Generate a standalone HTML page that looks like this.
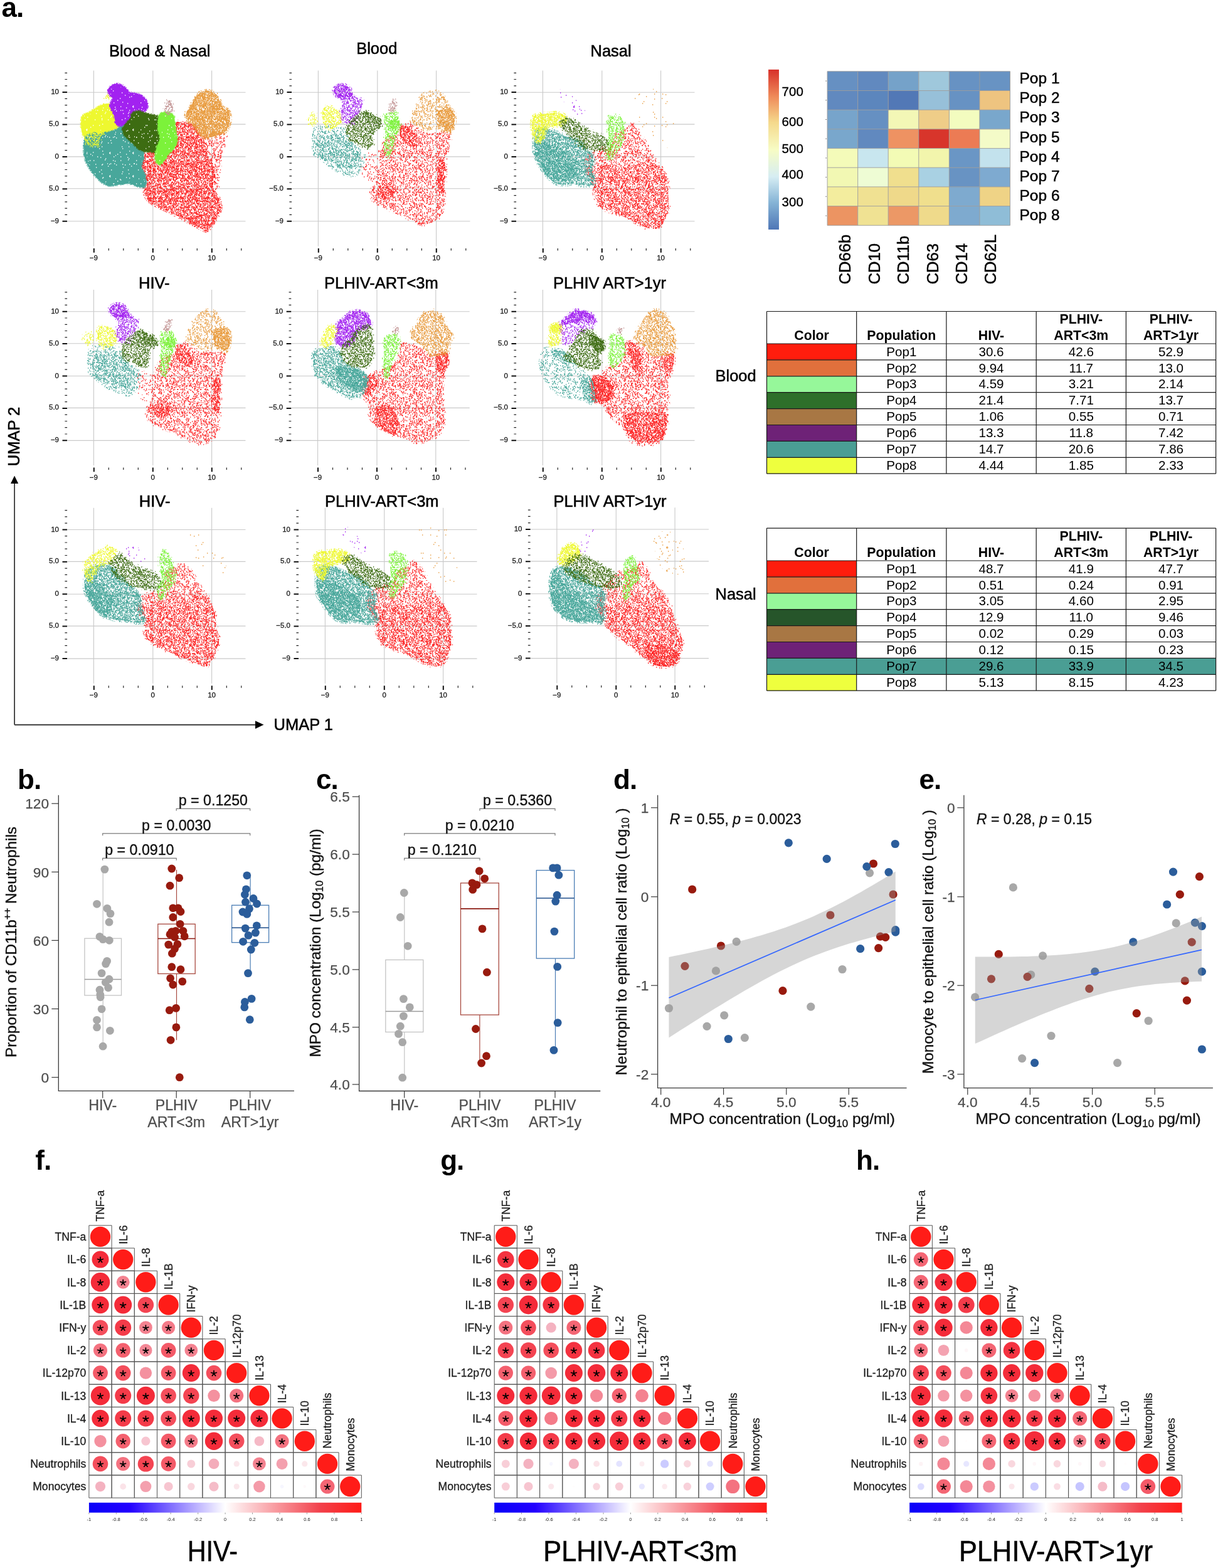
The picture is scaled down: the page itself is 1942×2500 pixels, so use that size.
<!DOCTYPE html><html><head><meta charset="utf-8"><title>Figure</title><style>html,body{margin:0;padding:0;background:#fff}svg{display:block;filter:blur(0.45px)}</style></head><body><svg width="1942" height="2500" viewBox="0 0 1942 2500" font-family='"Liberation Sans", Arial, Helvetica, sans-serif'><defs><pattern id="ptE37" width="37" height="37" patternUnits="userSpaceOnUse"><path d="M20 9h1.35M25 3h1.35M4 34h1.35M6 23h1.35M3 32h1.35M13 2h1.35M5 27h1.35M26 4h1.35M15 5h1.35M35 27h1.35M3 36h1.35M7 14h1.35M3 36h1.35M25 3h1.35M14 2h1.35M35 8h1.35M18 26h1.35M9 34h1.35M7 36h1.35M19 35h1.35M11 6h1.35M36 12h1.35M23 6h1.35M35 4h1.35M36 3h1.35M13 31h1.35M34 27h1.35M20 29h1.35M29 23h1.35M19 15h1.35M11 15h1.35M5 36h1.35M19 33h1.35M31 21h1.35M28 18h1.35M4 7h1.35M32 26h1.35M10 21h1.35M9 31h1.35M26 2h1.35M4 35h1.35M36 20h1.35M21 22h1.35M31 29h1.35M4 5h1.35M17 30h1.35M4 3h1.35M19 36h1.35M28 18h1.35M24 22h1.35M1 29h1.35M22 10h1.35M7 31h1.35M3 13h1.35M18 8h1.35M15 25h1.35M25 31h1.35M5 10h1.35M28 25h1.35M35 17h1.35M8 27h1.35M35 17h1.35M26 22h1.35M24 14h1.35M9 5h1.35M11 9h1.35M14 14h1.35M0 31h1.35M11 16h1.35M18 0h1.35M9 26h1.35M34 23h1.35M36 20h1.35M8 32h1.35M3 29h1.35M35 25h1.35M25 25h1.35M25 6h1.35M30 25h1.35M3 12h1.35M4 13h1.35M28 10h1.35M7 21h1.35M3 6h1.35M0 36h1.35M9 34h1.35M6 23h1.35M1 4h1.35M13 24h1.35M9 16h1.35M22 23h1.35M30 7h1.35M7 31h1.35M29 30h1.35M30 19h1.35M5 9h1.35M6 21h1.35M16 30h1.35M10 33h1.35M1 13h1.35M33 23h1.35M9 34h1.35M1 33h1.35M19 5h1.35M16 33h1.35M23 10h1.35M22 14h1.35M34 34h1.35M32 21h1.35M14 12h1.35M15 25h1.35M14 12h1.35M33 31h1.35M22 1h1.35M1 17h1.35M30 16h1.35M12 22h1.35M28 22h1.35M23 5h1.35M14 6h1.35M14 30h1.35M12 21h1.35M13 30h1.35M0 30h1.35M22 5h1.35M7 24h1.35M12 30h1.35M11 27h1.35M21 5h1.35M25 29h1.35M25 5h1.35M10 10h1.35M8 1h1.35M9 29h1.35M9 30h1.35M22 9h1.35M35 35h1.35M8 1h1.35M0 6h1.35M33 8h1.35M27 12h1.35M13 1h1.35M16 13h1.35M18 32h1.35M15 20h1.35M16 34h1.35M26 8h1.35M3 22h1.35M29 33h1.35M26 32h1.35M8 34h1.35M9 33h1.35M32 1h1.35M28 11h1.35M0 9h1.35M11 9h1.35M30 7h1.35M35 3h1.35M20 33h1.35M33 35h1.35M30 6h1.35M35 3h1.35M15 12h1.35M17 2h1.35M6 32h1.35M28 35h1.35M1 4h1.35M28 20h1.35M32 32h1.35M12 17h1.35M28 32h1.35M34 30h1.35M32 15h1.35M33 16h1.35M35 12h1.35M28 8h1.35M26 7h1.35M25 28h1.35M20 4h1.35M15 27h1.35M4 13h1.35M19 7h1.35M9 23h1.35M9 16h1.35M8 29h1.35M14 6h1.35M25 31h1.35M10 14h1.35M10 27h1.35M32 25h1.35M21 26h1.35M12 22h1.35M20 5h1.35M23 1h1.35M21 35h1.35M29 28h1.35M1 24h1.35M21 33h1.35M18 32h1.35M4 7h1.35M14 6h1.35M5 16h1.35M17 2h1.35M11 17h1.35M8 27h1.35M16 25h1.35M9 34h1.35M32 36h1.35M31 20h1.35M5 17h1.35M3 11h1.35M27 4h1.35M17 1h1.35M5 16h1.35M5 14h1.35M4 16h1.35M7 29h1.35M0 21h1.35M35 26h1.35M17 8h1.35M2 33h1.35M15 7h1.35M10 16h1.35M3 11h1.35M12 19h1.35M19 33h1.35M13 18h1.35M28 32h1.35M11 17h1.35M22 1h1.35M16 2h1.35M0 1h1.35M32 35h1.35M12 32h1.35M30 15h1.35M28 6h1.35M27 31h1.35M34 25h1.35M32 19h1.35M13 14h1.35M21 12h1.35M8 25h1.35M22 3h1.35M8 0h1.35M4 16h1.35M27 10h1.35M3 5h1.35M24 32h1.35M18 15h1.35M18 2h1.35M29 11h1.35M10 17h1.35M28 0h1.35M16 23h1.35M21 35h1.35M20 15h1.35M2 19h1.35M13 22h1.35M11 0h1.35M21 24h1.35M5 30h1.35M17 32h1.35M12 15h1.35M32 0h1.35M5 16h1.35M5 9h1.35M25 2h1.35M25 1h1.35M19 19h1.35M14 5h1.35M33 9h1.35M24 20h1.35M31 9h1.35M18 9h1.35M2 32h1.35M27 32h1.35M8 33h1.35M32 36h1.35M1 14h1.35M5 1h1.35M2 8h1.35M23 6h1.35M24 28h1.35M35 3h1.35M1 34h1.35M15 31h1.35M16 0h1.35M29 4h1.35M32 34h1.35M5 33h1.35M4 30h1.35M16 4h1.35M16 15h1.35M13 14h1.35M29 31h1.35M24 4h1.35M30 18h1.35M2 12h1.35M4 9h1.35M21 16h1.35M19 36h1.35M8 0h1.35M30 3h1.35M31 17h1.35M6 13h1.35M31 18h1.35M33 18h1.35M29 29h1.35M29 7h1.35M35 12h1.35M19 5h1.35M30 1h1.35M18 29h1.35M4 32h1.35M28 17h1.35M24 13h1.35M13 4h1.35M5 9h1.35M33 16h1.35M23 8h1.35M32 17h1.35M7 23h1.35M14 31h1.35M31 25h1.35M1 10h1.35M0 31h1.35M28 25h1.35M19 9h1.35M26 22h1.35M24 20h1.35M7 21h1.35M0 20h1.35M21 25h1.35M7 12h1.35M0 18h1.35M16 23h1.35M4 25h1.35M24 4h1.35M23 27h1.35M17 3h1.35M17 6h1.35M3 18h1.35M9 15h1.35M17 27h1.35M32 20h1.35M12 23h1.35M27 1h1.35M25 35h1.35M35 13h1.35M5 3h1.35M26 28h1.35M8 18h1.35M31 3h1.35M35 8h1.35M10 30h1.35M26 21h1.35M18 19h1.35M16 16h1.35M25 15h1.35M19 30h1.35M35 25h1.35M7 10h1.35M10 4h1.35M13 32h1.35M31 35h1.35M14 28h1.35M21 28h1.35M27 8h1.35M35 12h1.35M15 5h1.35M11 21h1.35M35 5h1.35M20 15h1.35M23 16h1.35M36 12h1.35M1 26h1.35M24 26h1.35M33 13h1.35M24 17h1.35M21 3h1.35M31 17h1.35M36 23h1.35M8 32h1.35M33 13h1.35M5 17h1.35M15 24h1.35M25 28h1.35M27 19h1.35M1 8h1.35M2 27h1.35M30 31h1.35M0 4h1.35M25 33h1.35M29 28h1.35M15 6h1.35M14 9h1.35M9 33h1.35M6 29h1.35M5 35h1.35M2 0h1.35M8 14h1.35M36 2h1.35M19 8h1.35M16 33h1.35M27 7h1.35M6 4h1.35M19 33h1.35M12 24h1.35M16 14h1.35M0 0h1.35M34 19h1.35M29 17h1.35M20 15h1.35M30 33h1.35M15 35h1.35M15 1h1.35M26 19h1.35M3 1h1.35M12 31h1.35M26 5h1.35M16 14h1.35M27 23h1.35M14 31h1.35M2 21h1.35M26 23h1.35M25 12h1.35M0 18h1.35M32 4h1.35M13 31h1.35M12 19h1.35M12 14h1.35M29 14h1.35M16 18h1.35M6 31h1.35M11 14h1.35M31 26h1.35M3 9h1.35M25 3h1.35M13 1h1.35M9 26h1.35M3 3h1.35M11 25h1.35M28 20h1.35M7 5h1.35M10 21h1.35M12 11h1.35M33 29h1.35M2 19h1.35M24 23h1.35M21 28h1.35M10 6h1.35M0 5h1.35M17 5h1.35M22 26h1.35M7 35h1.35M13 24h1.35M22 19h1.35M27 5h1.35M3 30h1.35M12 23h1.35M34 28h1.35M12 20h1.35M23 30h1.35M1 26h1.35M15 25h1.35M2 24h1.35M2 29h1.35M4 3h1.35M16 12h1.35M4 21h1.35M23 17h1.35M21 2h1.35M16 20h1.35M17 19h1.35M0 4h1.35M1 14h1.35M6 30h1.35M29 24h1.35M16 27h1.35M31 8h1.35M31 11h1.35M0 19h1.35M9 15h1.35M20 20h1.35M29 23h1.35M5 32h1.35M12 25h1.35M10 15h1.35M26 4h1.35M2 30h1.35M35 34h1.35M20 10h1.35M27 6h1.35M4 16h1.35M5 13h1.35M6 26h1.35M31 28h1.35M11 14h1.35M8 26h1.35M29 15h1.35M34 7h1.35M18 18h1.35M17 36h1.35M17 23h1.35M16 16h1.35M12 28h1.35M15 11h1.35M15 15h1.35M9 18h1.35M12 20h1.35M4 25h1.35M16 15h1.35M32 33h1.35M14 6h1.35M29 2h1.35M6 0h1.35M30 14h1.35M28 23h1.35M2 18h1.35M14 7h1.35M3 12h1.35M12 4h1.35M23 32h1.35M11 28h1.35M16 0h1.35M6 22h1.35M13 2h1.35M23 21h1.35M9 2h1.35M13 16h1.35M2 13h1.35M0 20h1.35M26 23h1.35M11 19h1.35M4 13h1.35M2 31h1.35M35 30h1.35M4 26h1.35M6 25h1.35M35 9h1.35M34 5h1.35M10 25h1.35M17 26h1.35M18 19h1.35M26 3h1.35M19 36h1.35M22 26h1.35M26 1h1.35M23 12h1.35M25 25h1.35M13 0h1.35M27 10h1.35M27 7h1.35M5 25h1.35M36 23h1.35M29 10h1.35M8 0h1.35M3 35h1.35M9 25h1.35M5 36h1.35M23 32h1.35M10 9h1.35M22 18h1.35M10 33h1.35M10 4h1.35M6 24h1.35M31 12h1.35M19 8h1.35" stroke="#fff" stroke-width="1.35"/></pattern><pattern id="ptE43" width="43" height="43" patternUnits="userSpaceOnUse"><path d="M2 30h1.35M20 3h1.35M38 40h1.35M24 5h1.35M39 10h1.35M40 14h1.35M39 25h1.35M39 12h1.35M30 11h1.35M36 13h1.35M2 25h1.35M33 10h1.35M24 22h1.35M7 9h1.35M15 12h1.35M2 35h1.35M2 42h1.35M20 7h1.35M24 38h1.35M29 35h1.35M40 19h1.35M41 26h1.35M19 37h1.35M15 27h1.35M24 42h1.35M23 28h1.35M32 28h1.35M11 1h1.35M0 39h1.35M31 29h1.35M15 28h1.35M39 29h1.35M11 30h1.35M25 6h1.35M4 8h1.35M22 27h1.35M23 5h1.35M28 32h1.35M32 42h1.35M2 2h1.35M40 8h1.35M5 20h1.35M32 5h1.35M3 32h1.35M24 41h1.35M8 1h1.35M4 39h1.35M7 12h1.35M8 31h1.35M18 10h1.35M14 4h1.35M22 39h1.35M16 10h1.35M20 39h1.35M17 29h1.35M9 16h1.35M32 30h1.35M13 37h1.35M16 39h1.35M32 15h1.35M20 23h1.35M2 12h1.35M11 25h1.35M10 40h1.35M17 20h1.35M24 10h1.35M16 7h1.35M33 3h1.35M40 23h1.35M28 35h1.35M33 37h1.35M6 16h1.35M34 40h1.35M25 23h1.35M16 24h1.35M23 36h1.35M9 23h1.35M21 5h1.35M28 14h1.35M11 39h1.35M3 18h1.35M33 16h1.35M19 40h1.35M37 42h1.35M20 0h1.35M2 14h1.35M9 18h1.35M39 40h1.35M27 26h1.35M32 23h1.35M3 8h1.35M31 14h1.35M39 41h1.35M2 1h1.35M3 0h1.35M36 22h1.35M19 6h1.35M33 22h1.35M34 14h1.35M26 37h1.35M19 37h1.35M8 13h1.35M23 39h1.35M30 10h1.35M8 0h1.35M15 9h1.35M28 6h1.35M4 40h1.35M9 42h1.35M17 25h1.35M16 0h1.35M3 41h1.35M35 22h1.35M38 41h1.35M37 28h1.35M38 33h1.35M31 15h1.35M10 0h1.35M2 3h1.35M34 1h1.35M25 11h1.35M15 10h1.35M3 6h1.35M0 39h1.35M35 42h1.35M12 9h1.35M26 12h1.35M33 38h1.35M41 32h1.35M41 41h1.35M26 39h1.35M11 32h1.35M19 4h1.35M19 40h1.35M3 30h1.35M34 0h1.35M24 27h1.35M29 5h1.35M41 28h1.35M11 14h1.35M6 16h1.35M14 41h1.35M2 7h1.35M21 16h1.35M3 17h1.35M40 35h1.35M27 33h1.35M16 18h1.35M41 13h1.35M5 32h1.35M0 10h1.35M16 15h1.35M12 10h1.35M20 12h1.35M24 21h1.35M38 15h1.35M24 40h1.35M42 34h1.35M30 30h1.35M33 0h1.35M1 27h1.35M14 36h1.35M19 13h1.35M25 39h1.35M37 4h1.35M36 10h1.35M9 2h1.35M1 7h1.35M6 39h1.35M10 22h1.35M9 1h1.35M1 2h1.35M8 41h1.35M40 2h1.35M4 2h1.35M4 37h1.35M23 12h1.35M34 42h1.35M4 24h1.35M6 15h1.35M13 13h1.35M7 2h1.35M2 40h1.35M5 40h1.35M40 18h1.35M30 6h1.35M8 6h1.35M41 13h1.35M18 20h1.35M21 27h1.35M16 1h1.35M22 16h1.35M18 3h1.35M23 20h1.35M38 32h1.35M30 18h1.35M39 1h1.35M26 1h1.35M27 33h1.35M6 22h1.35M30 3h1.35M34 36h1.35M13 5h1.35M36 18h1.35M10 27h1.35M0 33h1.35M12 18h1.35M3 0h1.35M22 31h1.35M6 31h1.35M11 31h1.35M37 22h1.35M32 16h1.35M36 10h1.35M18 13h1.35M14 31h1.35M10 7h1.35M40 5h1.35M31 35h1.35M6 40h1.35M20 22h1.35M6 25h1.35M25 5h1.35M27 41h1.35M1 23h1.35M13 19h1.35M16 27h1.35M34 32h1.35M10 24h1.35M40 14h1.35M29 8h1.35M34 38h1.35M38 41h1.35M2 22h1.35M37 20h1.35M33 9h1.35M28 42h1.35M35 20h1.35M10 29h1.35M28 16h1.35M37 14h1.35M8 21h1.35M29 41h1.35M15 32h1.35M12 17h1.35M19 39h1.35M9 9h1.35M15 20h1.35M38 33h1.35M22 10h1.35M15 20h1.35M12 16h1.35M6 10h1.35M42 6h1.35M12 24h1.35M9 9h1.35M19 19h1.35M27 17h1.35M12 6h1.35M40 6h1.35M17 13h1.35M24 29h1.35M2 0h1.35M25 27h1.35M14 32h1.35M40 18h1.35M29 1h1.35M9 16h1.35M38 25h1.35M0 15h1.35M27 36h1.35M37 41h1.35M26 14h1.35M42 41h1.35M41 37h1.35M14 11h1.35M41 7h1.35M29 27h1.35M20 16h1.35M40 6h1.35M26 15h1.35M25 40h1.35M10 16h1.35M27 30h1.35M29 1h1.35M39 26h1.35M33 42h1.35M11 41h1.35M20 0h1.35M24 31h1.35M6 2h1.35M16 34h1.35M13 10h1.35M12 33h1.35M22 6h1.35M36 29h1.35M34 13h1.35M30 32h1.35M1 40h1.35M23 33h1.35M21 26h1.35M29 13h1.35M11 25h1.35M32 7h1.35M39 22h1.35M40 3h1.35M16 17h1.35M24 25h1.35M3 0h1.35M4 26h1.35M26 40h1.35M22 37h1.35M16 6h1.35M14 19h1.35M25 33h1.35M14 25h1.35M29 13h1.35M10 8h1.35M4 40h1.35M12 30h1.35M41 35h1.35M14 9h1.35M22 42h1.35M40 26h1.35M29 18h1.35M35 41h1.35M8 30h1.35M22 14h1.35M17 24h1.35M16 27h1.35M11 30h1.35M0 17h1.35M22 15h1.35M41 19h1.35M20 30h1.35M31 27h1.35M39 40h1.35M5 42h1.35M23 9h1.35M19 24h1.35M3 5h1.35M36 20h1.35M8 33h1.35M22 40h1.35M37 0h1.35M42 0h1.35M13 4h1.35M41 18h1.35M16 38h1.35M6 37h1.35M9 14h1.35M11 28h1.35M22 9h1.35M13 25h1.35M34 10h1.35M39 38h1.35M5 42h1.35M35 40h1.35M19 12h1.35M31 13h1.35M33 5h1.35M28 42h1.35M7 35h1.35M7 16h1.35M26 14h1.35M8 30h1.35M31 35h1.35M3 30h1.35M29 9h1.35M31 15h1.35M31 10h1.35M34 38h1.35M0 10h1.35M20 29h1.35M36 31h1.35M42 18h1.35M29 23h1.35M27 26h1.35M4 11h1.35M40 23h1.35M40 41h1.35M1 1h1.35M39 2h1.35M21 6h1.35M32 30h1.35M31 9h1.35M2 13h1.35M26 40h1.35M8 21h1.35M6 42h1.35M23 21h1.35M30 33h1.35M35 13h1.35M18 27h1.35M21 27h1.35M16 35h1.35M3 18h1.35M18 22h1.35M31 25h1.35M21 32h1.35M17 32h1.35M22 13h1.35M41 31h1.35M7 21h1.35M12 20h1.35M19 8h1.35M37 40h1.35M5 2h1.35M25 35h1.35M25 34h1.35M36 3h1.35M25 19h1.35M6 0h1.35M2 12h1.35M30 38h1.35M42 3h1.35M32 34h1.35M39 24h1.35M39 9h1.35M40 38h1.35M5 13h1.35M2 42h1.35M40 29h1.35M40 11h1.35M6 42h1.35M11 2h1.35M26 6h1.35M41 0h1.35M23 8h1.35M19 35h1.35M16 19h1.35M11 26h1.35M2 20h1.35M1 27h1.35M36 41h1.35M37 3h1.35M31 36h1.35M33 2h1.35M7 26h1.35M36 25h1.35M28 4h1.35M0 24h1.35M38 37h1.35M42 9h1.35M30 26h1.35M35 6h1.35M5 41h1.35M30 13h1.35M9 40h1.35M0 27h1.35M0 0h1.35M42 7h1.35M5 13h1.35M7 8h1.35M30 1h1.35M17 36h1.35M15 28h1.35M11 3h1.35M23 9h1.35M5 18h1.35M40 35h1.35M31 29h1.35M42 16h1.35M3 2h1.35M0 3h1.35M0 41h1.35M39 5h1.35M24 19h1.35M19 38h1.35M10 31h1.35M38 3h1.35M20 23h1.35M36 28h1.35M30 10h1.35M9 7h1.35M23 41h1.35M10 40h1.35M26 30h1.35M24 28h1.35M17 36h1.35M21 18h1.35M17 3h1.35M39 41h1.35M38 21h1.35M38 0h1.35M9 38h1.35M19 37h1.35M27 15h1.35M24 24h1.35M24 38h1.35M14 28h1.35M18 0h1.35M20 16h1.35M17 27h1.35M10 37h1.35M2 18h1.35M9 36h1.35M9 17h1.35M35 31h1.35M22 34h1.35M5 34h1.35M35 31h1.35M24 12h1.35M14 19h1.35M38 3h1.35M25 29h1.35M13 16h1.35M37 0h1.35M24 29h1.35M34 5h1.35M34 22h1.35M4 14h1.35M25 37h1.35M33 16h1.35M33 20h1.35M30 32h1.35M37 12h1.35M12 13h1.35M12 5h1.35M11 18h1.35M23 36h1.35M36 22h1.35M25 33h1.35M9 15h1.35M2 31h1.35M23 6h1.35M23 40h1.35M29 5h1.35M9 20h1.35M38 1h1.35M22 17h1.35M33 38h1.35M1 6h1.35M2 13h1.35M36 31h1.35M37 36h1.35M13 16h1.35M17 27h1.35M6 28h1.35M37 38h1.35M8 16h1.35M2 21h1.35M12 11h1.35M24 5h1.35M1 3h1.35M2 35h1.35M23 29h1.35M31 4h1.35M38 40h1.35M25 7h1.35M5 16h1.35M20 36h1.35M14 41h1.35M5 42h1.35M32 25h1.35M11 28h1.35M10 23h1.35M15 14h1.35M11 2h1.35M16 22h1.35M3 35h1.35M1 3h1.35M16 32h1.35M41 30h1.35M3 6h1.35M9 20h1.35M0 12h1.35M19 37h1.35M37 28h1.35M41 6h1.35M30 20h1.35M23 16h1.35M24 7h1.35M23 30h1.35M24 10h1.35M28 15h1.35M9 0h1.35M29 12h1.35M2 10h1.35M14 4h1.35M39 23h1.35M8 28h1.35M6 24h1.35M1 40h1.35M4 28h1.35M21 20h1.35M14 30h1.35M7 40h1.35M23 9h1.35M21 14h1.35M3 11h1.35M28 35h1.35M9 28h1.35M9 17h1.35M26 26h1.35M15 9h1.35M1 17h1.35M36 18h1.35M21 10h1.35M16 31h1.35M6 20h1.35M29 30h1.35M7 9h1.35M32 3h1.35M40 42h1.35M13 35h1.35M30 18h1.35M7 16h1.35M12 23h1.35M27 16h1.35M15 15h1.35M6 24h1.35M18 26h1.35M10 3h1.35M18 9h1.35M40 1h1.35M28 32h1.35M21 32h1.35M8 28h1.35M0 33h1.35M18 11h1.35M23 27h1.35M2 26h1.35M13 17h1.35M36 11h1.35M8 11h1.35M33 14h1.35M11 12h1.35M38 5h1.35M5 38h1.35M31 17h1.35M11 13h1.35M8 39h1.35M42 40h1.35M12 37h1.35M19 12h1.35M0 4h1.35M33 26h1.35M3 33h1.35M22 21h1.35M18 40h1.35M31 5h1.35M0 26h1.35M30 8h1.35M42 17h1.35M15 11h1.35M36 23h1.35M2 10h1.35M23 36h1.35M38 0h1.35M22 33h1.35M28 33h1.35M4 7h1.35M22 15h1.35M20 24h1.35M36 3h1.35M18 6h1.35M31 28h1.35M32 1h1.35M33 34h1.35M8 1h1.35M15 5h1.35M14 39h1.35M11 10h1.35M6 19h1.35M16 35h1.35M1 1h1.35M6 12h1.35M16 1h1.35M38 40h1.35M36 29h1.35M33 15h1.35M28 6h1.35M22 6h1.35M11 2h1.35M17 7h1.35M29 31h1.35M37 32h1.35M17 7h1.35M7 7h1.35M25 8h1.35M34 37h1.35M14 14h1.35M9 42h1.35M36 29h1.35M25 10h1.35M1 40h1.35M24 26h1.35M38 38h1.35M33 2h1.35M25 3h1.35M23 21h1.35M25 15h1.35M21 27h1.35M36 20h1.35M25 35h1.35M3 20h1.35M33 9h1.35M22 15h1.35M27 42h1.35M40 0h1.35M23 6h1.35M33 11h1.35M4 20h1.35M27 12h1.35M32 42h1.35M1 14h1.35M8 26h1.35M25 29h1.35M40 2h1.35M2 2h1.35M41 39h1.35M17 39h1.35M17 40h1.35M34 2h1.35M39 6h1.35M16 7h1.35M33 0h1.35M27 15h1.35M2 18h1.35M7 19h1.35M22 41h1.35M10 7h1.35M3 38h1.35M32 17h1.35M5 29h1.35M37 34h1.35M9 28h1.35M7 32h1.35M8 18h1.35M26 36h1.35M18 17h1.35M15 5h1.35M34 18h1.35M29 39h1.35M36 14h1.35M41 24h1.35M12 35h1.35M23 29h1.35M35 19h1.35M39 30h1.35M30 19h1.35M1 15h1.35M21 14h1.35M12 32h1.35M34 24h1.35M37 25h1.35M0 22h1.35M10 15h1.35M20 35h1.35M20 31h1.35M17 18h1.35M13 18h1.35M3 1h1.35M10 35h1.35M4 38h1.35M22 28h1.35M42 3h1.35M33 24h1.35M28 22h1.35M6 33h1.35M14 9h1.35M26 21h1.35M42 22h1.35M8 12h1.35M39 39h1.35M17 33h1.35M6 30h1.35" stroke="#fff" stroke-width="1.35"/></pattern><mask id="mE" maskUnits="userSpaceOnUse" x="0" y="0" width="1100" height="1100"><rect width="1100" height="1100" fill="url(#ptE37)"/><rect width="1100" height="1100" fill="url(#ptE43)"/></mask><pattern id="ptD37" width="37" height="37" patternUnits="userSpaceOnUse"><path d="M17 8h1.35M26 6h1.35M0 26h1.35M35 7h1.35M31 25h1.35M36 9h1.35M26 17h1.35M7 24h1.35M28 29h1.35M18 22h1.35M18 22h1.35M25 33h1.35M35 24h1.35M20 0h1.35M31 24h1.35M28 19h1.35M11 34h1.35M19 9h1.35M27 36h1.35M24 14h1.35M5 21h1.35M20 15h1.35M20 13h1.35M27 0h1.35M1 3h1.35M16 36h1.35M31 19h1.35M34 19h1.35M34 27h1.35M33 33h1.35M27 24h1.35M29 22h1.35M2 22h1.35M28 0h1.35M4 33h1.35M14 6h1.35M26 23h1.35M32 25h1.35M35 36h1.35M9 12h1.35M26 31h1.35M25 28h1.35M21 33h1.35M5 10h1.35M23 20h1.35M23 4h1.35M19 32h1.35M11 7h1.35M18 21h1.35M32 26h1.35M10 33h1.35M18 32h1.35M13 32h1.35M12 26h1.35M11 3h1.35M36 6h1.35M22 36h1.35M2 26h1.35M0 0h1.35M19 35h1.35M0 19h1.35M25 6h1.35M0 1h1.35M12 11h1.35M31 35h1.35M36 17h1.35M34 32h1.35M9 36h1.35M12 26h1.35M7 9h1.35M10 33h1.35M32 6h1.35M1 6h1.35M4 10h1.35M33 31h1.35M29 27h1.35M3 0h1.35M20 9h1.35M15 22h1.35M17 10h1.35M2 17h1.35M6 4h1.35M22 12h1.35M28 24h1.35M1 3h1.35M14 25h1.35M2 28h1.35M3 15h1.35M15 14h1.35M2 10h1.35M11 20h1.35M0 29h1.35M19 26h1.35M16 31h1.35M4 15h1.35M24 14h1.35M26 19h1.35M25 31h1.35M1 15h1.35M5 11h1.35M10 22h1.35M24 11h1.35M0 18h1.35M25 35h1.35M23 7h1.35M21 34h1.35M24 21h1.35M25 4h1.35M7 27h1.35M22 35h1.35M15 24h1.35M12 29h1.35M18 22h1.35M15 27h1.35M2 17h1.35M1 21h1.35M9 15h1.35M8 5h1.35M12 17h1.35M34 8h1.35M35 28h1.35M29 15h1.35M10 23h1.35M22 13h1.35M25 24h1.35M13 19h1.35M30 32h1.35M13 14h1.35M28 8h1.35M16 28h1.35M23 34h1.35M15 25h1.35M32 13h1.35M8 7h1.35M32 5h1.35M34 17h1.35M24 1h1.35M36 9h1.35M19 0h1.35M24 5h1.35M11 14h1.35M20 12h1.35M6 4h1.35M35 23h1.35M32 19h1.35M12 4h1.35M19 5h1.35M14 18h1.35M8 25h1.35M18 22h1.35M25 29h1.35M8 17h1.35M11 1h1.35M23 22h1.35M26 1h1.35M29 15h1.35M25 22h1.35M6 11h1.35M18 7h1.35M17 14h1.35M2 25h1.35M2 10h1.35M27 12h1.35M19 9h1.35M24 2h1.35M35 19h1.35M11 36h1.35M14 36h1.35M31 33h1.35M16 27h1.35M36 22h1.35M0 7h1.35M18 2h1.35M3 15h1.35M7 2h1.35M20 13h1.35M22 5h1.35M26 25h1.35M14 17h1.35M33 5h1.35M22 27h1.35M28 21h1.35M32 28h1.35M32 3h1.35M13 27h1.35M32 8h1.35M31 12h1.35M2 35h1.35M16 11h1.35M34 10h1.35M15 34h1.35M16 15h1.35M3 10h1.35M22 22h1.35M26 5h1.35M12 19h1.35M8 8h1.35M31 30h1.35M15 15h1.35M0 32h1.35M28 8h1.35M22 19h1.35M8 9h1.35M36 15h1.35M21 7h1.35M35 27h1.35M10 9h1.35M29 25h1.35M13 7h1.35M18 0h1.35M23 31h1.35M13 2h1.35M3 17h1.35M19 12h1.35M7 19h1.35M28 7h1.35M10 20h1.35M28 29h1.35M36 23h1.35M18 10h1.35M35 4h1.35M2 0h1.35M29 31h1.35M5 21h1.35M36 16h1.35M6 31h1.35M27 31h1.35M12 34h1.35M20 0h1.35M22 5h1.35M18 16h1.35M15 5h1.35M8 1h1.35M1 25h1.35M9 18h1.35M23 11h1.35M33 10h1.35M6 19h1.35M20 24h1.35M11 22h1.35M20 14h1.35M23 8h1.35M35 23h1.35M16 15h1.35M3 2h1.35M6 36h1.35M25 3h1.35M13 31h1.35M27 31h1.35M10 19h1.35M5 9h1.35M14 10h1.35M8 28h1.35M25 5h1.35M2 28h1.35M30 12h1.35M13 23h1.35M0 2h1.35M32 27h1.35M9 18h1.35M4 3h1.35M32 26h1.35M21 4h1.35M28 0h1.35M11 10h1.35M24 18h1.35M0 28h1.35M36 22h1.35M36 12h1.35M30 5h1.35M34 20h1.35M33 29h1.35M27 34h1.35M9 25h1.35M5 3h1.35M21 19h1.35M36 36h1.35M26 23h1.35M30 8h1.35M19 21h1.35M33 1h1.35M12 14h1.35M28 5h1.35M9 23h1.35M35 26h1.35M23 33h1.35M15 36h1.35M28 25h1.35M16 7h1.35M14 11h1.35M12 35h1.35M7 14h1.35M16 6h1.35M12 33h1.35M16 31h1.35M14 35h1.35M29 14h1.35M34 36h1.35M7 32h1.35M36 5h1.35M26 4h1.35M28 8h1.35M32 35h1.35M32 7h1.35M32 6h1.35M29 25h1.35M34 10h1.35M12 36h1.35M30 5h1.35M8 23h1.35M3 25h1.35M15 3h1.35M23 2h1.35M0 13h1.35M29 19h1.35M7 8h1.35M27 5h1.35M12 36h1.35M7 22h1.35M10 23h1.35M21 0h1.35M16 7h1.35M15 23h1.35M32 33h1.35M22 31h1.35M2 22h1.35M6 22h1.35M35 20h1.35M7 2h1.35M15 16h1.35M22 12h1.35M28 1h1.35M28 7h1.35M1 31h1.35M7 4h1.35M16 11h1.35M9 35h1.35M18 24h1.35M9 16h1.35M34 17h1.35M28 0h1.35M1 21h1.35M9 31h1.35M32 30h1.35M2 2h1.35M4 11h1.35M25 30h1.35M10 28h1.35M25 14h1.35M33 4h1.35M23 21h1.35M33 13h1.35M19 8h1.35M2 13h1.35M10 23h1.35M29 21h1.35M36 29h1.35M24 22h1.35M20 0h1.35M21 30h1.35M21 14h1.35M1 15h1.35M29 2h1.35" stroke="#fff" stroke-width="1.35"/></pattern><pattern id="ptD43" width="43" height="43" patternUnits="userSpaceOnUse"><path d="M40 9h1.35M42 9h1.35M17 24h1.35M17 4h1.35M32 16h1.35M22 36h1.35M36 33h1.35M37 8h1.35M2 35h1.35M6 12h1.35M27 40h1.35M36 40h1.35M6 23h1.35M18 15h1.35M9 4h1.35M19 21h1.35M23 32h1.35M40 15h1.35M22 35h1.35M25 21h1.35M3 21h1.35M42 20h1.35M30 32h1.35M23 15h1.35M15 22h1.35M9 8h1.35M13 0h1.35M42 29h1.35M25 28h1.35M25 36h1.35M19 10h1.35M37 4h1.35M9 19h1.35M19 16h1.35M36 35h1.35M42 21h1.35M4 12h1.35M37 5h1.35M37 11h1.35M19 37h1.35M22 29h1.35M22 27h1.35M4 31h1.35M20 11h1.35M17 16h1.35M34 1h1.35M10 40h1.35M17 15h1.35M1 13h1.35M3 25h1.35M28 12h1.35M38 18h1.35M32 41h1.35M6 12h1.35M15 3h1.35M8 38h1.35M3 5h1.35M4 36h1.35M21 8h1.35M0 12h1.35M17 34h1.35M41 0h1.35M40 20h1.35M1 13h1.35M20 20h1.35M1 41h1.35M31 25h1.35M39 21h1.35M11 3h1.35M26 2h1.35M5 40h1.35M39 21h1.35M31 38h1.35M25 16h1.35M29 0h1.35M1 20h1.35M36 41h1.35M20 3h1.35M26 39h1.35M21 10h1.35M5 1h1.35M9 13h1.35M9 33h1.35M5 22h1.35M23 27h1.35M22 34h1.35M37 35h1.35M9 42h1.35M38 36h1.35M21 14h1.35M39 16h1.35M30 2h1.35M41 19h1.35M41 35h1.35M29 35h1.35M17 23h1.35M33 33h1.35M17 8h1.35M16 0h1.35M35 30h1.35M6 41h1.35M23 9h1.35M40 14h1.35M25 5h1.35M1 39h1.35M8 7h1.35M3 34h1.35M32 13h1.35M35 11h1.35M16 38h1.35M23 9h1.35M11 10h1.35M33 1h1.35M22 15h1.35M28 31h1.35M13 40h1.35M22 24h1.35M29 13h1.35M20 1h1.35M6 42h1.35M0 4h1.35M41 25h1.35M22 3h1.35M14 36h1.35M24 26h1.35M24 42h1.35M40 14h1.35M1 16h1.35M1 16h1.35M27 15h1.35M14 22h1.35M13 20h1.35M27 41h1.35M17 19h1.35M31 13h1.35M36 10h1.35M30 17h1.35M8 19h1.35M18 5h1.35M21 0h1.35M31 15h1.35M10 20h1.35M39 38h1.35M28 13h1.35M37 3h1.35M13 23h1.35M2 28h1.35M11 27h1.35M8 19h1.35M1 7h1.35M9 0h1.35M8 19h1.35M9 32h1.35M22 6h1.35M10 29h1.35M25 5h1.35M26 21h1.35M41 42h1.35M25 21h1.35M2 37h1.35M15 12h1.35M40 0h1.35M2 8h1.35M32 38h1.35M14 36h1.35M27 6h1.35M1 3h1.35M20 4h1.35M7 7h1.35M31 8h1.35M33 27h1.35M0 11h1.35M14 34h1.35M9 40h1.35M34 32h1.35M7 33h1.35M22 31h1.35M4 22h1.35M13 14h1.35M4 17h1.35M11 0h1.35M16 17h1.35M4 2h1.35M12 32h1.35M3 26h1.35M35 23h1.35M17 0h1.35M20 2h1.35M41 29h1.35M34 18h1.35M35 21h1.35M26 17h1.35M25 27h1.35M20 34h1.35M26 24h1.35M9 24h1.35M24 26h1.35M9 40h1.35M0 15h1.35M38 32h1.35M16 39h1.35M24 15h1.35M12 42h1.35M7 5h1.35M39 2h1.35M3 25h1.35M35 20h1.35M41 28h1.35M35 42h1.35M20 29h1.35M36 0h1.35M30 41h1.35M30 32h1.35M21 37h1.35M34 24h1.35M15 40h1.35M24 22h1.35M4 25h1.35M33 17h1.35M39 42h1.35M20 4h1.35M40 34h1.35M42 14h1.35M39 16h1.35M16 30h1.35M22 33h1.35M37 30h1.35M36 14h1.35M9 4h1.35M33 23h1.35M33 13h1.35M33 10h1.35M23 15h1.35M11 9h1.35M42 29h1.35M11 40h1.35M41 2h1.35M20 24h1.35M23 27h1.35M7 26h1.35M9 16h1.35M24 6h1.35M23 22h1.35M42 33h1.35M33 19h1.35M28 42h1.35M5 17h1.35M25 18h1.35M28 7h1.35M28 40h1.35M30 11h1.35M33 9h1.35M0 8h1.35M23 31h1.35M33 42h1.35M15 39h1.35M23 33h1.35M21 24h1.35M16 1h1.35M35 12h1.35M0 36h1.35M16 3h1.35M37 11h1.35M19 34h1.35M17 20h1.35M16 15h1.35M16 28h1.35M5 33h1.35M40 31h1.35M5 12h1.35M8 27h1.35M18 39h1.35M23 2h1.35M28 24h1.35M23 2h1.35M18 26h1.35M27 41h1.35M38 16h1.35M22 15h1.35M24 37h1.35M8 39h1.35M12 37h1.35M23 4h1.35M42 13h1.35M21 4h1.35M5 28h1.35M24 25h1.35M33 26h1.35M31 41h1.35M1 6h1.35M37 36h1.35M29 29h1.35M27 26h1.35M30 11h1.35M4 28h1.35M25 31h1.35M8 32h1.35M0 42h1.35M14 12h1.35M25 34h1.35M2 18h1.35M35 21h1.35M24 29h1.35M7 5h1.35M14 4h1.35M36 0h1.35M6 31h1.35M5 13h1.35M36 29h1.35M3 12h1.35M21 30h1.35M3 35h1.35M26 37h1.35M8 26h1.35M3 40h1.35M9 20h1.35M21 12h1.35M33 0h1.35M11 34h1.35M17 33h1.35M16 5h1.35M20 24h1.35M16 42h1.35M19 35h1.35M25 32h1.35M26 3h1.35M19 19h1.35M15 24h1.35M27 34h1.35M16 19h1.35M12 8h1.35M3 13h1.35M34 41h1.35M23 29h1.35M42 31h1.35M37 9h1.35M23 21h1.35M12 29h1.35M35 42h1.35M3 20h1.35M0 34h1.35M4 26h1.35M36 20h1.35M2 17h1.35M14 28h1.35M18 12h1.35M13 37h1.35M39 29h1.35M25 28h1.35M13 13h1.35M3 11h1.35M27 40h1.35M7 3h1.35M8 4h1.35M38 31h1.35M11 0h1.35M35 10h1.35M31 14h1.35M18 13h1.35M34 10h1.35M9 13h1.35M33 6h1.35M29 6h1.35M12 5h1.35M3 26h1.35M14 42h1.35M16 28h1.35M27 9h1.35M3 8h1.35M2 10h1.35M28 18h1.35M14 37h1.35M20 35h1.35M9 19h1.35M16 20h1.35M35 13h1.35M9 42h1.35M14 25h1.35M2 20h1.35M24 9h1.35M41 18h1.35M14 41h1.35M34 5h1.35M12 29h1.35M9 11h1.35M27 21h1.35M25 7h1.35M2 22h1.35M7 42h1.35M13 41h1.35M33 33h1.35M4 18h1.35M31 22h1.35M1 31h1.35M5 12h1.35M31 17h1.35M19 38h1.35M37 34h1.35M5 12h1.35M8 30h1.35M17 14h1.35M37 19h1.35M2 37h1.35M38 6h1.35M0 22h1.35M12 9h1.35M42 19h1.35M3 11h1.35M21 22h1.35M28 30h1.35M15 21h1.35M23 11h1.35M7 19h1.35M4 35h1.35M29 6h1.35M35 7h1.35M10 38h1.35M25 29h1.35M2 2h1.35M2 32h1.35M37 6h1.35M26 41h1.35M8 26h1.35M36 22h1.35M4 23h1.35M42 10h1.35M23 10h1.35M42 5h1.35M21 0h1.35M41 30h1.35M19 9h1.35M16 6h1.35M6 15h1.35M7 9h1.35M31 17h1.35M34 34h1.35M7 20h1.35M29 15h1.35M10 36h1.35M34 2h1.35M32 16h1.35M23 12h1.35M18 25h1.35M35 13h1.35M8 15h1.35M34 32h1.35M15 6h1.35M0 6h1.35M3 31h1.35M36 13h1.35M14 5h1.35M10 9h1.35M16 1h1.35M27 25h1.35M39 33h1.35M7 18h1.35M36 7h1.35M5 42h1.35M37 13h1.35M14 15h1.35M38 32h1.35M3 15h1.35M4 38h1.35M21 6h1.35M2 13h1.35M39 11h1.35M19 21h1.35M5 29h1.35M37 11h1.35M0 20h1.35M26 26h1.35M2 5h1.35M15 9h1.35M32 10h1.35M9 22h1.35M8 13h1.35M12 14h1.35M21 4h1.35M0 30h1.35M2 31h1.35M33 21h1.35M4 38h1.35M40 4h1.35M12 40h1.35M3 23h1.35M26 5h1.35M41 22h1.35M37 10h1.35M31 31h1.35M8 16h1.35" stroke="#fff" stroke-width="1.35"/></pattern><mask id="mD" maskUnits="userSpaceOnUse" x="0" y="0" width="1100" height="1100"><rect width="1100" height="1100" fill="url(#ptD37)"/><rect width="1100" height="1100" fill="url(#ptD43)"/></mask><pattern id="ptN37" width="37" height="37" patternUnits="userSpaceOnUse"><path d="M19 3h1.35M29 10h1.35M27 24h1.35M32 19h1.35M34 7h1.35M4 16h1.35M14 15h1.35M12 29h1.35M35 15h1.35M31 36h1.35M3 25h1.35M25 21h1.35M24 25h1.35M5 14h1.35M21 27h1.35M19 0h1.35M19 31h1.35M1 7h1.35M30 26h1.35M26 19h1.35M29 9h1.35M21 34h1.35M13 5h1.35M22 25h1.35M29 2h1.35M18 21h1.35M5 17h1.35M11 28h1.35M26 34h1.35M15 7h1.35M13 2h1.35M24 11h1.35M24 17h1.35M21 9h1.35M23 10h1.35M14 22h1.35M25 19h1.35M31 20h1.35M32 12h1.35M10 25h1.35M33 0h1.35M0 11h1.35M6 15h1.35M29 36h1.35M16 22h1.35M6 35h1.35M32 24h1.35M8 16h1.35M26 4h1.35M32 21h1.35M28 17h1.35M18 23h1.35M19 24h1.35M33 3h1.35M31 31h1.35M23 1h1.35M3 7h1.35M35 24h1.35M28 19h1.35M32 9h1.35M29 2h1.35M20 30h1.35M8 0h1.35M17 9h1.35M12 36h1.35M32 2h1.35M25 11h1.35M17 15h1.35M18 34h1.35M1 26h1.35M35 26h1.35M5 24h1.35M31 23h1.35M17 20h1.35M10 36h1.35M31 3h1.35M34 22h1.35M8 12h1.35M33 3h1.35M10 19h1.35M33 10h1.35M19 3h1.35M19 24h1.35M23 11h1.35M17 19h1.35M30 12h1.35M20 28h1.35M25 6h1.35M16 23h1.35M25 20h1.35M24 30h1.35M17 7h1.35M13 28h1.35M32 26h1.35M10 20h1.35M2 9h1.35M17 34h1.35M30 35h1.35M26 4h1.35M17 25h1.35M23 25h1.35M33 18h1.35M7 16h1.35M28 0h1.35M2 34h1.35M36 19h1.35M22 23h1.35M16 15h1.35M4 35h1.35M6 26h1.35M7 19h1.35M10 11h1.35M7 25h1.35M25 21h1.35M25 25h1.35M31 21h1.35M22 11h1.35M9 34h1.35M33 26h1.35M18 8h1.35M13 21h1.35M4 26h1.35M4 32h1.35M0 36h1.35M15 36h1.35M27 25h1.35M13 36h1.35M17 8h1.35M9 14h1.35M15 32h1.35M7 18h1.35M2 24h1.35M18 8h1.35M24 17h1.35M4 32h1.35M17 13h1.35M14 19h1.35M6 23h1.35M36 5h1.35M23 1h1.35M33 4h1.35M7 20h1.35M13 0h1.35M29 8h1.35M28 17h1.35M32 3h1.35M28 35h1.35M2 2h1.35M34 29h1.35M7 30h1.35M14 18h1.35M21 21h1.35M33 36h1.35M14 13h1.35M35 13h1.35M18 36h1.35M34 1h1.35M14 11h1.35M1 32h1.35M17 27h1.35M23 4h1.35M17 5h1.35M7 25h1.35M24 32h1.35M26 14h1.35M3 23h1.35M34 21h1.35M16 4h1.35M30 36h1.35M8 27h1.35M29 29h1.35M12 21h1.35M12 7h1.35M25 10h1.35M18 12h1.35M4 33h1.35M1 28h1.35M12 12h1.35M16 12h1.35M35 18h1.35M1 1h1.35M4 22h1.35M13 26h1.35M0 34h1.35M16 35h1.35M22 10h1.35M36 20h1.35M22 19h1.35M6 2h1.35M11 22h1.35M26 1h1.35M29 6h1.35M21 6h1.35M9 23h1.35M30 31h1.35M5 21h1.35M20 30h1.35M8 6h1.35M33 36h1.35M16 32h1.35M24 13h1.35M22 16h1.35M1 12h1.35M17 33h1.35M27 24h1.35M10 27h1.35M8 8h1.35M0 7h1.35M13 34h1.35M24 1h1.35M0 5h1.35M29 2h1.35M13 36h1.35M34 4h1.35M20 21h1.35M35 29h1.35M31 13h1.35M0 15h1.35M13 22h1.35M24 6h1.35M6 8h1.35M12 28h1.35M29 36h1.35M28 4h1.35M36 3h1.35M30 10h1.35M25 15h1.35M30 30h1.35M9 7h1.35M31 24h1.35M4 15h1.35M14 0h1.35M25 36h1.35M14 2h1.35M15 6h1.35M12 0h1.35M2 29h1.35M3 25h1.35M15 14h1.35M2 35h1.35M36 26h1.35M16 2h1.35M9 29h1.35M1 30h1.35M6 6h1.35M11 9h1.35M33 10h1.35M32 20h1.35M6 32h1.35M24 0h1.35M4 1h1.35M35 5h1.35M32 35h1.35M34 4h1.35M3 34h1.35M18 29h1.35M25 0h1.35M35 13h1.35M1 11h1.35M32 29h1.35M13 7h1.35M13 27h1.35M7 5h1.35M34 33h1.35M22 6h1.35M5 15h1.35M6 5h1.35M23 17h1.35M19 19h1.35M18 9h1.35M31 36h1.35M21 12h1.35M0 5h1.35M4 2h1.35M7 13h1.35M33 24h1.35M29 26h1.35M36 13h1.35M5 1h1.35M3 1h1.35M8 27h1.35M3 11h1.35M18 28h1.35M16 8h1.35M16 19h1.35M22 1h1.35M20 24h1.35M6 10h1.35M28 10h1.35M30 20h1.35M17 15h1.35M0 26h1.35M34 1h1.35M21 14h1.35M34 22h1.35M21 0h1.35M15 21h1.35M5 34h1.35M10 6h1.35" stroke="#fff" stroke-width="1.35"/></pattern><pattern id="ptN43" width="43" height="43" patternUnits="userSpaceOnUse"><path d="M2 20h1.35M27 40h1.35M21 23h1.35M4 34h1.35M7 29h1.35M10 13h1.35M33 3h1.35M41 42h1.35M34 15h1.35M26 33h1.35M40 5h1.35M41 13h1.35M13 18h1.35M0 16h1.35M27 7h1.35M11 39h1.35M28 39h1.35M10 18h1.35M25 15h1.35M21 16h1.35M1 5h1.35M13 41h1.35M16 39h1.35M41 41h1.35M37 9h1.35M41 4h1.35M38 4h1.35M25 19h1.35M4 4h1.35M4 34h1.35M0 4h1.35M23 4h1.35M9 35h1.35M7 31h1.35M41 32h1.35M17 28h1.35M11 6h1.35M16 19h1.35M25 26h1.35M11 28h1.35M6 29h1.35M21 20h1.35M13 1h1.35M24 14h1.35M6 13h1.35M22 42h1.35M21 17h1.35M39 0h1.35M12 4h1.35M5 10h1.35M42 42h1.35M37 19h1.35M42 16h1.35M11 2h1.35M9 30h1.35M6 3h1.35M24 16h1.35M41 5h1.35M36 37h1.35M14 3h1.35M4 18h1.35M0 17h1.35M8 22h1.35M23 34h1.35M11 8h1.35M23 16h1.35M23 23h1.35M10 33h1.35M42 7h1.35M15 10h1.35M18 24h1.35M1 14h1.35M41 12h1.35M14 24h1.35M23 15h1.35M41 30h1.35M16 0h1.35M3 6h1.35M42 24h1.35M23 15h1.35M18 1h1.35M30 28h1.35M31 7h1.35M7 29h1.35M35 31h1.35M5 25h1.35M7 31h1.35M30 11h1.35M14 27h1.35M28 3h1.35M7 12h1.35M4 17h1.35M23 28h1.35M30 15h1.35M21 35h1.35M3 4h1.35M32 14h1.35M30 13h1.35M36 39h1.35M24 7h1.35M3 27h1.35M33 3h1.35M15 33h1.35M10 32h1.35M20 13h1.35M6 5h1.35M30 16h1.35M29 29h1.35M8 4h1.35M28 40h1.35M20 6h1.35M13 17h1.35M42 23h1.35M4 7h1.35M30 30h1.35M16 11h1.35M32 0h1.35M40 41h1.35M32 1h1.35M41 30h1.35M2 34h1.35M41 14h1.35M31 42h1.35M38 8h1.35M41 23h1.35M9 24h1.35M20 2h1.35M23 42h1.35M41 11h1.35M14 1h1.35M38 29h1.35M5 28h1.35M13 2h1.35M18 28h1.35M8 12h1.35M19 20h1.35M37 12h1.35M4 25h1.35M1 10h1.35M0 23h1.35M30 14h1.35M4 30h1.35M23 32h1.35M31 13h1.35M39 13h1.35M12 30h1.35M12 19h1.35M29 17h1.35M14 20h1.35M2 26h1.35M11 21h1.35M26 42h1.35M1 36h1.35M23 10h1.35M15 0h1.35M9 38h1.35M16 38h1.35M29 30h1.35M35 35h1.35M24 8h1.35M16 15h1.35M35 7h1.35M17 26h1.35M9 8h1.35M33 8h1.35M37 20h1.35M3 10h1.35M14 27h1.35M10 5h1.35M37 28h1.35M26 16h1.35M36 42h1.35M14 9h1.35M17 26h1.35M6 3h1.35M27 6h1.35M1 18h1.35M4 18h1.35M11 8h1.35M26 4h1.35M33 24h1.35M19 42h1.35M41 32h1.35M37 7h1.35M28 15h1.35M31 42h1.35M33 37h1.35M23 33h1.35M35 12h1.35M27 4h1.35M37 16h1.35M36 24h1.35M11 16h1.35M41 15h1.35M26 23h1.35M33 16h1.35M4 3h1.35M39 30h1.35M13 20h1.35M0 28h1.35M30 21h1.35M41 11h1.35M29 20h1.35M14 27h1.35M5 13h1.35M34 26h1.35M25 8h1.35M14 23h1.35M23 24h1.35M42 31h1.35M23 8h1.35M14 40h1.35M13 17h1.35M7 2h1.35M32 8h1.35M25 39h1.35M26 41h1.35M4 30h1.35M37 29h1.35M21 36h1.35M34 22h1.35M22 27h1.35M20 11h1.35M30 1h1.35M10 25h1.35M23 7h1.35M40 18h1.35M35 41h1.35M13 40h1.35M15 37h1.35M12 23h1.35M19 41h1.35M16 10h1.35M4 38h1.35M29 42h1.35M37 2h1.35M12 0h1.35M38 34h1.35M26 35h1.35M17 1h1.35M4 0h1.35M11 5h1.35M15 0h1.35M11 14h1.35M11 16h1.35M15 1h1.35M1 7h1.35M5 5h1.35M12 9h1.35M30 21h1.35M4 33h1.35M22 20h1.35M18 26h1.35M30 16h1.35M21 3h1.35M5 16h1.35M10 16h1.35M5 4h1.35M39 3h1.35M16 8h1.35M21 21h1.35M32 31h1.35M9 12h1.35M38 35h1.35M3 9h1.35M27 24h1.35M18 1h1.35M14 19h1.35M4 30h1.35M6 4h1.35M37 9h1.35M12 28h1.35M29 14h1.35M39 5h1.35M42 30h1.35M36 27h1.35M8 0h1.35M12 37h1.35M13 6h1.35M40 29h1.35M15 16h1.35M32 27h1.35M33 34h1.35M21 3h1.35M1 14h1.35M1 14h1.35M32 18h1.35M13 40h1.35M29 39h1.35M12 11h1.35M13 19h1.35M42 16h1.35M8 10h1.35M3 14h1.35M29 21h1.35M19 25h1.35M20 33h1.35M19 3h1.35M38 20h1.35M5 18h1.35M3 20h1.35M32 15h1.35M9 11h1.35M40 15h1.35M29 1h1.35M12 20h1.35M7 32h1.35M33 23h1.35M30 33h1.35M19 4h1.35M6 42h1.35M4 39h1.35M24 27h1.35M30 4h1.35M16 42h1.35M32 14h1.35M28 20h1.35M30 26h1.35M23 34h1.35M28 20h1.35M39 3h1.35M6 29h1.35M5 40h1.35M17 8h1.35M2 35h1.35M8 4h1.35M29 39h1.35M2 19h1.35M42 4h1.35M42 21h1.35M27 33h1.35M5 9h1.35M25 6h1.35M3 2h1.35M18 42h1.35M8 33h1.35M6 4h1.35M20 10h1.35M34 38h1.35M26 10h1.35M15 11h1.35M24 27h1.35M21 23h1.35M7 15h1.35M29 35h1.35M7 5h1.35M16 24h1.35M30 14h1.35M11 38h1.35M18 29h1.35M25 12h1.35M8 12h1.35M31 6h1.35M32 21h1.35M15 1h1.35M16 32h1.35M30 9h1.35M39 20h1.35M20 11h1.35M21 12h1.35M42 26h1.35M3 0h1.35M14 36h1.35M22 0h1.35M16 38h1.35M2 2h1.35M20 14h1.35M20 17h1.35M23 19h1.35M23 39h1.35M22 25h1.35M24 18h1.35M7 14h1.35M0 26h1.35M40 36h1.35M15 41h1.35M3 10h1.35M9 19h1.35M16 32h1.35M41 20h1.35M24 27h1.35M19 8h1.35M15 34h1.35M21 42h1.35M3 22h1.35M11 20h1.35M8 34h1.35M41 3h1.35M35 29h1.35M21 30h1.35M29 13h1.35M21 23h1.35M15 4h1.35M6 7h1.35M20 1h1.35M1 14h1.35M23 4h1.35M39 4h1.35M31 3h1.35M12 29h1.35M40 25h1.35M19 30h1.35M24 19h1.35M40 40h1.35M36 30h1.35" stroke="#fff" stroke-width="1.35"/></pattern><mask id="mN" maskUnits="userSpaceOnUse" x="0" y="0" width="1100" height="1100"><rect width="1100" height="1100" fill="url(#ptN37)"/><rect width="1100" height="1100" fill="url(#ptN43)"/></mask><pattern id="ptM37" width="37" height="37" patternUnits="userSpaceOnUse"><path d="M20 22h1.35M19 22h1.35M36 6h1.35M33 4h1.35M30 28h1.35M26 0h1.35M14 13h1.35M13 23h1.35M34 23h1.35M7 36h1.35M2 29h1.35M36 27h1.35M1 8h1.35M27 5h1.35M11 33h1.35M18 32h1.35M22 6h1.35M14 3h1.35M14 23h1.35M27 10h1.35M24 4h1.35M26 12h1.35M20 19h1.35M21 32h1.35M11 31h1.35M34 32h1.35M0 9h1.35M24 35h1.35M10 11h1.35M1 35h1.35M7 36h1.35M23 3h1.35M3 13h1.35M32 1h1.35M32 13h1.35M32 29h1.35M9 35h1.35M13 9h1.35M9 28h1.35M1 27h1.35M8 16h1.35M17 14h1.35M26 13h1.35M32 29h1.35M3 5h1.35M0 21h1.35M10 15h1.35M34 16h1.35M14 33h1.35M11 14h1.35M11 12h1.35M7 29h1.35M13 17h1.35M27 32h1.35M3 31h1.35M0 28h1.35M5 4h1.35M35 26h1.35M9 20h1.35M29 10h1.35M13 34h1.35M21 26h1.35M15 12h1.35M14 10h1.35M26 22h1.35M27 19h1.35M19 10h1.35M13 28h1.35M5 9h1.35M12 20h1.35M7 32h1.35M18 11h1.35M26 30h1.35M28 31h1.35M30 17h1.35M30 33h1.35M12 30h1.35M32 9h1.35M32 10h1.35M14 4h1.35M22 24h1.35M4 25h1.35M6 22h1.35M27 21h1.35M22 25h1.35M9 29h1.35M36 35h1.35M0 2h1.35M30 22h1.35M32 25h1.35M27 19h1.35M10 35h1.35M0 9h1.35M23 25h1.35M20 36h1.35M14 21h1.35M10 35h1.35M35 25h1.35M11 18h1.35M7 8h1.35M1 20h1.35M30 28h1.35M31 17h1.35M23 33h1.35M1 22h1.35M35 34h1.35M20 30h1.35M7 21h1.35M16 24h1.35M36 16h1.35M1 23h1.35M24 4h1.35M23 34h1.35M0 17h1.35M21 18h1.35M31 10h1.35M24 1h1.35M4 12h1.35M13 3h1.35M8 9h1.35M19 14h1.35M14 3h1.35M27 16h1.35M7 6h1.35M9 35h1.35M35 5h1.35M9 27h1.35M12 2h1.35M31 24h1.35M27 5h1.35M11 8h1.35M19 2h1.35M5 3h1.35M10 7h1.35M2 1h1.35M20 10h1.35M7 29h1.35M10 6h1.35M11 12h1.35M22 12h1.35M23 7h1.35M27 20h1.35M25 26h1.35M16 28h1.35M14 30h1.35M1 11h1.35M10 11h1.35M9 22h1.35M3 28h1.35M33 2h1.35M28 35h1.35M36 0h1.35M28 28h1.35M1 21h1.35M25 32h1.35M9 3h1.35M35 33h1.35M9 31h1.35M11 24h1.35M10 0h1.35M32 32h1.35M0 23h1.35M26 12h1.35M36 24h1.35M26 21h1.35M30 10h1.35M20 24h1.35M12 17h1.35M13 0h1.35M20 20h1.35M35 16h1.35M21 10h1.35M36 34h1.35M31 17h1.35M5 31h1.35M2 9h1.35M27 5h1.35M36 26h1.35M18 32h1.35M27 0h1.35M5 8h1.35M6 24h1.35M17 7h1.35M27 28h1.35M16 5h1.35M28 23h1.35M6 2h1.35M31 19h1.35M13 4h1.35M16 17h1.35M23 13h1.35M32 32h1.35M33 27h1.35M36 17h1.35M29 20h1.35M25 30h1.35M7 2h1.35M9 18h1.35M3 34h1.35M8 22h1.35M24 15h1.35M16 32h1.35M2 28h1.35M30 1h1.35" stroke="#fff" stroke-width="1.35"/></pattern><pattern id="ptM43" width="43" height="43" patternUnits="userSpaceOnUse"><path d="M5 5h1.35M2 13h1.35M29 38h1.35M30 5h1.35M18 21h1.35M38 11h1.35M8 41h1.35M7 41h1.35M11 32h1.35M16 21h1.35M10 10h1.35M14 30h1.35M14 16h1.35M16 3h1.35M14 10h1.35M39 19h1.35M4 40h1.35M24 34h1.35M39 28h1.35M13 6h1.35M26 30h1.35M20 3h1.35M24 14h1.35M41 29h1.35M30 33h1.35M12 16h1.35M10 33h1.35M7 35h1.35M20 25h1.35M10 8h1.35M30 30h1.35M31 17h1.35M36 23h1.35M6 35h1.35M31 37h1.35M21 10h1.35M21 6h1.35M23 24h1.35M7 8h1.35M31 37h1.35M18 21h1.35M24 36h1.35M35 11h1.35M20 1h1.35M20 13h1.35M29 7h1.35M18 29h1.35M40 23h1.35M36 23h1.35M30 40h1.35M12 34h1.35M42 42h1.35M11 23h1.35M12 38h1.35M12 19h1.35M18 15h1.35M37 4h1.35M26 0h1.35M13 35h1.35M4 13h1.35M32 32h1.35M42 7h1.35M15 42h1.35M7 18h1.35M6 12h1.35M37 42h1.35M0 17h1.35M3 27h1.35M5 17h1.35M20 36h1.35M0 32h1.35M26 22h1.35M37 34h1.35M11 0h1.35M36 12h1.35M11 14h1.35M6 13h1.35M7 17h1.35M37 32h1.35M20 24h1.35M25 1h1.35M4 38h1.35M27 7h1.35M17 32h1.35M9 27h1.35M23 42h1.35M1 1h1.35M3 27h1.35M39 34h1.35M41 24h1.35M10 23h1.35M23 35h1.35M8 22h1.35M23 16h1.35M34 9h1.35M10 10h1.35M9 9h1.35M7 37h1.35M7 10h1.35M19 32h1.35M36 36h1.35M6 35h1.35M31 26h1.35M29 34h1.35M0 3h1.35M15 27h1.35M8 15h1.35M0 15h1.35M22 15h1.35M5 30h1.35M37 24h1.35M27 21h1.35M30 2h1.35M14 42h1.35M3 28h1.35M32 15h1.35M2 38h1.35M11 12h1.35M4 16h1.35M5 21h1.35M5 21h1.35M41 5h1.35M27 19h1.35M4 32h1.35M28 15h1.35M9 11h1.35M19 27h1.35M20 6h1.35M32 27h1.35M10 37h1.35M2 31h1.35M7 41h1.35M10 40h1.35M3 18h1.35M32 2h1.35M21 3h1.35M6 33h1.35M12 32h1.35M25 10h1.35M14 42h1.35M13 27h1.35M16 42h1.35M29 5h1.35M15 29h1.35M0 14h1.35M42 25h1.35M6 12h1.35M26 5h1.35M34 18h1.35M23 21h1.35M15 17h1.35M42 42h1.35M21 14h1.35M2 25h1.35M26 27h1.35M4 9h1.35M5 4h1.35M3 34h1.35M12 16h1.35M40 6h1.35M24 32h1.35M31 16h1.35M12 6h1.35M42 31h1.35M36 28h1.35M18 4h1.35M37 30h1.35M8 9h1.35M4 30h1.35M27 8h1.35M42 1h1.35M11 37h1.35M2 4h1.35M7 20h1.35M15 3h1.35M14 37h1.35M17 22h1.35M10 23h1.35M26 17h1.35M10 28h1.35M28 11h1.35M0 8h1.35M5 34h1.35M27 15h1.35M40 9h1.35M42 16h1.35M7 7h1.35M24 5h1.35M42 14h1.35M0 9h1.35M2 22h1.35M5 19h1.35M37 20h1.35M35 37h1.35M28 41h1.35M36 34h1.35M12 19h1.35M33 13h1.35M30 21h1.35M8 23h1.35M22 32h1.35M35 37h1.35M14 39h1.35M17 42h1.35M32 8h1.35M32 1h1.35M26 27h1.35M42 38h1.35M11 2h1.35M34 18h1.35M17 7h1.35M40 28h1.35M23 33h1.35M30 15h1.35M32 34h1.35M24 34h1.35M18 18h1.35M25 2h1.35M16 30h1.35M20 13h1.35M28 22h1.35M19 29h1.35M23 5h1.35M23 41h1.35M13 14h1.35M27 41h1.35M16 40h1.35M23 1h1.35M17 35h1.35M3 21h1.35M23 26h1.35M2 27h1.35M38 33h1.35M42 19h1.35M14 21h1.35M21 30h1.35M6 11h1.35M31 6h1.35M23 12h1.35M17 31h1.35M2 8h1.35M21 26h1.35M28 18h1.35M26 9h1.35M20 9h1.35M41 11h1.35M10 22h1.35M17 3h1.35M15 21h1.35M2 11h1.35M3 27h1.35M27 12h1.35M9 23h1.35M32 7h1.35M7 17h1.35M28 32h1.35M25 38h1.35M16 1h1.35M25 24h1.35M11 24h1.35M0 23h1.35M7 20h1.35M21 8h1.35M2 39h1.35M12 13h1.35M1 37h1.35M36 39h1.35M14 18h1.35M6 12h1.35M15 14h1.35M30 37h1.35M36 20h1.35M7 2h1.35M36 20h1.35M33 41h1.35M38 5h1.35" stroke="#fff" stroke-width="1.35"/></pattern><mask id="mM" maskUnits="userSpaceOnUse" x="0" y="0" width="1100" height="1100"><rect width="1100" height="1100" fill="url(#ptM37)"/><rect width="1100" height="1100" fill="url(#ptM43)"/></mask><pattern id="ptL37" width="37" height="37" patternUnits="userSpaceOnUse"><path d="M32 29h1.35M7 15h1.35M13 28h1.35M19 26h1.35M23 0h1.35M14 7h1.35M21 25h1.35M15 27h1.35M15 21h1.35M15 24h1.35M2 33h1.35M35 19h1.35M17 30h1.35M30 29h1.35M0 3h1.35M24 29h1.35M14 11h1.35M30 35h1.35M24 10h1.35M6 16h1.35M28 5h1.35M19 29h1.35M13 0h1.35M4 5h1.35M5 11h1.35M23 0h1.35M27 26h1.35M32 29h1.35M18 22h1.35M33 23h1.35M10 6h1.35M32 33h1.35M31 7h1.35M23 18h1.35M34 13h1.35M14 24h1.35M22 21h1.35M35 36h1.35M17 18h1.35M5 23h1.35M7 23h1.35M34 20h1.35M8 21h1.35M7 21h1.35M10 26h1.35M1 23h1.35M14 25h1.35M0 10h1.35M12 34h1.35M28 23h1.35M25 16h1.35M14 11h1.35M29 10h1.35M23 3h1.35M1 24h1.35M14 20h1.35M25 2h1.35M31 34h1.35M30 12h1.35M34 11h1.35M4 11h1.35M11 16h1.35M32 8h1.35M10 32h1.35M20 18h1.35M35 34h1.35M8 30h1.35M7 8h1.35M17 19h1.35M19 12h1.35M34 36h1.35M14 28h1.35M20 36h1.35M8 23h1.35M31 28h1.35M35 10h1.35M3 6h1.35M5 2h1.35M32 9h1.35M17 4h1.35M11 33h1.35M1 1h1.35M14 28h1.35M5 29h1.35M34 15h1.35M11 12h1.35M20 21h1.35M1 8h1.35M21 23h1.35M4 4h1.35M1 7h1.35M3 10h1.35M18 17h1.35M19 5h1.35M13 28h1.35M17 35h1.35M0 3h1.35M18 14h1.35M19 5h1.35M35 30h1.35M9 24h1.35M34 29h1.35M24 29h1.35M12 14h1.35M17 17h1.35M32 15h1.35M8 19h1.35M25 2h1.35M14 6h1.35M13 28h1.35M23 29h1.35M32 22h1.35M32 31h1.35" stroke="#fff" stroke-width="1.35"/></pattern><pattern id="ptL43" width="43" height="43" patternUnits="userSpaceOnUse"><path d="M1 39h1.35M22 25h1.35M13 10h1.35M22 31h1.35M42 25h1.35M10 33h1.35M9 27h1.35M11 30h1.35M32 13h1.35M12 41h1.35M15 22h1.35M36 6h1.35M16 17h1.35M22 40h1.35M7 30h1.35M18 24h1.35M37 37h1.35M13 20h1.35M27 0h1.35M19 16h1.35M8 35h1.35M35 38h1.35M36 40h1.35M8 10h1.35M18 6h1.35M27 29h1.35M27 27h1.35M12 6h1.35M9 26h1.35M11 32h1.35M9 20h1.35M14 41h1.35M27 24h1.35M17 9h1.35M6 11h1.35M36 12h1.35M10 30h1.35M37 34h1.35M12 28h1.35M41 32h1.35M31 6h1.35M1 12h1.35M28 2h1.35M41 36h1.35M6 34h1.35M27 13h1.35M19 40h1.35M38 14h1.35M36 11h1.35M41 22h1.35M23 6h1.35M30 4h1.35M41 10h1.35M19 9h1.35M16 35h1.35M6 3h1.35M36 3h1.35M12 15h1.35M13 5h1.35M16 16h1.35M5 16h1.35M31 11h1.35M16 0h1.35M19 29h1.35M14 23h1.35M15 26h1.35M7 14h1.35M0 7h1.35M21 6h1.35M28 31h1.35M1 14h1.35M13 22h1.35M2 20h1.35M24 26h1.35M41 34h1.35M25 14h1.35M19 26h1.35M4 39h1.35M32 28h1.35M27 37h1.35M33 30h1.35M17 11h1.35M26 26h1.35M13 42h1.35M3 35h1.35M13 29h1.35M36 15h1.35M35 32h1.35M7 5h1.35M23 27h1.35M0 0h1.35M16 40h1.35M31 40h1.35M10 12h1.35M30 8h1.35M19 27h1.35M40 13h1.35M9 41h1.35M25 42h1.35M0 42h1.35M18 1h1.35M24 28h1.35M20 33h1.35M38 14h1.35M21 4h1.35M8 3h1.35M42 5h1.35M18 2h1.35M18 19h1.35M34 10h1.35M7 5h1.35M41 4h1.35M19 1h1.35M23 11h1.35M39 25h1.35M40 32h1.35M26 7h1.35M7 33h1.35M29 19h1.35M31 28h1.35M24 6h1.35M27 14h1.35M24 12h1.35M20 30h1.35M41 24h1.35M25 33h1.35M35 17h1.35M7 37h1.35M2 41h1.35M28 16h1.35M12 9h1.35M28 24h1.35M39 17h1.35M23 9h1.35M38 33h1.35M10 27h1.35M9 17h1.35M15 7h1.35M35 1h1.35M26 5h1.35M2 39h1.35M28 42h1.35M19 37h1.35M28 4h1.35M6 6h1.35M25 19h1.35M32 1h1.35M24 23h1.35M8 30h1.35M5 1h1.35M1 9h1.35M32 14h1.35" stroke="#fff" stroke-width="1.35"/></pattern><mask id="mL" maskUnits="userSpaceOnUse" x="0" y="0" width="1100" height="1100"><rect width="1100" height="1100" fill="url(#ptL37)"/><rect width="1100" height="1100" fill="url(#ptL43)"/></mask><pattern id="ptK37" width="37" height="37" patternUnits="userSpaceOnUse"><path d="M5 5h1.35M35 12h1.35M33 4h1.35M8 18h1.35M26 28h1.35M16 15h1.35M20 3h1.35M36 6h1.35M34 26h1.35M19 3h1.35M7 6h1.35M27 4h1.35M36 13h1.35M17 31h1.35M18 11h1.35M36 27h1.35M1 18h1.35M29 20h1.35M19 35h1.35M17 32h1.35M5 6h1.35M33 31h1.35M21 14h1.35M23 7h1.35M20 32h1.35M32 18h1.35M19 23h1.35M15 26h1.35M32 17h1.35M15 27h1.35M29 16h1.35M13 8h1.35M35 8h1.35M35 0h1.35M5 16h1.35M11 23h1.35M16 12h1.35M25 29h1.35M11 6h1.35M19 6h1.35M11 30h1.35M33 26h1.35M2 12h1.35M25 25h1.35M27 12h1.35M23 35h1.35M18 25h1.35M36 25h1.35M32 25h1.35M12 24h1.35M9 32h1.35M21 35h1.35M29 2h1.35M5 15h1.35M4 35h1.35M11 23h1.35M17 29h1.35M30 21h1.35M19 23h1.35M11 34h1.35M11 10h1.35M5 9h1.35M36 33h1.35M13 30h1.35M21 6h1.35M33 9h1.35M9 35h1.35M14 21h1.35M18 19h1.35M5 17h1.35M13 25h1.35M0 27h1.35M14 24h1.35M29 0h1.35M28 24h1.35M0 6h1.35M14 25h1.35M16 15h1.35M1 6h1.35M29 26h1.35M32 5h1.35M15 28h1.35M18 13h1.35" stroke="#fff" stroke-width="1.35"/></pattern><pattern id="ptK43" width="43" height="43" patternUnits="userSpaceOnUse"><path d="M3 23h1.35M36 2h1.35M7 37h1.35M1 40h1.35M37 31h1.35M35 9h1.35M25 9h1.35M34 29h1.35M17 22h1.35M25 10h1.35M12 5h1.35M36 42h1.35M40 21h1.35M38 27h1.35M12 18h1.35M36 20h1.35M3 32h1.35M23 32h1.35M6 2h1.35M21 16h1.35M41 16h1.35M42 17h1.35M27 33h1.35M28 28h1.35M29 29h1.35M36 20h1.35M7 39h1.35M11 7h1.35M15 8h1.35M13 8h1.35M13 31h1.35M42 21h1.35M12 21h1.35M28 30h1.35M2 40h1.35M11 3h1.35M11 28h1.35M4 4h1.35M28 1h1.35M1 30h1.35M26 32h1.35M5 26h1.35M14 8h1.35M3 37h1.35M26 15h1.35M21 19h1.35M40 31h1.35M26 25h1.35M3 41h1.35M32 0h1.35M20 2h1.35M38 27h1.35M12 14h1.35M21 0h1.35M1 6h1.35M3 27h1.35M31 31h1.35M23 6h1.35M37 24h1.35M37 20h1.35M0 24h1.35M40 16h1.35M26 39h1.35M4 31h1.35M34 33h1.35M24 6h1.35M31 6h1.35M25 42h1.35M6 31h1.35M27 32h1.35M38 1h1.35M7 38h1.35M30 19h1.35M2 38h1.35M26 42h1.35M38 17h1.35M42 0h1.35M30 15h1.35M22 36h1.35M29 24h1.35M6 18h1.35M40 38h1.35M39 3h1.35M21 19h1.35M34 15h1.35M36 25h1.35M36 42h1.35M1 27h1.35M29 35h1.35M40 37h1.35M9 39h1.35M30 19h1.35M40 34h1.35M2 18h1.35M42 0h1.35M9 20h1.35M3 15h1.35M1 41h1.35M10 16h1.35M15 24h1.35M14 33h1.35M38 20h1.35M39 37h1.35M9 6h1.35M15 28h1.35M33 24h1.35M22 9h1.35M28 11h1.35M35 18h1.35M23 1h1.35M33 17h1.35M31 3h1.35M7 10h1.35" stroke="#fff" stroke-width="1.35"/></pattern><mask id="mK" maskUnits="userSpaceOnUse" x="0" y="0" width="1100" height="1100"><rect width="1100" height="1100" fill="url(#ptK37)"/><rect width="1100" height="1100" fill="url(#ptK43)"/></mask><pattern id="ptV37" width="37" height="37" patternUnits="userSpaceOnUse"><path d="M0 25h1.35M35 4h1.35M20 21h1.35M4 9h1.35M24 8h1.35M19 34h1.35M2 7h1.35M29 32h1.35M9 31h1.35M7 13h1.35M9 19h1.35M14 0h1.35M3 16h1.35M6 11h1.35M28 33h1.35M20 8h1.35M11 20h1.35M25 9h1.35M36 28h1.35M17 16h1.35M34 11h1.35M8 23h1.35M9 15h1.35M1 7h1.35M12 19h1.35M0 19h1.35M20 6h1.35M18 29h1.35M34 10h1.35M28 6h1.35M5 22h1.35M25 11h1.35M10 13h1.35M4 0h1.35M5 25h1.35M5 8h1.35M15 29h1.35M3 26h1.35M28 7h1.35" stroke="#fff" stroke-width="1.35"/></pattern><pattern id="ptV43" width="43" height="43" patternUnits="userSpaceOnUse"><path d="M1 25h1.35M21 12h1.35M15 37h1.35M27 22h1.35M29 34h1.35M23 8h1.35M24 4h1.35M18 26h1.35M18 18h1.35M7 13h1.35M27 20h1.35M28 18h1.35M12 40h1.35M30 19h1.35M24 39h1.35M5 7h1.35M28 4h1.35M36 28h1.35M27 16h1.35M31 16h1.35M25 6h1.35M14 32h1.35M41 10h1.35M32 27h1.35M12 0h1.35M30 24h1.35M21 24h1.35M41 7h1.35M35 40h1.35M5 25h1.35M42 9h1.35M19 26h1.35M32 8h1.35M18 20h1.35M28 29h1.35M18 37h1.35M30 39h1.35M39 8h1.35M11 16h1.35M40 32h1.35M1 26h1.35M1 17h1.35M34 31h1.35M23 13h1.35M27 1h1.35M29 26h1.35M12 5h1.35M5 40h1.35M14 19h1.35M24 12h1.35M26 23h1.35M36 42h1.35M29 40h1.35" stroke="#fff" stroke-width="1.35"/></pattern><mask id="mV" maskUnits="userSpaceOnUse" x="0" y="0" width="1100" height="1100"><rect width="1100" height="1100" fill="url(#ptV37)"/><rect width="1100" height="1100" fill="url(#ptV43)"/></mask><pattern id="ptW37" width="37" height="37" patternUnits="userSpaceOnUse"><path d="M27 23h1.35M24 6h1.35M14 4h1.35M19 33h1.35M7 28h1.35M26 22h1.35M36 26h1.35M10 15h1.35M32 34h1.35M27 21h1.35M16 24h1.35M20 31h1.35M28 2h1.35" stroke="#fff" stroke-width="1.35"/></pattern><pattern id="ptW43" width="43" height="43" patternUnits="userSpaceOnUse"><path d="M31 36h1.35M32 13h1.35M42 3h1.35M10 3h1.35M22 19h1.35M5 13h1.35M15 31h1.35M19 28h1.35M34 26h1.35M34 4h1.35M2 4h1.35M11 42h1.35M13 5h1.35M24 9h1.35M33 19h1.35M23 4h1.35M9 35h1.35M20 41h1.35" stroke="#fff" stroke-width="1.35"/></pattern><mask id="mW" maskUnits="userSpaceOnUse" x="0" y="0" width="1100" height="1100"><rect width="1100" height="1100" fill="url(#ptW37)"/><rect width="1100" height="1100" fill="url(#ptW43)"/></mask><pattern id="ptX37" width="37" height="37" patternUnits="userSpaceOnUse"><path d="M27 14h1.35M7 2h1.35M5 31h1.35M20 2h1.35M25 17h1.35" stroke="#fff" stroke-width="1.35"/></pattern><pattern id="ptX43" width="43" height="43" patternUnits="userSpaceOnUse"><path d="M23 28h1.35M14 17h1.35M11 29h1.35M11 10h1.35M29 22h1.35M8 38h1.35M41 25h1.35" stroke="#fff" stroke-width="1.35"/></pattern><mask id="mX" maskUnits="userSpaceOnUse" x="0" y="0" width="1100" height="1100"><rect width="1100" height="1100" fill="url(#ptX37)"/><rect width="1100" height="1100" fill="url(#ptX43)"/></mask><linearGradient id="hmcb" x1="0" y1="1" x2="0" y2="0"><stop offset="0" stop-color="#4e76b6"/><stop offset="0.17" stop-color="#86b4d6"/><stop offset="0.33" stop-color="#d6edf3"/><stop offset="0.5" stop-color="#f7fcc4"/><stop offset="0.67" stop-color="#f5d98c"/><stop offset="0.83" stop-color="#ef8b5a"/><stop offset="1" stop-color="#d7302a"/></linearGradient><linearGradient id="cbar" x1="0" y1="0" x2="1" y2="0"><stop offset="0" stop-color="#0a00f8"/><stop offset="0.15" stop-color="#2200ff"/><stop offset="0.5" stop-color="#ffffff"/><stop offset="0.85" stop-color="#f2404a"/><stop offset="1" stop-color="#ff1a16"/></linearGradient></defs><rect width="1942" height="2500" fill="#fff"/><text x="2.5" y="27" font-size="44" fill="#000" font-weight="bold" letter-spacing="-1">a.</text>
<path d="M149.4 112.4V392.4M243.8 112.4V392.4M337.6 112.4V392.4M107.7 147.2H391.5M107.7 198.1H391.5M107.7 249.9H391.5M107.7 300.8H391.5M107.7 352.8H391.5" stroke="#c9c9c9" stroke-width="1.1" fill="none"/>
<path d="M99.5 147.1H107.1M99.5 198.5H107.1M99.5 249.9H107.1M99.5 301.3H107.1M99.5 352.7H107.1M149.8 395.9V402.7M243.8 395.9V402.7M337.8 395.9V402.7" stroke="#111" stroke-width="2" fill="none"/>
<path d="M103.4 116.3H107.1M103.4 126.5H107.1M103.4 136.8H107.1M103.4 157.4H107.1M103.4 167.7H107.1M103.4 177.9H107.1M103.4 188.2H107.1M103.4 208.8H107.1M103.4 219.1H107.1M103.4 229.3H107.1M103.4 239.6H107.1M103.4 260.2H107.1M103.4 270.5H107.1M103.4 280.7H107.1M103.4 291H107.1M103.4 311.6H107.1M103.4 321.9H107.1M103.4 332.1H107.1M103.4 342.4H107.1M173.3 395.9V399.5M196.8 395.9V399.5M220.3 395.9V399.5M267.3 395.9V399.5M290.8 395.9V399.5M314.3 395.9V399.5M361.3 395.9V399.5M384.8 395.9V399.5" stroke="#222" stroke-width="1.2" fill="none"/>
<g font-size="11.5" fill="#1a1a1a" stroke="#1a1a1a" stroke-width="0.3" text-anchor="end">
<text x="94" y="150.2">10</text>
<text x="94" y="201.1">5.0</text>
<text x="94" y="252.9">0</text>
<text x="94" y="303.8">5.0</text>
<text x="94" y="355.8">−9</text>
</g><g font-size="11.5" fill="#1a1a1a" stroke="#1a1a1a" stroke-width="0.3" text-anchor="middle">
<text x="149.4" y="414.9">−9</text>
<text x="243.8" y="414.9">0</text>
<text x="337.6" y="414.9">10</text>
</g>
<path d="M280.9 195.1C282.9 192.5 288.8 196.1 293.1 196.6C297.5 197.1 302.8 195.6 306.9 198.1C311 200.7 314.8 207.1 317.6 211.9C320.5 216.8 322 221.6 323.8 227.2C325.6 232.9 326.1 240.5 328.4 245.6C330.7 250.7 335.5 253.3 337.6 257.9C339.6 262.5 340.1 266.1 340.6 273.2C341.1 280.4 339.1 293.1 340.6 300.8C342.2 308.5 348 313.6 349.8 319.2C351.6 324.8 352.4 329.4 351.3 334.5C350.3 339.6 346 345.7 343.7 349.8C341.4 353.9 339.9 355.9 337.6 359C335.3 362.1 333.5 367.7 329.9 368.2C326.3 368.7 322.2 365.1 316.1 362.1C310 359 300.8 353.9 293.1 349.8C285.5 345.7 277.3 341.1 270.1 337.6C263 334 255.8 331.4 250.2 328.4C244.6 325.3 239.8 323.3 236.4 319.2C233.1 315.1 230.8 309 230.3 303.9C229.8 298.7 233.9 293.6 233.4 288.5C232.9 283.4 228.5 278.3 227.2 273.2C226 268.1 225.2 262.2 225.7 257.9C226.2 253.5 227.5 249.7 230.3 247.2C233.1 244.6 238.5 243.8 242.6 242.6C246.7 241.3 250.7 240.5 254.8 239.5C258.9 238.5 263 238.5 267.1 236.4C271.2 234.4 277 231.3 279.3 227.2C281.6 223.2 280.6 217.3 280.9 211.9C281.1 206.6 278.8 197.6 280.9 195.1Z" fill="#fd2424" mask="url(#mN)"/>
<path d="M280.9 195.1C282.9 192.5 288.8 196.1 293.1 196.6C297.5 197.1 302.8 195.6 306.9 198.1C311 200.7 314.8 207.1 317.6 211.9C320.5 216.8 322 221.6 323.8 227.2C325.6 232.9 326.1 240.5 328.4 245.6C330.7 250.7 335.5 253.3 337.6 257.9C339.6 262.5 340.1 266.1 340.6 273.2C341.1 280.4 339.1 293.1 340.6 300.8C342.2 308.5 348 313.6 349.8 319.2C351.6 324.8 352.4 329.4 351.3 334.5C350.3 339.6 346 345.7 343.7 349.8C341.4 353.9 339.9 355.9 337.6 359C335.3 362.1 333.5 367.7 329.9 368.2C326.3 368.7 322.2 365.1 316.1 362.1C310 359 300.8 353.9 293.1 349.8C285.5 345.7 277.3 341.1 270.1 337.6C263 334 255.8 331.4 250.2 328.4C244.6 325.3 239.8 323.3 236.4 319.2C233.1 315.1 230.8 309 230.3 303.9C229.8 298.7 233.9 293.6 233.4 288.5C232.9 283.4 228.5 278.3 227.2 273.2C226 268.1 225.2 262.2 225.7 257.9C226.2 253.5 227.5 249.7 230.3 247.2C233.1 244.6 238.5 243.8 242.6 242.6C246.7 241.3 250.7 240.5 254.8 239.5C258.9 238.5 263 238.5 267.1 236.4C271.2 234.4 277 231.3 279.3 227.2C281.6 223.2 280.6 217.3 280.9 211.9C281.1 206.6 278.8 197.6 280.9 195.1Z" fill="none" stroke="#fd2424" stroke-width="6" mask="url(#mL)"/>
<path d="M323.8 218.1C325.6 213.2 333.2 217.3 339.1 216.5C345 215.8 356.2 210.4 359 213.5C361.8 216.5 357.2 227.5 355.9 234.9C354.7 242.3 352.6 250.2 351.3 257.9C350.1 265.6 349.1 273.7 348.3 280.9C347.5 288 348 297.5 346.8 300.8C345.5 304.1 341.6 305.4 340.6 300.8C339.6 296.2 341.1 280.4 340.6 273.2C340.1 266.1 339.6 262.5 337.6 257.9C335.5 253.3 330.7 252.3 328.4 245.6C326.1 239 322 222.9 323.8 218.1Z" fill="#fd2424" mask="url(#mL)"/>
<path d="M323.8 218.1C325.6 213.2 333.2 217.3 339.1 216.5C345 215.8 356.2 210.4 359 213.5C361.8 216.5 357.2 227.5 355.9 234.9C354.7 242.3 352.6 250.2 351.3 257.9C350.1 265.6 349.1 273.7 348.3 280.9C347.5 288 348 297.5 346.8 300.8C345.5 304.1 341.6 305.4 340.6 300.8C339.6 296.2 341.1 280.4 340.6 273.2C340.1 266.1 339.6 262.5 337.6 257.9C335.5 253.3 330.7 252.3 328.4 245.6C326.1 239 322 222.9 323.8 218.1Z" fill="none" stroke="#fd2424" stroke-width="6" mask="url(#mV)"/>
<path d="M138.4 205.8C140.9 201.7 146 202.7 150.6 202.7C155.2 202.7 160.9 205.8 166 205.8C171.1 205.8 176.9 203.8 181.3 202.7C185.6 201.7 188.4 199.7 192 199.7C195.6 199.7 199.4 200.2 202.7 202.7C206.1 205.3 208.4 210.4 211.9 215C215.5 219.6 221.6 225.7 224.2 230.3C226.7 234.9 226.7 238.5 227.2 242.6C227.8 246.7 227.8 250.7 227.2 254.8C226.7 258.9 223.7 262.7 224.2 267.1C224.7 271.4 229.3 276 230.3 280.9C231.3 285.7 231.8 293.6 230.3 296.2C228.8 298.7 225.2 297 221.1 296.2C217 295.4 210.9 292.1 205.8 291.6C200.7 291.1 196.1 292.6 190.5 293.1C184.9 293.6 177.5 295.9 172.1 294.7C166.7 293.4 162.4 289 158.3 285.5C154.2 281.9 150.9 277.8 147.6 273.2C144.3 268.6 140.4 263 138.4 257.9C136.3 252.8 135.8 247.7 135.3 242.6C134.8 237.5 134.8 233.4 135.3 227.2C135.8 221.1 135.8 209.9 138.4 205.8Z" fill="#48a79b" stroke="#48a79b" stroke-width="3" stroke-linejoin="round"/>
<path d="M138.4 205.8C140.9 201.7 146 202.7 150.6 202.7C155.2 202.7 160.9 205.8 166 205.8C171.1 205.8 176.9 203.8 181.3 202.7C185.6 201.7 188.4 199.7 192 199.7C195.6 199.7 199.4 200.2 202.7 202.7C206.1 205.3 208.4 210.4 211.9 215C215.5 219.6 221.6 225.7 224.2 230.3C226.7 234.9 226.7 238.5 227.2 242.6C227.8 246.7 227.8 250.7 227.2 254.8C226.7 258.9 223.7 262.7 224.2 267.1C224.7 271.4 229.3 276 230.3 280.9C231.3 285.7 231.8 293.6 230.3 296.2C228.8 298.7 225.2 297 221.1 296.2C217 295.4 210.9 292.1 205.8 291.6C200.7 291.1 196.1 292.6 190.5 293.1C184.9 293.6 177.5 295.9 172.1 294.7C166.7 293.4 162.4 289 158.3 285.5C154.2 281.9 150.9 277.8 147.6 273.2C144.3 268.6 140.4 263 138.4 257.9C136.3 252.8 135.8 247.7 135.3 242.6C134.8 237.5 134.8 233.4 135.3 227.2C135.8 221.1 135.8 209.9 138.4 205.8Z" fill="#fff" mask="url(#mW)"/>
<path d="M138.4 205.8C140.9 201.7 146 202.7 150.6 202.7C155.2 202.7 160.9 205.8 166 205.8C171.1 205.8 176.9 203.8 181.3 202.7C185.6 201.7 188.4 199.7 192 199.7C195.6 199.7 199.4 200.2 202.7 202.7C206.1 205.3 208.4 210.4 211.9 215C215.5 219.6 221.6 225.7 224.2 230.3C226.7 234.9 226.7 238.5 227.2 242.6C227.8 246.7 227.8 250.7 227.2 254.8C226.7 258.9 223.7 262.7 224.2 267.1C224.7 271.4 229.3 276 230.3 280.9C231.3 285.7 231.8 293.6 230.3 296.2C228.8 298.7 225.2 297 221.1 296.2C217 295.4 210.9 292.1 205.8 291.6C200.7 291.1 196.1 292.6 190.5 293.1C184.9 293.6 177.5 295.9 172.1 294.7C166.7 293.4 162.4 289 158.3 285.5C154.2 281.9 150.9 277.8 147.6 273.2C144.3 268.6 140.4 263 138.4 257.9C136.3 252.8 135.8 247.7 135.3 242.6C134.8 237.5 134.8 233.4 135.3 227.2C135.8 221.1 135.8 209.9 138.4 205.8Z" fill="none" stroke="#48a79b" stroke-width="6" mask="url(#mM)"/>
<path d="M132.3 185.9C134 182.3 137.9 183.3 141.4 181.3C145 179.2 149.6 175.9 153.7 173.6C157.8 171.3 162.1 168.5 166 167.5C169.8 166.5 173.9 166.2 176.7 167.5C179.5 168.8 181.3 172.3 182.8 175.2C184.3 178 184.6 181.5 185.9 184.3C187.2 187.2 190.2 189.2 190.5 192C190.7 194.8 189.5 198.9 187.4 201.2C185.4 203.5 181.8 204.5 178.2 205.8C174.6 207.1 169.3 207.8 166 208.9C162.6 209.9 160.9 211.9 158.3 211.9C155.7 211.9 153.7 208.9 150.6 208.9C147.6 208.9 142.7 210.9 139.9 211.9C137.1 212.9 135.3 216.5 133.8 215C132.3 213.5 131 207.6 130.7 202.7C130.5 197.9 130.5 189.5 132.3 185.9Z" fill="#eef830" stroke="#eef830" stroke-width="3" stroke-linejoin="round"/>
<path d="M132.3 185.9C134 182.3 137.9 183.3 141.4 181.3C145 179.2 149.6 175.9 153.7 173.6C157.8 171.3 162.1 168.5 166 167.5C169.8 166.5 173.9 166.2 176.7 167.5C179.5 168.8 181.3 172.3 182.8 175.2C184.3 178 184.6 181.5 185.9 184.3C187.2 187.2 190.2 189.2 190.5 192C190.7 194.8 189.5 198.9 187.4 201.2C185.4 203.5 181.8 204.5 178.2 205.8C174.6 207.1 169.3 207.8 166 208.9C162.6 209.9 160.9 211.9 158.3 211.9C155.7 211.9 153.7 208.9 150.6 208.9C147.6 208.9 142.7 210.9 139.9 211.9C137.1 212.9 135.3 216.5 133.8 215C132.3 213.5 131 207.6 130.7 202.7C130.5 197.9 130.5 189.5 132.3 185.9Z" fill="#fff" mask="url(#mW)"/>
<path d="M132.3 185.9C134 182.3 137.9 183.3 141.4 181.3C145 179.2 149.6 175.9 153.7 173.6C157.8 171.3 162.1 168.5 166 167.5C169.8 166.5 173.9 166.2 176.7 167.5C179.5 168.8 181.3 172.3 182.8 175.2C184.3 178 184.6 181.5 185.9 184.3C187.2 187.2 190.2 189.2 190.5 192C190.7 194.8 189.5 198.9 187.4 201.2C185.4 203.5 181.8 204.5 178.2 205.8C174.6 207.1 169.3 207.8 166 208.9C162.6 209.9 160.9 211.9 158.3 211.9C155.7 211.9 153.7 208.9 150.6 208.9C147.6 208.9 142.7 210.9 139.9 211.9C137.1 212.9 135.3 216.5 133.8 215C132.3 213.5 131 207.6 130.7 202.7C130.5 197.9 130.5 189.5 132.3 185.9Z" fill="none" stroke="#eef830" stroke-width="6" mask="url(#mM)"/>
<path d="M133.8 211.9C136.1 208.4 145.3 206.3 150.6 205.8C156 205.3 164.4 206.6 166 208.9C167.5 211.2 161.4 215.8 159.8 219.6C158.3 223.4 159.3 229.8 156.8 231.8C154.2 233.9 147.8 232.6 144.5 231.8C141.2 231.1 138.6 230.6 136.9 227.2C135.1 223.9 131.5 215.5 133.8 211.9Z" fill="#eef830" mask="url(#mM)"/>
<path d="M133.8 211.9C136.1 208.4 145.3 206.3 150.6 205.8C156 205.3 164.4 206.6 166 208.9C167.5 211.2 161.4 215.8 159.8 219.6C158.3 223.4 159.3 229.8 156.8 231.8C154.2 233.9 147.8 232.6 144.5 231.8C141.2 231.1 138.6 230.6 136.9 227.2C135.1 223.9 131.5 215.5 133.8 211.9Z" fill="none" stroke="#eef830" stroke-width="6" mask="url(#mV)"/>
<path d="M167.5 156.8C167.2 155.5 169.5 151.2 170.6 149.1C171.6 147.1 172.9 144.3 173.6 144.5C174.4 144.8 175.4 148.6 175.2 150.6C174.9 152.7 173.4 155.7 172.1 156.8C170.8 157.8 167.8 158 167.5 156.8Z" fill="#eef830" mask="url(#mM)"/>
<path d="M167.5 156.8C167.2 155.5 169.5 151.2 170.6 149.1C171.6 147.1 172.9 144.3 173.6 144.5C174.4 144.8 175.4 148.6 175.2 150.6C174.9 152.7 173.4 155.7 172.1 156.8C170.8 157.8 167.8 158 167.5 156.8Z" fill="none" stroke="#eef830" stroke-width="6" mask="url(#mV)"/>
<path d="M174.4 141.4C175.9 139.7 179.6 136.1 182.8 135.3C186 134.6 190.5 135.6 193.5 136.9C196.6 138.1 199.2 141.1 201.2 143C203.2 144.9 203 147.1 205.8 148.3C208.6 149.6 214.5 149.5 218.1 150.6C221.6 151.8 224.7 153.2 227.2 155.2C229.8 157.3 232.4 160.1 233.4 162.9C234.4 165.7 234.4 169.5 233.4 172.1C232.4 174.6 230.3 176.7 227.2 178.2C224.2 179.8 218.6 179.5 215 181.3C211.4 183.1 208.4 186.4 205.8 188.9C203.2 191.5 202 194.8 199.7 196.6C197.4 198.4 194.3 199.7 192 199.7C189.7 199.7 187.2 198.6 185.9 196.6C184.6 194.6 185.1 190.5 184.3 187.4C183.6 184.3 182.6 181 181.3 178.2C180 175.4 177.2 173.1 176.7 170.6C176.2 168 177.5 165.2 178.2 162.9C179 160.6 181.5 158.6 181.3 156.8C181 155 178 154 176.7 152.2C175.4 150.4 174 147.8 173.6 146C173.2 144.3 172.9 143.2 174.4 141.4Z" fill="#a222f0" stroke="#a222f0" stroke-width="3" stroke-linejoin="round"/>
<path d="M174.4 141.4C175.9 139.7 179.6 136.1 182.8 135.3C186 134.6 190.5 135.6 193.5 136.9C196.6 138.1 199.2 141.1 201.2 143C203.2 144.9 203 147.1 205.8 148.3C208.6 149.6 214.5 149.5 218.1 150.6C221.6 151.8 224.7 153.2 227.2 155.2C229.8 157.3 232.4 160.1 233.4 162.9C234.4 165.7 234.4 169.5 233.4 172.1C232.4 174.6 230.3 176.7 227.2 178.2C224.2 179.8 218.6 179.5 215 181.3C211.4 183.1 208.4 186.4 205.8 188.9C203.2 191.5 202 194.8 199.7 196.6C197.4 198.4 194.3 199.7 192 199.7C189.7 199.7 187.2 198.6 185.9 196.6C184.6 194.6 185.1 190.5 184.3 187.4C183.6 184.3 182.6 181 181.3 178.2C180 175.4 177.2 173.1 176.7 170.6C176.2 168 177.5 165.2 178.2 162.9C179 160.6 181.5 158.6 181.3 156.8C181 155 178 154 176.7 152.2C175.4 150.4 174 147.8 173.6 146C173.2 144.3 172.9 143.2 174.4 141.4Z" fill="#fff" mask="url(#mW)"/>
<path d="M174.4 141.4C175.9 139.7 179.6 136.1 182.8 135.3C186 134.6 190.5 135.6 193.5 136.9C196.6 138.1 199.2 141.1 201.2 143C203.2 144.9 203 147.1 205.8 148.3C208.6 149.6 214.5 149.5 218.1 150.6C221.6 151.8 224.7 153.2 227.2 155.2C229.8 157.3 232.4 160.1 233.4 162.9C234.4 165.7 234.4 169.5 233.4 172.1C232.4 174.6 230.3 176.7 227.2 178.2C224.2 179.8 218.6 179.5 215 181.3C211.4 183.1 208.4 186.4 205.8 188.9C203.2 191.5 202 194.8 199.7 196.6C197.4 198.4 194.3 199.7 192 199.7C189.7 199.7 187.2 198.6 185.9 196.6C184.6 194.6 185.1 190.5 184.3 187.4C183.6 184.3 182.6 181 181.3 178.2C180 175.4 177.2 173.1 176.7 170.6C176.2 168 177.5 165.2 178.2 162.9C179 160.6 181.5 158.6 181.3 156.8C181 155 178 154 176.7 152.2C175.4 150.4 174 147.8 173.6 146C173.2 144.3 172.9 143.2 174.4 141.4Z" fill="none" stroke="#a222f0" stroke-width="6" mask="url(#mM)"/>
<path d="M211.9 181.3C214 179.5 218.1 178.2 221.1 178.2C224.2 178.2 226.7 180.3 230.3 181.3C233.9 182.3 239.2 183.6 242.6 184.3C245.9 185.1 248.7 184.3 250.2 185.9C251.8 187.4 251.8 190.2 251.8 193.5C251.8 196.9 249.7 201.7 250.2 205.8C250.7 209.9 253.5 214.5 254.8 218.1C256.1 221.6 257.4 224.2 257.9 227.2C258.4 230.3 258.9 233.9 257.9 236.4C256.9 239 254.8 241.8 251.8 242.6C248.7 243.3 243.6 241.5 239.5 241C235.4 240.5 230.8 240.8 227.2 239.5C223.7 238.2 221.1 235.9 218.1 233.4C215 230.8 211.9 227.2 208.9 224.2C205.8 221.1 201.7 218.1 199.7 215C197.6 211.9 196.1 208.9 196.6 205.8C197.1 202.7 200.7 199.4 202.7 196.6C204.8 193.8 207.3 191.5 208.9 188.9C210.4 186.4 209.9 183.1 211.9 181.3Z" fill="#3d6c12" stroke="#3d6c12" stroke-width="3" stroke-linejoin="round"/>
<path d="M211.9 181.3C214 179.5 218.1 178.2 221.1 178.2C224.2 178.2 226.7 180.3 230.3 181.3C233.9 182.3 239.2 183.6 242.6 184.3C245.9 185.1 248.7 184.3 250.2 185.9C251.8 187.4 251.8 190.2 251.8 193.5C251.8 196.9 249.7 201.7 250.2 205.8C250.7 209.9 253.5 214.5 254.8 218.1C256.1 221.6 257.4 224.2 257.9 227.2C258.4 230.3 258.9 233.9 257.9 236.4C256.9 239 254.8 241.8 251.8 242.6C248.7 243.3 243.6 241.5 239.5 241C235.4 240.5 230.8 240.8 227.2 239.5C223.7 238.2 221.1 235.9 218.1 233.4C215 230.8 211.9 227.2 208.9 224.2C205.8 221.1 201.7 218.1 199.7 215C197.6 211.9 196.1 208.9 196.6 205.8C197.1 202.7 200.7 199.4 202.7 196.6C204.8 193.8 207.3 191.5 208.9 188.9C210.4 186.4 209.9 183.1 211.9 181.3Z" fill="#fff" mask="url(#mW)"/>
<path d="M211.9 181.3C214 179.5 218.1 178.2 221.1 178.2C224.2 178.2 226.7 180.3 230.3 181.3C233.9 182.3 239.2 183.6 242.6 184.3C245.9 185.1 248.7 184.3 250.2 185.9C251.8 187.4 251.8 190.2 251.8 193.5C251.8 196.9 249.7 201.7 250.2 205.8C250.7 209.9 253.5 214.5 254.8 218.1C256.1 221.6 257.4 224.2 257.9 227.2C258.4 230.3 258.9 233.9 257.9 236.4C256.9 239 254.8 241.8 251.8 242.6C248.7 243.3 243.6 241.5 239.5 241C235.4 240.5 230.8 240.8 227.2 239.5C223.7 238.2 221.1 235.9 218.1 233.4C215 230.8 211.9 227.2 208.9 224.2C205.8 221.1 201.7 218.1 199.7 215C197.6 211.9 196.1 208.9 196.6 205.8C197.1 202.7 200.7 199.4 202.7 196.6C204.8 193.8 207.3 191.5 208.9 188.9C210.4 186.4 209.9 183.1 211.9 181.3Z" fill="none" stroke="#3d6c12" stroke-width="6" mask="url(#mM)"/>
<path d="M254.8 184.3C256.4 182.1 259.7 180.3 262.5 179.8C265.3 179.2 269.4 180.3 271.7 181.3C274 182.3 275.3 182.8 276.3 185.9C277.3 188.9 277.3 195.3 277.8 199.7C278.3 204 278.8 207.8 279.3 211.9C279.9 216 281.4 220.1 280.9 224.2C280.4 228.3 278.6 232.9 276.3 236.4C274 240 269.6 242.6 267.1 245.6C264.5 248.7 263 252.3 261 254.8C258.9 257.4 256.6 260.4 254.8 261C253 261.5 251.3 260.4 250.2 257.9C249.2 255.3 248.4 249.7 248.7 245.6C249 241.5 250.5 237.5 251.8 233.4C253 229.3 256.1 225.7 256.4 221.1C256.6 216.5 253.8 210.4 253.3 205.8C252.8 201.2 253 197.1 253.3 193.5C253.5 190 253.3 186.6 254.8 184.3Z" fill="#7cf23a" stroke="#7cf23a" stroke-width="3" stroke-linejoin="round"/>
<path d="M254.8 184.3C256.4 182.1 259.7 180.3 262.5 179.8C265.3 179.2 269.4 180.3 271.7 181.3C274 182.3 275.3 182.8 276.3 185.9C277.3 188.9 277.3 195.3 277.8 199.7C278.3 204 278.8 207.8 279.3 211.9C279.9 216 281.4 220.1 280.9 224.2C280.4 228.3 278.6 232.9 276.3 236.4C274 240 269.6 242.6 267.1 245.6C264.5 248.7 263 252.3 261 254.8C258.9 257.4 256.6 260.4 254.8 261C253 261.5 251.3 260.4 250.2 257.9C249.2 255.3 248.4 249.7 248.7 245.6C249 241.5 250.5 237.5 251.8 233.4C253 229.3 256.1 225.7 256.4 221.1C256.6 216.5 253.8 210.4 253.3 205.8C252.8 201.2 253 197.1 253.3 193.5C253.5 190 253.3 186.6 254.8 184.3Z" fill="#fff" mask="url(#mW)"/>
<path d="M254.8 184.3C256.4 182.1 259.7 180.3 262.5 179.8C265.3 179.2 269.4 180.3 271.7 181.3C274 182.3 275.3 182.8 276.3 185.9C277.3 188.9 277.3 195.3 277.8 199.7C278.3 204 278.8 207.8 279.3 211.9C279.9 216 281.4 220.1 280.9 224.2C280.4 228.3 278.6 232.9 276.3 236.4C274 240 269.6 242.6 267.1 245.6C264.5 248.7 263 252.3 261 254.8C258.9 257.4 256.6 260.4 254.8 261C253 261.5 251.3 260.4 250.2 257.9C249.2 255.3 248.4 249.7 248.7 245.6C249 241.5 250.5 237.5 251.8 233.4C253 229.3 256.1 225.7 256.4 221.1C256.6 216.5 253.8 210.4 253.3 205.8C252.8 201.2 253 197.1 253.3 193.5C253.5 190 253.3 186.6 254.8 184.3Z" fill="none" stroke="#7cf23a" stroke-width="6" mask="url(#mM)"/>
<path d="M262.5 176.7C262.2 173.4 264.3 165.7 265.6 162.9C266.8 160.1 268.9 159.6 270.1 159.8C271.4 160.1 272.2 162.1 273.2 164.4C274.2 166.7 276.5 170.6 276.3 173.6C276 176.7 273.2 181.3 271.7 182.8C270.1 184.3 268.6 183.8 267.1 182.8C265.6 181.8 262.7 180 262.5 176.7Z" fill="#c39595" mask="url(#mM)"/>
<path d="M262.5 176.7C262.2 173.4 264.3 165.7 265.6 162.9C266.8 160.1 268.9 159.6 270.1 159.8C271.4 160.1 272.2 162.1 273.2 164.4C274.2 166.7 276.5 170.6 276.3 173.6C276 176.7 273.2 181.3 271.7 182.8C270.1 184.3 268.6 183.8 267.1 182.8C265.6 181.8 262.7 180 262.5 176.7Z" fill="none" stroke="#c39595" stroke-width="6" mask="url(#mV)"/>
<path d="M296.2 181.3C296.7 177.5 301.3 174.9 303.9 170.6C306.4 166.2 308.5 159.3 311.5 155.2C314.6 151.2 318.4 147.7 322.2 146C326.1 144.4 330.7 144.5 334.5 145.3C338.3 146 342.7 148.2 345.2 150.6C347.8 153.1 348 156.3 349.8 159.8C351.6 163.4 353.6 169.5 355.9 172.1C358.2 174.6 361.8 172.6 363.6 175.2C365.4 177.7 366.4 183.3 366.7 187.4C366.9 191.5 366.2 196.1 365.1 199.7C364.1 203.2 362.6 206.6 360.5 208.9C358.5 211.2 356.5 211.9 352.9 213.5C349.3 215 343.7 217 339.1 218.1C334.5 219.1 329.1 220.6 325.3 219.6C321.5 218.6 318.7 214.7 316.1 211.9C313.6 209.1 312.5 205.8 310 202.7C307.4 199.7 303.1 197.1 300.8 193.5C298.5 190 295.7 185.1 296.2 181.3Z" fill="#e89b3e" mask="url(#mE)"/>
<path d="M296.2 181.3C296.7 177.5 301.3 174.9 303.9 170.6C306.4 166.2 308.5 159.3 311.5 155.2C314.6 151.2 318.4 147.7 322.2 146C326.1 144.4 330.7 144.5 334.5 145.3C338.3 146 342.7 148.2 345.2 150.6C347.8 153.1 348 156.3 349.8 159.8C351.6 163.4 353.6 169.5 355.9 172.1C358.2 174.6 361.8 172.6 363.6 175.2C365.4 177.7 366.4 183.3 366.7 187.4C366.9 191.5 366.2 196.1 365.1 199.7C364.1 203.2 362.6 206.6 360.5 208.9C358.5 211.2 356.5 211.9 352.9 213.5C349.3 215 343.7 217 339.1 218.1C334.5 219.1 329.1 220.6 325.3 219.6C321.5 218.6 318.7 214.7 316.1 211.9C313.6 209.1 312.5 205.8 310 202.7C307.4 199.7 303.1 197.1 300.8 193.5C298.5 190 295.7 185.1 296.2 181.3Z" fill="none" stroke="#e89b3e" stroke-width="6" mask="url(#mL)"/>
<text x="254.7" y="90" font-size="25.5" fill="#000" text-anchor="middle" stroke="#000" stroke-width="0.55">Blood &amp; Nasal</text>
<path d="M507.4 112.4V392.4M601.8 112.4V392.4M695.6 112.4V392.4M465.7 147.2H749.5M465.7 198.1H749.5M465.7 249.9H749.5M465.7 300.8H749.5M465.7 352.8H749.5" stroke="#c9c9c9" stroke-width="1.1" fill="none"/>
<path d="M457.5 147.1H465.1M457.5 198.5H465.1M457.5 249.9H465.1M457.5 301.3H465.1M457.5 352.7H465.1M507.8 395.9V402.7M601.8 395.9V402.7M695.8 395.9V402.7" stroke="#111" stroke-width="2" fill="none"/>
<path d="M461.4 116.3H465.1M461.4 126.5H465.1M461.4 136.8H465.1M461.4 157.4H465.1M461.4 167.7H465.1M461.4 177.9H465.1M461.4 188.2H465.1M461.4 208.8H465.1M461.4 219.1H465.1M461.4 229.3H465.1M461.4 239.6H465.1M461.4 260.2H465.1M461.4 270.5H465.1M461.4 280.7H465.1M461.4 291H465.1M461.4 311.6H465.1M461.4 321.9H465.1M461.4 332.1H465.1M461.4 342.4H465.1M531.3 395.9V399.5M554.8 395.9V399.5M578.3 395.9V399.5M625.3 395.9V399.5M648.8 395.9V399.5M672.3 395.9V399.5M719.3 395.9V399.5M742.8 395.9V399.5" stroke="#222" stroke-width="1.2" fill="none"/>
<g font-size="11.5" fill="#1a1a1a" stroke="#1a1a1a" stroke-width="0.3" text-anchor="end">
<text x="452" y="150.2">10</text>
<text x="452" y="201.1">5.0</text>
<text x="452" y="252.9">0</text>
<text x="452" y="303.8">−5.0</text>
<text x="452" y="355.8">−9</text>
</g><g font-size="11.5" fill="#1a1a1a" stroke="#1a1a1a" stroke-width="0.3" text-anchor="middle">
<text x="507.4" y="414.9">−9</text>
<text x="601.8" y="414.9">0</text>
<text x="695.6" y="414.9">10</text>
</g>
<path d="M637.3 199.7C638.9 197.6 643 199.9 646.5 199.7C650.1 199.4 653.9 196.1 658.8 198.1C663.6 200.2 670 209.6 675.6 211.9C681.3 214.2 685.6 211.7 692.5 211.9C699.4 212.2 713.4 209.6 717 213.5C720.6 217.3 715.2 227.5 713.9 234.9C712.7 242.3 710.6 250 709.3 257.9C708.1 265.8 706.5 274.7 706.3 282.4C706 290.1 707.6 297 707.8 303.9C708.1 310.7 708.6 317.4 707.8 323.8C707.1 330.2 706.3 337 703.2 342.2C700.2 347.3 695 351.9 689.4 354.4C683.8 357 675.4 358.2 669.5 357.5C663.6 356.7 660.6 353.1 654.2 349.8C647.8 346.5 638.1 340.6 631.2 337.6C624.3 334.5 618.4 334 612.8 331.4C607.2 328.9 601.1 326.1 597.5 322.2C593.9 318.4 591.9 312.3 591.4 308.5C590.9 304.6 592.9 302.6 594.4 299.3C596 295.9 599 292.9 600.6 288.5C602.1 284.2 602.9 279.6 603.6 273.2C604.4 266.8 604.1 257.9 605.2 250.2C606.2 242.6 606.7 232.6 609.8 227.2C612.8 221.9 619 220.6 623.6 218.1C628.1 215.5 635 215 637.3 211.9C639.6 208.9 635.8 201.7 637.3 199.7Z" fill="#fd2424" mask="url(#mL)"/>
<path d="M637.3 199.7C638.9 197.6 643 199.9 646.5 199.7C650.1 199.4 653.9 196.1 658.8 198.1C663.6 200.2 670 209.6 675.6 211.9C681.3 214.2 685.6 211.7 692.5 211.9C699.4 212.2 713.4 209.6 717 213.5C720.6 217.3 715.2 227.5 713.9 234.9C712.7 242.3 710.6 250 709.3 257.9C708.1 265.8 706.5 274.7 706.3 282.4C706 290.1 707.6 297 707.8 303.9C708.1 310.7 708.6 317.4 707.8 323.8C707.1 330.2 706.3 337 703.2 342.2C700.2 347.3 695 351.9 689.4 354.4C683.8 357 675.4 358.2 669.5 357.5C663.6 356.7 660.6 353.1 654.2 349.8C647.8 346.5 638.1 340.6 631.2 337.6C624.3 334.5 618.4 334 612.8 331.4C607.2 328.9 601.1 326.1 597.5 322.2C593.9 318.4 591.9 312.3 591.4 308.5C590.9 304.6 592.9 302.6 594.4 299.3C596 295.9 599 292.9 600.6 288.5C602.1 284.2 602.9 279.6 603.6 273.2C604.4 266.8 604.1 257.9 605.2 250.2C606.2 242.6 606.7 232.6 609.8 227.2C612.8 221.9 619 220.6 623.6 218.1C628.1 215.5 635 215 637.3 211.9C639.6 208.9 635.8 201.7 637.3 199.7Z" fill="none" stroke="#fd2424" stroke-width="6" mask="url(#mV)"/>
<path d="M637.3 202.7C638.9 199.4 645.5 199.2 649.6 201.2C653.7 203.2 659.3 210.1 661.9 215C664.4 219.8 666.2 227.2 664.9 230.3C663.6 233.4 658.3 234.9 654.2 233.4C650.1 231.8 643.2 226.2 640.4 221.1C637.6 216 635.8 206.1 637.3 202.7Z" fill="#fd2424" mask="url(#mM)"/>
<path d="M637.3 202.7C638.9 199.4 645.5 199.2 649.6 201.2C653.7 203.2 659.3 210.1 661.9 215C664.4 219.8 666.2 227.2 664.9 230.3C663.6 233.4 658.3 234.9 654.2 233.4C650.1 231.8 643.2 226.2 640.4 221.1C637.6 216 635.8 206.1 637.3 202.7Z" fill="none" stroke="#fd2424" stroke-width="6" mask="url(#mV)"/>
<path d="M603.6 297.7C605.7 294.7 611.8 291.6 615.9 291.6C620 291.6 626.6 294.2 628.1 297.7C629.7 301.3 627.6 309.7 625.1 313C622.5 316.4 616.4 318.2 612.8 317.6C609.3 317.1 605.2 313.3 603.6 310C602.1 306.7 601.6 300.8 603.6 297.7Z" fill="#fd2424" mask="url(#mM)"/>
<path d="M603.6 297.7C605.7 294.7 611.8 291.6 615.9 291.6C620 291.6 626.6 294.2 628.1 297.7C629.7 301.3 627.6 309.7 625.1 313C622.5 316.4 616.4 318.2 612.8 317.6C609.3 317.1 605.2 313.3 603.6 310C602.1 306.7 601.6 300.8 603.6 297.7Z" fill="none" stroke="#fd2424" stroke-width="6" mask="url(#mV)"/>
<path d="M698.6 257.9C700.4 250.7 707.8 250.2 709.3 257.9C710.9 265.6 709.6 296.7 707.8 303.9C706 311 700.2 308.5 698.6 300.8C697.1 293.1 696.8 265 698.6 257.9Z" fill="#fd2424" mask="url(#mM)"/>
<path d="M698.6 257.9C700.4 250.7 707.8 250.2 709.3 257.9C710.9 265.6 709.6 296.7 707.8 303.9C706 311 700.2 308.5 698.6 300.8C697.1 293.1 696.8 265 698.6 257.9Z" fill="none" stroke="#fd2424" stroke-width="6" mask="url(#mV)"/>
<path d="M579.1 242.6C584 238.7 601.1 245.1 605.2 250.2C609.3 255.3 604.4 266.8 603.6 273.2C602.9 279.6 603.6 286 600.6 288.5C597.5 291.1 589.3 291.1 585.2 288.5C581.2 286 577.1 280.9 576.1 273.2C575 265.6 574.3 246.4 579.1 242.6Z" fill="#fd2424" mask="url(#mV)"/>
<path d="M499.4 205.8C502.5 198.6 509.7 200.4 516.3 199.7C522.9 198.9 533.4 200.2 539.3 201.2C545.2 202.2 548.5 202.5 551.5 205.8C554.6 209.1 554.6 216.5 557.7 221.1C560.7 225.7 565.8 229.8 569.9 233.4C574 237 580.1 238.5 582.2 242.6C584.2 246.7 583.2 252.8 582.2 257.9C581.2 263 579.1 269.1 576.1 273.2C573 277.3 569.4 281.6 563.8 282.4C558.2 283.2 549 280.4 542.3 277.8C535.7 275.3 529.6 270.9 524 267.1C518.3 263.3 513 258.9 508.6 254.8C504.3 250.7 499.4 250.7 497.9 242.6C496.4 234.4 496.4 212.9 499.4 205.8Z" fill="#48a79b" mask="url(#mK)"/>
<path d="M507.1 221.1C510.2 217.5 517.3 215.5 524 215C530.6 214.5 540.3 215.5 546.9 218.1C553.6 220.6 559.5 225.7 563.8 230.3C568.1 234.9 572 240 573 245.6C574 251.3 573.5 260.4 569.9 264C566.4 267.6 558.4 267.6 551.5 267.1C544.6 266.6 535.2 263.5 528.6 261C521.9 258.4 515.5 255.8 511.7 251.8C507.9 247.7 506.3 241.5 505.6 236.4C504.8 231.3 504 224.7 507.1 221.1Z" fill="#48a79b" mask="url(#mL)"/>
<path d="M507.1 221.1C510.2 217.5 517.3 215.5 524 215C530.6 214.5 540.3 215.5 546.9 218.1C553.6 220.6 559.5 225.7 563.8 230.3C568.1 234.9 572 240 573 245.6C574 251.3 573.5 260.4 569.9 264C566.4 267.6 558.4 267.6 551.5 267.1C544.6 266.6 535.2 263.5 528.6 261C521.9 258.4 515.5 255.8 511.7 251.8C507.9 247.7 506.3 241.5 505.6 236.4C504.8 231.3 504 224.7 507.1 221.1Z" fill="none" stroke="#48a79b" stroke-width="6" mask="url(#mV)"/>
<path d="M516.3 172.1C518.9 169 524.7 169.8 528.6 170.6C532.4 171.3 536.7 174.1 539.3 176.7C541.8 179.2 543.4 182.6 543.9 185.9C544.4 189.2 543.6 193.8 542.3 196.6C541.1 199.4 539.3 201.2 536.2 202.7C533.2 204.3 527 206.3 524 205.8C520.9 205.3 519.6 202.5 517.8 199.7C516 196.9 513.5 193.5 513.2 188.9C513 184.3 513.7 175.2 516.3 172.1Z" fill="#eef830" mask="url(#mM)"/>
<path d="M516.3 172.1C518.9 169 524.7 169.8 528.6 170.6C532.4 171.3 536.7 174.1 539.3 176.7C541.8 179.2 543.4 182.6 543.9 185.9C544.4 189.2 543.6 193.8 542.3 196.6C541.1 199.4 539.3 201.2 536.2 202.7C533.2 204.3 527 206.3 524 205.8C520.9 205.3 519.6 202.5 517.8 199.7C516 196.9 513.5 193.5 513.2 188.9C513 184.3 513.7 175.2 516.3 172.1Z" fill="none" stroke="#eef830" stroke-width="6" mask="url(#mV)"/>
<path d="M491.8 184.3C493.6 182.3 500.5 179.8 502.5 181.3C504.6 182.8 505.1 190.5 504 193.5C503 196.6 498.4 199.7 496.4 199.7C494.3 199.7 492.6 196.1 491.8 193.5C491 191 490 186.4 491.8 184.3Z" fill="#eef830" mask="url(#mL)"/>
<path d="M491.8 184.3C493.6 182.3 500.5 179.8 502.5 181.3C504.6 182.8 505.1 190.5 504 193.5C503 196.6 498.4 199.7 496.4 199.7C494.3 199.7 492.6 196.1 491.8 193.5C491 191 490 186.4 491.8 184.3Z" fill="none" stroke="#eef830" stroke-width="6" mask="url(#mV)"/>
<path d="M534.7 150.6C535.2 149.6 542.3 152.2 546.9 152.2C551.5 152.2 557.9 149.9 562.3 150.6C566.6 151.4 570.2 154.7 573 156.8C575.8 158.8 578.6 160.3 579.1 162.9C579.6 165.5 577.1 169 576.1 172.1C575 175.2 574 178 573 181.3C572 184.6 571.7 189.5 569.9 192C568.1 194.6 565.3 195.8 562.3 196.6C559.2 197.4 554.4 197.9 551.5 196.6C548.7 195.3 546.7 192 545.4 188.9C544.1 185.9 543.6 182.1 543.9 178.2C544.1 174.4 546.9 169.3 546.9 166C546.9 162.6 545.9 160.9 543.9 158.3C541.8 155.7 534.2 151.7 534.7 150.6Z" fill="#a222f0" mask="url(#mM)"/>
<path d="M534.7 150.6C535.2 149.6 542.3 152.2 546.9 152.2C551.5 152.2 557.9 149.9 562.3 150.6C566.6 151.4 570.2 154.7 573 156.8C575.8 158.8 578.6 160.3 579.1 162.9C579.6 165.5 577.1 169 576.1 172.1C575 175.2 574 178 573 181.3C572 184.6 571.7 189.5 569.9 192C568.1 194.6 565.3 195.8 562.3 196.6C559.2 197.4 554.4 197.9 551.5 196.6C548.7 195.3 546.7 192 545.4 188.9C544.1 185.9 543.6 182.1 543.9 178.2C544.1 174.4 546.9 169.3 546.9 166C546.9 162.6 545.9 160.9 543.9 158.3C541.8 155.7 534.2 151.7 534.7 150.6Z" fill="none" stroke="#a222f0" stroke-width="6" mask="url(#mV)"/>
<path d="M532.4 143C532.6 140.9 534.6 139.7 536.2 138.4C537.9 137.1 539.5 135.6 542.3 135.3C545.2 135.1 550.3 135.6 553.1 136.9C555.9 138.1 557.7 140.7 559.2 143C560.7 145.3 563 148.6 562.3 150.6C561.5 152.7 557.9 154.7 554.6 155.2C551.3 155.7 545.7 154.5 542.3 153.7C539 152.9 536.3 152.4 534.7 150.6C533 148.9 532.1 145 532.4 143Z" fill="#a222f0" mask="url(#mD)"/>
<path d="M532.4 143C532.6 140.9 534.6 139.7 536.2 138.4C537.9 137.1 539.5 135.6 542.3 135.3C545.2 135.1 550.3 135.6 553.1 136.9C555.9 138.1 557.7 140.7 559.2 143C560.7 145.3 563 148.6 562.3 150.6C561.5 152.7 557.9 154.7 554.6 155.2C551.3 155.7 545.7 154.5 542.3 153.7C539 152.9 536.3 152.4 534.7 150.6C533 148.9 532.1 145 532.4 143Z" fill="none" stroke="#a222f0" stroke-width="6" mask="url(#mL)"/>
<path d="M563.8 187.4C567.4 183.8 572.5 179.8 576.1 178.2C579.6 176.7 581.7 177.2 585.2 178.2C588.8 179.2 593.7 182.3 597.5 184.3C601.3 186.4 606.4 187.7 608.2 190.5C610 193.3 609.8 198.6 608.2 201.2C606.7 203.8 601.3 203 599 205.8C596.7 208.6 595.2 214 594.4 218.1C593.7 222.1 596 227.2 594.4 230.3C592.9 233.4 588.8 236.4 585.2 236.4C581.7 236.4 577.3 232.4 573 230.3C568.7 228.3 562.8 227.2 559.2 224.2C555.6 221.1 552.3 216 551.5 211.9C550.8 207.8 552.6 203.8 554.6 199.7C556.6 195.6 560.2 191 563.8 187.4Z" fill="#3d6c12" mask="url(#mM)"/>
<path d="M563.8 187.4C567.4 183.8 572.5 179.8 576.1 178.2C579.6 176.7 581.7 177.2 585.2 178.2C588.8 179.2 593.7 182.3 597.5 184.3C601.3 186.4 606.4 187.7 608.2 190.5C610 193.3 609.8 198.6 608.2 201.2C606.7 203.8 601.3 203 599 205.8C596.7 208.6 595.2 214 594.4 218.1C593.7 222.1 596 227.2 594.4 230.3C592.9 233.4 588.8 236.4 585.2 236.4C581.7 236.4 577.3 232.4 573 230.3C568.7 228.3 562.8 227.2 559.2 224.2C555.6 221.1 552.3 216 551.5 211.9C550.8 207.8 552.6 203.8 554.6 199.7C556.6 195.6 560.2 191 563.8 187.4Z" fill="none" stroke="#3d6c12" stroke-width="6" mask="url(#mV)"/>
<path d="M576.1 181.3C576.6 179 584.2 179 588.3 179.8C592.4 180.5 597.2 183.8 600.6 185.9C603.9 187.9 607.2 189.5 608.2 192C609.3 194.6 608.5 199.4 606.7 201.2C604.9 203 601.1 204 597.5 202.7C593.9 201.5 588.8 197.1 585.2 193.5C581.7 190 575.5 183.6 576.1 181.3Z" fill="#3d6c12" mask="url(#mL)"/>
<path d="M576.1 181.3C576.6 179 584.2 179 588.3 179.8C592.4 180.5 597.2 183.8 600.6 185.9C603.9 187.9 607.2 189.5 608.2 192C609.3 194.6 608.5 199.4 606.7 201.2C604.9 203 601.1 204 597.5 202.7C593.9 201.5 588.8 197.1 585.2 193.5C581.7 190 575.5 183.6 576.1 181.3Z" fill="none" stroke="#3d6c12" stroke-width="6" mask="url(#mV)"/>
<path d="M612.8 184.3C613.8 181.5 615.6 180.8 619 179.8C622.3 178.7 629.9 176.7 632.7 178.2C635.6 179.8 635 185.4 635.8 188.9C636.6 192.5 637.6 195.8 637.3 199.7C637.1 203.5 635.8 207.3 634.3 211.9C632.7 216.5 629.7 222.1 628.1 227.2C626.6 232.4 626.6 238.7 625.1 242.6C623.6 246.4 621 250.2 619 250.2C616.9 250.2 613.8 246.4 612.8 242.6C611.8 238.7 612.6 232.4 612.8 227.2C613.1 222.1 614.4 217 614.4 211.9C614.4 206.8 613.1 201.2 612.8 196.6C612.6 192 611.8 187.2 612.8 184.3Z" fill="#7cf23a" mask="url(#mM)"/>
<path d="M612.8 184.3C613.8 181.5 615.6 180.8 619 179.8C622.3 178.7 629.9 176.7 632.7 178.2C635.6 179.8 635 185.4 635.8 188.9C636.6 192.5 637.6 195.8 637.3 199.7C637.1 203.5 635.8 207.3 634.3 211.9C632.7 216.5 629.7 222.1 628.1 227.2C626.6 232.4 626.6 238.7 625.1 242.6C623.6 246.4 621 250.2 619 250.2C616.9 250.2 613.8 246.4 612.8 242.6C611.8 238.7 612.6 232.4 612.8 227.2C613.1 222.1 614.4 217 614.4 211.9C614.4 206.8 613.1 201.2 612.8 196.6C612.6 192 611.8 187.2 612.8 184.3Z" fill="none" stroke="#7cf23a" stroke-width="6" mask="url(#mV)"/>
<path d="M622 192C624.1 190 633.5 190.2 635.8 192C638.1 193.8 637.9 200.7 635.8 202.7C633.8 204.8 625.8 206.1 623.6 204.3C621.3 202.5 620 194.1 622 192Z" fill="#7cf23a" mask="url(#mD)"/>
<path d="M622 192C624.1 190 633.5 190.2 635.8 192C638.1 193.8 637.9 200.7 635.8 202.7C633.8 204.8 625.8 206.1 623.6 204.3C621.3 202.5 620 194.1 622 192Z" fill="none" stroke="#7cf23a" stroke-width="6" mask="url(#mL)"/>
<path d="M619 175.2C618.7 172.6 621.9 165.6 623.6 162.9C625.2 160.2 627.6 158.8 628.9 159.1C630.2 159.3 631.1 162.3 631.2 164.4C631.3 166.6 630.7 169.8 629.7 172.1C628.7 174.4 626.9 177.7 625.1 178.2C623.3 178.7 619.2 177.7 619 175.2Z" fill="#c39595" mask="url(#mM)"/>
<path d="M619 175.2C618.7 172.6 621.9 165.6 623.6 162.9C625.2 160.2 627.6 158.8 628.9 159.1C630.2 159.3 631.1 162.3 631.2 164.4C631.3 166.6 630.7 169.8 629.7 172.1C628.7 174.4 626.9 177.7 625.1 178.2C623.3 178.7 619.2 177.7 619 175.2Z" fill="none" stroke="#c39595" stroke-width="6" mask="url(#mV)"/>
<path d="M655.7 190.5C655.7 186.1 659.3 179.5 661.9 173.6C664.4 167.8 667.5 159.8 671 155.2C674.6 150.6 678.5 147.3 683.3 146C688.2 144.8 695.6 145.3 700.2 147.6C704.8 149.9 708.1 155.5 710.9 159.8C713.7 164.2 714.7 170 717 173.6C719.3 177.2 723.4 178 724.7 181.3C725.9 184.6 725.2 189.5 724.7 193.5C724.2 197.6 722.9 202.7 721.6 205.8C720.3 208.9 719.3 211.4 717 211.9C714.7 212.4 711.9 209.9 707.8 208.9C703.7 207.8 697.1 205.8 692.5 205.8C687.9 205.8 683.8 209.4 680.2 208.9C676.7 208.4 674.1 204.3 671 202.7C668 201.2 664.4 201.7 661.9 199.7C659.3 197.6 655.7 194.8 655.7 190.5Z" fill="#e89b3e" mask="url(#mL)"/>
<path d="M655.7 190.5C655.7 186.1 659.3 179.5 661.9 173.6C664.4 167.8 667.5 159.8 671 155.2C674.6 150.6 678.5 147.3 683.3 146C688.2 144.8 695.6 145.3 700.2 147.6C704.8 149.9 708.1 155.5 710.9 159.8C713.7 164.2 714.7 170 717 173.6C719.3 177.2 723.4 178 724.7 181.3C725.9 184.6 725.2 189.5 724.7 193.5C724.2 197.6 722.9 202.7 721.6 205.8C720.3 208.9 719.3 211.4 717 211.9C714.7 212.4 711.9 209.9 707.8 208.9C703.7 207.8 697.1 205.8 692.5 205.8C687.9 205.8 683.8 209.4 680.2 208.9C676.7 208.4 674.1 204.3 671 202.7C668 201.2 664.4 201.7 661.9 199.7C659.3 197.6 655.7 194.8 655.7 190.5Z" fill="none" stroke="#e89b3e" stroke-width="6" mask="url(#mV)"/>
<path d="M698.6 178.2C701.2 173.9 712.7 172.6 717 173.6C721.4 174.6 723.6 179.5 724.7 184.3C725.7 189.2 724.4 198.6 723.1 202.7C721.9 206.8 720.6 209.4 717 208.9C713.4 208.4 704.8 204.8 701.7 199.7C698.6 194.6 696.1 182.6 698.6 178.2Z" fill="#e89b3e" mask="url(#mD)"/>
<path d="M698.6 178.2C701.2 173.9 712.7 172.6 717 173.6C721.4 174.6 723.6 179.5 724.7 184.3C725.7 189.2 724.4 198.6 723.1 202.7C721.9 206.8 720.6 209.4 717 208.9C713.4 208.4 704.8 204.8 701.7 199.7C698.6 194.6 696.1 182.6 698.6 178.2Z" fill="none" stroke="#e89b3e" stroke-width="6" mask="url(#mL)"/>
<text x="600.8" y="85.8" font-size="25.5" fill="#000" text-anchor="middle" stroke="#000" stroke-width="0.55">Blood</text>
<path d="M865.4 112.4V392.4M959.8 112.4V392.4M1053.6 112.4V392.4M823.7 147.2H1107.5M823.7 198.1H1107.5M823.7 249.9H1107.5M823.7 300.8H1107.5M823.7 352.8H1107.5" stroke="#c9c9c9" stroke-width="1.1" fill="none"/>
<path d="M815.5 147.1H823.1M815.5 198.5H823.1M815.5 249.9H823.1M815.5 301.3H823.1M815.5 352.7H823.1M865.8 395.9V402.7M959.8 395.9V402.7M1053.8 395.9V402.7" stroke="#111" stroke-width="2" fill="none"/>
<path d="M819.4 116.3H823.1M819.4 126.5H823.1M819.4 136.8H823.1M819.4 157.4H823.1M819.4 167.7H823.1M819.4 177.9H823.1M819.4 188.2H823.1M819.4 208.8H823.1M819.4 219.1H823.1M819.4 229.3H823.1M819.4 239.6H823.1M819.4 260.2H823.1M819.4 270.5H823.1M819.4 280.7H823.1M819.4 291H823.1M819.4 311.6H823.1M819.4 321.9H823.1M819.4 332.1H823.1M819.4 342.4H823.1M889.3 395.9V399.5M912.8 395.9V399.5M936.3 395.9V399.5M983.3 395.9V399.5M1006.8 395.9V399.5M1030.3 395.9V399.5M1077.3 395.9V399.5M1100.8 395.9V399.5" stroke="#222" stroke-width="1.2" fill="none"/>
<g font-size="11.5" fill="#1a1a1a" stroke="#1a1a1a" stroke-width="0.3" text-anchor="end">
<text x="810" y="150.2">10</text>
<text x="810" y="201.1">5.0</text>
<text x="810" y="252.9">0</text>
<text x="810" y="303.8">−5.0</text>
<text x="810" y="355.8">−9</text>
</g><g font-size="11.5" fill="#1a1a1a" stroke="#1a1a1a" stroke-width="0.3" text-anchor="middle">
<text x="865.4" y="414.9">−9</text>
<text x="959.8" y="414.9">0</text>
<text x="1053.6" y="414.9">10</text>
</g>
<path d="M983.1 211.9C987.4 206.8 992.8 208.1 996.9 205.8C1001 203.5 1004.5 198.1 1007.6 198.1C1010.7 198.1 1011.7 200.9 1015.3 205.8C1018.8 210.7 1025.2 220.6 1029 227.2C1032.9 233.9 1035.2 240.5 1038.2 245.6C1041.3 250.7 1044.1 253.3 1047.4 257.9C1050.8 262.5 1055.3 268.1 1058.2 273.2C1061 278.3 1063 282.1 1064.3 288.5C1065.6 294.9 1065.6 303.9 1065.8 311.5C1066.1 319.2 1066.8 328.1 1065.8 334.5C1064.8 340.9 1061.7 345.5 1059.7 349.8C1057.6 354.2 1056.4 358 1053.6 360.5C1050.8 363.1 1047.2 364.9 1042.8 365.1C1038.5 365.4 1033.9 364.6 1027.5 362.1C1021.1 359.5 1012.2 353.4 1004.5 349.8C996.9 346.2 989.2 343.7 981.6 340.6C973.9 337.6 963.9 335.5 958.6 331.4C953.2 327.3 951.4 321.2 949.4 316.1C947.3 311 947.3 305.9 946.3 300.8C945.3 295.7 945 290.1 943.2 285.5C941.5 280.9 937.1 277.8 935.6 273.2C934.1 268.6 932.8 263 934.1 257.9C935.3 252.8 939.2 246.1 943.2 242.6C947.3 239 954 237.5 958.6 236.4C963.2 235.4 966.7 240.5 970.8 236.4C974.9 232.4 978.7 217 983.1 211.9Z" fill="#fd2424" mask="url(#mL)"/>
<path d="M983.1 211.9C987.4 206.8 992.8 208.1 996.9 205.8C1001 203.5 1004.5 198.1 1007.6 198.1C1010.7 198.1 1011.7 200.9 1015.3 205.8C1018.8 210.7 1025.2 220.6 1029 227.2C1032.9 233.9 1035.2 240.5 1038.2 245.6C1041.3 250.7 1044.1 253.3 1047.4 257.9C1050.8 262.5 1055.3 268.1 1058.2 273.2C1061 278.3 1063 282.1 1064.3 288.5C1065.6 294.9 1065.6 303.9 1065.8 311.5C1066.1 319.2 1066.8 328.1 1065.8 334.5C1064.8 340.9 1061.7 345.5 1059.7 349.8C1057.6 354.2 1056.4 358 1053.6 360.5C1050.8 363.1 1047.2 364.9 1042.8 365.1C1038.5 365.4 1033.9 364.6 1027.5 362.1C1021.1 359.5 1012.2 353.4 1004.5 349.8C996.9 346.2 989.2 343.7 981.6 340.6C973.9 337.6 963.9 335.5 958.6 331.4C953.2 327.3 951.4 321.2 949.4 316.1C947.3 311 947.3 305.9 946.3 300.8C945.3 295.7 945 290.1 943.2 285.5C941.5 280.9 937.1 277.8 935.6 273.2C934.1 268.6 932.8 263 934.1 257.9C935.3 252.8 939.2 246.1 943.2 242.6C947.3 239 954 237.5 958.6 236.4C963.2 235.4 966.7 240.5 970.8 236.4C974.9 232.4 978.7 217 983.1 211.9Z" fill="none" stroke="#fd2424" stroke-width="6" mask="url(#mV)"/>
<path d="M937.1 267.1C942.5 263.5 962.7 264 973.9 264C985.1 264 994.3 268.6 1004.5 267.1C1014.7 265.6 1027 254.8 1035.2 254.8C1043.3 254.8 1048.7 261.5 1053.6 267.1C1058.4 272.7 1062.2 281.1 1064.3 288.5C1066.3 295.9 1065.6 303.9 1065.8 311.5C1066.1 319.2 1066.8 328.1 1065.8 334.5C1064.8 340.9 1061.7 345.5 1059.7 349.8C1057.6 354.2 1056.4 358 1053.6 360.5C1050.8 363.1 1047.2 364.9 1042.8 365.1C1038.5 365.4 1033.9 364.6 1027.5 362.1C1021.1 359.5 1012.2 353.4 1004.5 349.8C996.9 346.2 989.2 343.7 981.6 340.6C973.9 337.6 963.9 335.5 958.6 331.4C953.2 327.3 951.4 321.2 949.4 316.1C947.3 311 947.6 305.9 946.3 300.8C945 295.7 943.2 291.1 941.7 285.5C940.2 279.9 931.8 270.7 937.1 267.1Z" fill="#fd2424" mask="url(#mK)"/>
<path d="M852.9 211.9C854.4 207.8 856.9 206.8 860.5 205.8C864.1 204.8 869.5 204.8 874.3 205.8C879.2 206.8 884.5 209.9 889.6 211.9C894.7 214 899.6 216 904.9 218.1C910.3 220.1 916.9 221.1 921.8 224.2C926.7 227.2 930.5 232.9 934.1 236.4C937.6 240 941.2 242.1 943.2 245.6C945.3 249.2 946.3 253.3 946.3 257.9C946.3 262.5 942.7 268.6 943.2 273.2C943.8 277.8 948.9 281.9 949.4 285.5C949.9 289 949.4 292.9 946.3 294.7C943.2 296.4 936.6 296.4 931 296.2C925.4 295.9 918.2 293.4 912.6 293.1C907 292.9 901.9 294.9 897.3 294.7C892.7 294.4 889.4 294.2 885 291.6C880.7 289 875.3 283.9 871.2 279.3C867.2 274.7 863.6 268.9 860.5 264C857.4 259.2 854.4 255.8 852.9 250.2C851.3 244.6 851.3 236.7 851.3 230.3C851.3 223.9 851.3 216 852.9 211.9Z" fill="#48a79b" mask="url(#mN)"/>
<path d="M852.9 211.9C854.4 207.8 856.9 206.8 860.5 205.8C864.1 204.8 869.5 204.8 874.3 205.8C879.2 206.8 884.5 209.9 889.6 211.9C894.7 214 899.6 216 904.9 218.1C910.3 220.1 916.9 221.1 921.8 224.2C926.7 227.2 930.5 232.9 934.1 236.4C937.6 240 941.2 242.1 943.2 245.6C945.3 249.2 946.3 253.3 946.3 257.9C946.3 262.5 942.7 268.6 943.2 273.2C943.8 277.8 948.9 281.9 949.4 285.5C949.9 289 949.4 292.9 946.3 294.7C943.2 296.4 936.6 296.4 931 296.2C925.4 295.9 918.2 293.4 912.6 293.1C907 292.9 901.9 294.9 897.3 294.7C892.7 294.4 889.4 294.2 885 291.6C880.7 289 875.3 283.9 871.2 279.3C867.2 274.7 863.6 268.9 860.5 264C857.4 259.2 854.4 255.8 852.9 250.2C851.3 244.6 851.3 236.7 851.3 230.3C851.3 223.9 851.3 216 852.9 211.9Z" fill="none" stroke="#48a79b" stroke-width="6" mask="url(#mL)"/>
<path d="M852.9 230.3C854.6 226.2 860.5 226.2 866.6 227.2C872.8 228.3 882.5 232.9 889.6 236.4C896.8 240 904.2 243.6 909.5 248.7C914.9 253.8 920.8 261.5 921.8 267.1C922.8 272.7 919.8 278.8 915.7 282.4C911.6 286 902.9 288.5 897.3 288.5C891.7 288.5 887.1 286 882 282.4C876.9 278.8 871 272.2 866.6 267.1C862.3 262 858.2 257.9 855.9 251.8C853.6 245.6 851.1 234.4 852.9 230.3Z" fill="#48a79b" mask="url(#mM)"/>
<path d="M852.9 230.3C854.6 226.2 860.5 226.2 866.6 227.2C872.8 228.3 882.5 232.9 889.6 236.4C896.8 240 904.2 243.6 909.5 248.7C914.9 253.8 920.8 261.5 921.8 267.1C922.8 272.7 919.8 278.8 915.7 282.4C911.6 286 902.9 288.5 897.3 288.5C891.7 288.5 887.1 286 882 282.4C876.9 278.8 871 272.2 866.6 267.1C862.3 262 858.2 257.9 855.9 251.8C853.6 245.6 851.1 234.4 852.9 230.3Z" fill="none" stroke="#48a79b" stroke-width="6" mask="url(#mV)"/>
<path d="M849.8 187.4C851.6 183.5 855.2 183.1 859 182.1C862.8 181 868.2 181.7 872.8 181.3C877.4 180.9 882 179.2 886.6 179.8C891.2 180.3 897.5 182.1 900.3 184.3C903.2 186.6 904.4 191 903.4 193.5C902.4 196.1 897.8 198.4 894.2 199.7C890.6 200.9 885.8 200.2 882 201.2C878.1 202.2 873.8 202.7 871.2 205.8C868.7 208.9 868.4 216 866.6 219.6C864.9 223.2 862.8 227 860.5 227.2C858.2 227.5 854.9 224.7 852.9 221.1C850.8 217.5 848.8 211.4 848.3 205.8C847.7 200.2 848 191.4 849.8 187.4Z" fill="#eef830" mask="url(#mD)"/>
<path d="M849.8 187.4C851.6 183.5 855.2 183.1 859 182.1C862.8 181 868.2 181.7 872.8 181.3C877.4 180.9 882 179.2 886.6 179.8C891.2 180.3 897.5 182.1 900.3 184.3C903.2 186.6 904.4 191 903.4 193.5C902.4 196.1 897.8 198.4 894.2 199.7C890.6 200.9 885.8 200.2 882 201.2C878.1 202.2 873.8 202.7 871.2 205.8C868.7 208.9 868.4 216 866.6 219.6C864.9 223.2 862.8 227 860.5 227.2C858.2 227.5 854.9 224.7 852.9 221.1C850.8 217.5 848.8 211.4 848.3 205.8C847.7 200.2 848 191.4 849.8 187.4Z" fill="none" stroke="#eef830" stroke-width="6" mask="url(#mL)"/>
<path d="M882 156.8C882.5 155.5 886.3 152.7 888.1 150.6C889.9 148.6 892.2 144 892.7 144.5C893.2 145 892.4 151.4 891.2 153.7C889.9 156 886.6 157.8 885 158.3C883.5 158.8 881.5 158 882 156.8Z" fill="#eef830" mask="url(#mW)"/>
<path d="M895.8 190.5C897.8 188.9 902.1 186.4 906.5 187.4C910.8 188.4 916.9 193.5 921.8 196.6C926.7 199.7 930.7 203.2 935.6 205.8C940.4 208.4 946.3 209.9 950.9 211.9C955.5 214 959.8 215.5 963.2 218.1C966.5 220.6 969.5 223.9 970.8 227.2C972.1 230.6 972.4 235.7 970.8 238C969.3 240.3 965.7 240.8 961.6 241C957.5 241.3 951.2 240.3 946.3 239.5C941.5 238.7 936.6 238 932.5 236.4C928.4 234.9 925.9 233.4 921.8 230.3C917.7 227.2 912.1 222.1 908 218.1C903.9 214 899.6 209.4 897.3 205.8C895 202.2 894.5 199.2 894.2 196.6C894 194.1 893.7 192 895.8 190.5Z" fill="#3d6c12" mask="url(#mM)"/>
<path d="M895.8 190.5C897.8 188.9 902.1 186.4 906.5 187.4C910.8 188.4 916.9 193.5 921.8 196.6C926.7 199.7 930.7 203.2 935.6 205.8C940.4 208.4 946.3 209.9 950.9 211.9C955.5 214 959.8 215.5 963.2 218.1C966.5 220.6 969.5 223.9 970.8 227.2C972.1 230.6 972.4 235.7 970.8 238C969.3 240.3 965.7 240.8 961.6 241C957.5 241.3 951.2 240.3 946.3 239.5C941.5 238.7 936.6 238 932.5 236.4C928.4 234.9 925.9 233.4 921.8 230.3C917.7 227.2 912.1 222.1 908 218.1C903.9 214 899.6 209.4 897.3 205.8C895 202.2 894.5 199.2 894.2 196.6C894 194.1 893.7 192 895.8 190.5Z" fill="none" stroke="#3d6c12" stroke-width="6" mask="url(#mV)"/>
<path d="M970.8 185.9C973.1 182.3 979.8 184.1 983.1 184.3C986.4 184.6 988.7 184.9 990.7 187.4C992.8 190 994.6 194.6 995.3 199.7C996.1 204.8 996.1 212.4 995.3 218.1C994.6 223.7 992.8 229.3 990.7 233.4C988.7 237.5 985.9 239.2 983.1 242.6C980.3 245.9 976.4 251.3 973.9 253.3C971.3 255.3 968.8 256.6 967.8 254.8C966.7 253 967.3 247.2 967.8 242.6C968.3 238 970.6 233.4 970.8 227.2C971.1 221.1 969.3 212.7 969.3 205.8C969.3 198.9 968.5 189.5 970.8 185.9Z" fill="#7cf23a" mask="url(#mM)"/>
<path d="M970.8 185.9C973.1 182.3 979.8 184.1 983.1 184.3C986.4 184.6 988.7 184.9 990.7 187.4C992.8 190 994.6 194.6 995.3 199.7C996.1 204.8 996.1 212.4 995.3 218.1C994.6 223.7 992.8 229.3 990.7 233.4C988.7 237.5 985.9 239.2 983.1 242.6C980.3 245.9 976.4 251.3 973.9 253.3C971.3 255.3 968.8 256.6 967.8 254.8C966.7 253 967.3 247.2 967.8 242.6C968.3 238 970.6 233.4 970.8 227.2C971.1 221.1 969.3 212.7 969.3 205.8C969.3 198.9 968.5 189.5 970.8 185.9Z" fill="none" stroke="#7cf23a" stroke-width="6" mask="url(#mV)"/>
<path d="M1012.2 147.6C1019.3 139.4 1052.3 139.4 1062.8 147.6C1073.2 155.7 1073.2 182.1 1075 196.6C1076.8 211.2 1077.6 229.8 1073.5 234.9C1069.4 240 1059.4 233.6 1050.5 227.2C1041.6 220.9 1026.2 209.9 1019.9 196.6C1013.5 183.3 1005 155.7 1012.2 147.6Z" fill="#e89b3e" mask="url(#mX)"/>
<path d="M891.2 144.5C892.7 142.5 896.3 138.9 903.4 144.5C910.6 150.1 931 171.6 934.1 178.2C937.1 184.9 928.4 187.9 921.8 184.3C915.2 180.8 899.3 163.4 894.2 156.8C889.1 150.1 889.6 146.6 891.2 144.5Z" fill="#a222f0" mask="url(#mW)"/>
<text x="974.1" y="90" font-size="25.5" fill="#000" text-anchor="middle" stroke="#000" stroke-width="0.55">Nasal</text>
<path d="M149.4 462V742M243.8 462V742M337.6 462V742M107.7 496.8H391.5M107.7 547.7H391.5M107.7 599.5H391.5M107.7 650.4H391.5M107.7 702.4H391.5" stroke="#c9c9c9" stroke-width="1.1" fill="none"/>
<path d="M99.5 496.7H107.1M99.5 548.1H107.1M99.5 599.5H107.1M99.5 650.9H107.1M99.5 702.3H107.1M149.8 745.5V752.3M243.8 745.5V752.3M337.8 745.5V752.3" stroke="#111" stroke-width="2" fill="none"/>
<path d="M103.4 465.9H107.1M103.4 476.1H107.1M103.4 486.4H107.1M103.4 507H107.1M103.4 517.3H107.1M103.4 527.5H107.1M103.4 537.8H107.1M103.4 558.4H107.1M103.4 568.7H107.1M103.4 578.9H107.1M103.4 589.2H107.1M103.4 609.8H107.1M103.4 620.1H107.1M103.4 630.3H107.1M103.4 640.6H107.1M103.4 661.2H107.1M103.4 671.5H107.1M103.4 681.7H107.1M103.4 692H107.1M173.3 745.5V749.1M196.8 745.5V749.1M220.3 745.5V749.1M267.3 745.5V749.1M290.8 745.5V749.1M314.3 745.5V749.1M361.3 745.5V749.1M384.8 745.5V749.1" stroke="#222" stroke-width="1.2" fill="none"/>
<g font-size="11.5" fill="#1a1a1a" stroke="#1a1a1a" stroke-width="0.3" text-anchor="end">
<text x="94" y="499.8">10</text>
<text x="94" y="550.7">5.0</text>
<text x="94" y="602.5">0</text>
<text x="94" y="653.4">5.0</text>
<text x="94" y="705.4">−9</text>
</g><g font-size="11.5" fill="#1a1a1a" stroke="#1a1a1a" stroke-width="0.3" text-anchor="middle">
<text x="149.4" y="764.5">−9</text>
<text x="243.8" y="764.5">0</text>
<text x="337.6" y="764.5">10</text>
</g>
<path d="M279.3 549.3C280.9 547.2 285 549.5 288.5 549.3C292.1 549 295.9 545.7 300.8 547.8C305.6 549.8 312 559.2 317.6 561.5C323.3 563.8 327.6 561.3 334.5 561.5C341.4 561.8 355.4 559.2 359 563.1C362.6 566.9 357.2 577.1 355.9 584.5C354.7 591.9 352.6 599.6 351.3 607.5C350.1 615.4 348.5 624.4 348.3 632C348 639.7 349.6 646.6 349.8 653.5C350.1 660.4 350.6 667 349.8 673.4C349.1 679.8 348.3 686.7 345.2 691.8C342.2 696.9 337 701.5 331.4 704C325.8 706.6 317.4 707.9 311.5 707.1C305.6 706.3 302.6 702.7 296.2 699.4C289.8 696.1 280.1 690.2 273.2 687.2C266.3 684.1 260.4 683.6 254.8 681C249.2 678.5 243.1 675.7 239.5 671.9C235.9 668 233.9 661.9 233.4 658.1C232.9 654.2 234.9 652.2 236.4 648.9C238 645.6 241 642.5 242.6 638.1C244.1 633.8 244.9 629.2 245.6 622.8C246.4 616.4 246.1 607.5 247.2 599.8C248.2 592.2 248.7 582.2 251.8 576.9C254.8 571.5 261 570.2 265.6 567.7C270.1 565.1 277 564.6 279.3 561.5C281.6 558.5 277.8 551.3 279.3 549.3Z" fill="#fd2424" mask="url(#mL)"/>
<path d="M279.3 549.3C280.9 547.2 285 549.5 288.5 549.3C292.1 549 295.9 545.7 300.8 547.8C305.6 549.8 312 559.2 317.6 561.5C323.3 563.8 327.6 561.3 334.5 561.5C341.4 561.8 355.4 559.2 359 563.1C362.6 566.9 357.2 577.1 355.9 584.5C354.7 591.9 352.6 599.6 351.3 607.5C350.1 615.4 348.5 624.4 348.3 632C348 639.7 349.6 646.6 349.8 653.5C350.1 660.4 350.6 667 349.8 673.4C349.1 679.8 348.3 686.7 345.2 691.8C342.2 696.9 337 701.5 331.4 704C325.8 706.6 317.4 707.9 311.5 707.1C305.6 706.3 302.6 702.7 296.2 699.4C289.8 696.1 280.1 690.2 273.2 687.2C266.3 684.1 260.4 683.6 254.8 681C249.2 678.5 243.1 675.7 239.5 671.9C235.9 668 233.9 661.9 233.4 658.1C232.9 654.2 234.9 652.2 236.4 648.9C238 645.6 241 642.5 242.6 638.1C244.1 633.8 244.9 629.2 245.6 622.8C246.4 616.4 246.1 607.5 247.2 599.8C248.2 592.2 248.7 582.2 251.8 576.9C254.8 571.5 261 570.2 265.6 567.7C270.1 565.1 277 564.6 279.3 561.5C281.6 558.5 277.8 551.3 279.3 549.3Z" fill="none" stroke="#fd2424" stroke-width="6" mask="url(#mV)"/>
<path d="M279.3 552.3C280.9 549 287.5 548.8 291.6 550.8C295.7 552.9 301.3 559.8 303.9 564.6C306.4 569.5 308.2 576.9 306.9 579.9C305.6 583 300.3 584.5 296.2 583C292.1 581.5 285.2 575.8 282.4 570.7C279.6 565.6 277.8 555.7 279.3 552.3Z" fill="#fd2424" mask="url(#mM)"/>
<path d="M279.3 552.3C280.9 549 287.5 548.8 291.6 550.8C295.7 552.9 301.3 559.8 303.9 564.6C306.4 569.5 308.2 576.9 306.9 579.9C305.6 583 300.3 584.5 296.2 583C292.1 581.5 285.2 575.8 282.4 570.7C279.6 565.6 277.8 555.7 279.3 552.3Z" fill="none" stroke="#fd2424" stroke-width="6" mask="url(#mV)"/>
<path d="M245.6 647.3C247.7 644.3 253.8 641.2 257.9 641.2C262 641.2 268.6 643.8 270.1 647.3C271.7 650.9 269.6 659.3 267.1 662.7C264.5 666 258.4 667.8 254.8 667.3C251.3 666.7 247.2 662.9 245.6 659.6C244.1 656.3 243.6 650.4 245.6 647.3Z" fill="#fd2424" mask="url(#mM)"/>
<path d="M245.6 647.3C247.7 644.3 253.8 641.2 257.9 641.2C262 641.2 268.6 643.8 270.1 647.3C271.7 650.9 269.6 659.3 267.1 662.7C264.5 666 258.4 667.8 254.8 667.3C251.3 666.7 247.2 662.9 245.6 659.6C244.1 656.3 243.6 650.4 245.6 647.3Z" fill="none" stroke="#fd2424" stroke-width="6" mask="url(#mV)"/>
<path d="M340.6 607.5C342.4 600.4 349.8 599.8 351.3 607.5C352.9 615.2 351.6 646.3 349.8 653.5C348 660.6 342.2 658.1 340.6 650.4C339.1 642.7 338.8 614.7 340.6 607.5Z" fill="#fd2424" mask="url(#mM)"/>
<path d="M340.6 607.5C342.4 600.4 349.8 599.8 351.3 607.5C352.9 615.2 351.6 646.3 349.8 653.5C348 660.6 342.2 658.1 340.6 650.4C339.1 642.7 338.8 614.7 340.6 607.5Z" fill="none" stroke="#fd2424" stroke-width="6" mask="url(#mV)"/>
<path d="M221.1 592.2C226 588.4 243.1 594.7 247.2 599.8C251.3 604.9 246.4 616.4 245.6 622.8C244.9 629.2 245.6 635.6 242.6 638.1C239.5 640.7 231.3 640.7 227.2 638.1C223.2 635.6 219.1 630.5 218.1 622.8C217 615.2 216.3 596 221.1 592.2Z" fill="#fd2424" mask="url(#mV)"/>
<path d="M141.4 555.4C144.5 548.3 151.7 550 158.3 549.3C164.9 548.5 175.4 549.8 181.3 550.8C187.2 551.8 190.5 552.1 193.5 555.4C196.6 558.7 196.6 566.1 199.7 570.7C202.7 575.3 207.8 579.4 211.9 583C216 586.6 222.1 588.1 224.2 592.2C226.2 596.3 225.2 602.4 224.2 607.5C223.2 612.6 221.1 618.7 218.1 622.8C215 626.9 211.4 631.3 205.8 632C200.2 632.8 191 630 184.3 627.4C177.7 624.9 171.6 620.5 166 616.7C160.3 612.9 155 608.5 150.6 604.4C146.3 600.4 141.4 600.4 139.9 592.2C138.4 584 138.4 562.6 141.4 555.4Z" fill="#48a79b" mask="url(#mK)"/>
<path d="M149.1 570.7C152.2 567.2 159.3 565.1 166 564.6C172.6 564.1 182.3 565.1 188.9 567.7C195.6 570.2 201.5 575.3 205.8 579.9C210.1 584.5 214 589.6 215 595.2C216 600.9 215.5 610.1 211.9 613.6C208.4 617.2 200.4 617.2 193.5 616.7C186.6 616.2 177.2 613.1 170.6 610.6C163.9 608 157.5 605.5 153.7 601.4C149.9 597.3 148.3 591.2 147.6 586.1C146.8 580.9 146 574.3 149.1 570.7Z" fill="#48a79b" mask="url(#mL)"/>
<path d="M149.1 570.7C152.2 567.2 159.3 565.1 166 564.6C172.6 564.1 182.3 565.1 188.9 567.7C195.6 570.2 201.5 575.3 205.8 579.9C210.1 584.5 214 589.6 215 595.2C216 600.9 215.5 610.1 211.9 613.6C208.4 617.2 200.4 617.2 193.5 616.7C186.6 616.2 177.2 613.1 170.6 610.6C163.9 608 157.5 605.5 153.7 601.4C149.9 597.3 148.3 591.2 147.6 586.1C146.8 580.9 146 574.3 149.1 570.7Z" fill="none" stroke="#48a79b" stroke-width="6" mask="url(#mV)"/>
<path d="M158.3 521.7C160.9 518.6 166.7 519.4 170.6 520.2C174.4 520.9 178.7 523.7 181.3 526.3C183.8 528.9 185.4 532.2 185.9 535.5C186.4 538.8 185.6 543.4 184.3 546.2C183.1 549 181.3 550.8 178.2 552.3C175.2 553.9 169 555.9 166 555.4C162.9 554.9 161.6 552.1 159.8 549.3C158 546.5 155.5 543.2 155.2 538.6C155 534 155.7 524.8 158.3 521.7Z" fill="#eef830" mask="url(#mM)"/>
<path d="M158.3 521.7C160.9 518.6 166.7 519.4 170.6 520.2C174.4 520.9 178.7 523.7 181.3 526.3C183.8 528.9 185.4 532.2 185.9 535.5C186.4 538.8 185.6 543.4 184.3 546.2C183.1 549 181.3 550.8 178.2 552.3C175.2 553.9 169 555.9 166 555.4C162.9 554.9 161.6 552.1 159.8 549.3C158 546.5 155.5 543.2 155.2 538.6C155 534 155.7 524.8 158.3 521.7Z" fill="none" stroke="#eef830" stroke-width="6" mask="url(#mV)"/>
<path d="M133.8 534C135.6 531.9 142.5 529.4 144.5 530.9C146.6 532.4 147.1 540.1 146 543.2C145 546.2 140.4 549.3 138.4 549.3C136.3 549.3 134.6 545.7 133.8 543.2C133 540.6 132 536 133.8 534Z" fill="#eef830" mask="url(#mL)"/>
<path d="M133.8 534C135.6 531.9 142.5 529.4 144.5 530.9C146.6 532.4 147.1 540.1 146 543.2C145 546.2 140.4 549.3 138.4 549.3C136.3 549.3 134.6 545.7 133.8 543.2C133 540.6 132 536 133.8 534Z" fill="none" stroke="#eef830" stroke-width="6" mask="url(#mV)"/>
<path d="M176.7 500.3C177.2 499.2 184.3 501.8 188.9 501.8C193.5 501.8 199.9 499.5 204.3 500.3C208.6 501 212.2 504.3 215 506.4C217.8 508.4 220.6 510 221.1 512.5C221.6 515.1 219.1 518.6 218.1 521.7C217 524.8 216 527.6 215 530.9C214 534.2 213.7 539.1 211.9 541.6C210.1 544.2 207.3 545.5 204.3 546.2C201.2 547 196.4 547.5 193.5 546.2C190.7 544.9 188.7 541.6 187.4 538.6C186.1 535.5 185.6 531.7 185.9 527.8C186.1 524 188.9 518.9 188.9 515.6C188.9 512.3 187.9 510.5 185.9 507.9C183.8 505.4 176.2 501.3 176.7 500.3Z" fill="#a222f0" mask="url(#mM)"/>
<path d="M176.7 500.3C177.2 499.2 184.3 501.8 188.9 501.8C193.5 501.8 199.9 499.5 204.3 500.3C208.6 501 212.2 504.3 215 506.4C217.8 508.4 220.6 510 221.1 512.5C221.6 515.1 219.1 518.6 218.1 521.7C217 524.8 216 527.6 215 530.9C214 534.2 213.7 539.1 211.9 541.6C210.1 544.2 207.3 545.5 204.3 546.2C201.2 547 196.4 547.5 193.5 546.2C190.7 544.9 188.7 541.6 187.4 538.6C186.1 535.5 185.6 531.7 185.9 527.8C186.1 524 188.9 518.9 188.9 515.6C188.9 512.3 187.9 510.5 185.9 507.9C183.8 505.4 176.2 501.3 176.7 500.3Z" fill="none" stroke="#a222f0" stroke-width="6" mask="url(#mV)"/>
<path d="M174.4 492.6C174.6 490.6 176.6 489.3 178.2 488C179.9 486.7 181.5 485.2 184.3 484.9C187.2 484.7 192.3 485.2 195.1 486.5C197.9 487.7 199.7 490.3 201.2 492.6C202.7 494.9 205 498.2 204.3 500.3C203.5 502.3 199.9 504.3 196.6 504.9C193.3 505.4 187.7 504.1 184.3 503.3C181 502.6 178.3 502 176.7 500.3C175 498.5 174.1 494.6 174.4 492.6Z" fill="#a222f0" mask="url(#mD)"/>
<path d="M174.4 492.6C174.6 490.6 176.6 489.3 178.2 488C179.9 486.7 181.5 485.2 184.3 484.9C187.2 484.7 192.3 485.2 195.1 486.5C197.9 487.7 199.7 490.3 201.2 492.6C202.7 494.9 205 498.2 204.3 500.3C203.5 502.3 199.9 504.3 196.6 504.9C193.3 505.4 187.7 504.1 184.3 503.3C181 502.6 178.3 502 176.7 500.3C175 498.5 174.1 494.6 174.4 492.6Z" fill="none" stroke="#a222f0" stroke-width="6" mask="url(#mL)"/>
<path d="M205.8 537C209.4 533.5 214.5 529.4 218.1 527.8C221.6 526.3 223.7 526.8 227.2 527.8C230.8 528.9 235.7 531.9 239.5 534C243.3 536 248.4 537.3 250.2 540.1C252 542.9 251.8 548.3 250.2 550.8C248.7 553.4 243.3 552.6 241 555.4C238.7 558.2 237.2 563.6 236.4 567.7C235.7 571.8 238 576.9 236.4 579.9C234.9 583 230.8 586.1 227.2 586.1C223.7 586.1 219.3 582 215 579.9C210.7 577.9 204.8 576.9 201.2 573.8C197.6 570.7 194.3 565.6 193.5 561.5C192.8 557.5 194.6 553.4 196.6 549.3C198.6 545.2 202.2 540.6 205.8 537Z" fill="#3d6c12" mask="url(#mM)"/>
<path d="M205.8 537C209.4 533.5 214.5 529.4 218.1 527.8C221.6 526.3 223.7 526.8 227.2 527.8C230.8 528.9 235.7 531.9 239.5 534C243.3 536 248.4 537.3 250.2 540.1C252 542.9 251.8 548.3 250.2 550.8C248.7 553.4 243.3 552.6 241 555.4C238.7 558.2 237.2 563.6 236.4 567.7C235.7 571.8 238 576.9 236.4 579.9C234.9 583 230.8 586.1 227.2 586.1C223.7 586.1 219.3 582 215 579.9C210.7 577.9 204.8 576.9 201.2 573.8C197.6 570.7 194.3 565.6 193.5 561.5C192.8 557.5 194.6 553.4 196.6 549.3C198.6 545.2 202.2 540.6 205.8 537Z" fill="none" stroke="#3d6c12" stroke-width="6" mask="url(#mV)"/>
<path d="M218.1 530.9C218.6 528.6 226.2 528.6 230.3 529.4C234.4 530.1 239.2 533.5 242.6 535.5C245.9 537.5 249.2 539.1 250.2 541.6C251.3 544.2 250.5 549 248.7 550.8C246.9 552.6 243.1 553.6 239.5 552.3C235.9 551.1 230.8 546.7 227.2 543.2C223.7 539.6 217.5 533.2 218.1 530.9Z" fill="#3d6c12" mask="url(#mL)"/>
<path d="M218.1 530.9C218.6 528.6 226.2 528.6 230.3 529.4C234.4 530.1 239.2 533.5 242.6 535.5C245.9 537.5 249.2 539.1 250.2 541.6C251.3 544.2 250.5 549 248.7 550.8C246.9 552.6 243.1 553.6 239.5 552.3C235.9 551.1 230.8 546.7 227.2 543.2C223.7 539.6 217.5 533.2 218.1 530.9Z" fill="none" stroke="#3d6c12" stroke-width="6" mask="url(#mV)"/>
<path d="M254.8 534C255.8 531.2 257.6 530.4 261 529.4C264.3 528.3 271.9 526.3 274.7 527.8C277.6 529.4 277 535 277.8 538.6C278.6 542.1 279.6 545.5 279.3 549.3C279.1 553.1 277.8 556.9 276.3 561.5C274.7 566.1 271.7 571.8 270.1 576.9C268.6 582 268.6 588.4 267.1 592.2C265.6 596 263 599.8 261 599.8C258.9 599.8 255.8 596 254.8 592.2C253.8 588.4 254.6 582 254.8 576.9C255.1 571.8 256.4 566.6 256.4 561.5C256.4 556.4 255.1 550.8 254.8 546.2C254.6 541.6 253.8 536.8 254.8 534Z" fill="#7cf23a" mask="url(#mM)"/>
<path d="M254.8 534C255.8 531.2 257.6 530.4 261 529.4C264.3 528.3 271.9 526.3 274.7 527.8C277.6 529.4 277 535 277.8 538.6C278.6 542.1 279.6 545.5 279.3 549.3C279.1 553.1 277.8 556.9 276.3 561.5C274.7 566.1 271.7 571.8 270.1 576.9C268.6 582 268.6 588.4 267.1 592.2C265.6 596 263 599.8 261 599.8C258.9 599.8 255.8 596 254.8 592.2C253.8 588.4 254.6 582 254.8 576.9C255.1 571.8 256.4 566.6 256.4 561.5C256.4 556.4 255.1 550.8 254.8 546.2C254.6 541.6 253.8 536.8 254.8 534Z" fill="none" stroke="#7cf23a" stroke-width="6" mask="url(#mV)"/>
<path d="M264 541.6C266.1 539.6 275.5 539.8 277.8 541.6C280.1 543.4 279.9 550.3 277.8 552.3C275.8 554.4 267.8 555.7 265.6 553.9C263.3 552.1 262 543.7 264 541.6Z" fill="#7cf23a" mask="url(#mD)"/>
<path d="M264 541.6C266.1 539.6 275.5 539.8 277.8 541.6C280.1 543.4 279.9 550.3 277.8 552.3C275.8 554.4 267.8 555.7 265.6 553.9C263.3 552.1 262 543.7 264 541.6Z" fill="none" stroke="#7cf23a" stroke-width="6" mask="url(#mL)"/>
<path d="M261 524.8C260.7 522.2 263.9 515.2 265.6 512.5C267.2 509.8 269.6 508.4 270.9 508.7C272.2 508.9 273.1 511.9 273.2 514C273.3 516.2 272.7 519.4 271.7 521.7C270.7 524 268.9 527.3 267.1 527.8C265.3 528.3 261.2 527.3 261 524.8Z" fill="#c39595" mask="url(#mM)"/>
<path d="M261 524.8C260.7 522.2 263.9 515.2 265.6 512.5C267.2 509.8 269.6 508.4 270.9 508.7C272.2 508.9 273.1 511.9 273.2 514C273.3 516.2 272.7 519.4 271.7 521.7C270.7 524 268.9 527.3 267.1 527.8C265.3 528.3 261.2 527.3 261 524.8Z" fill="none" stroke="#c39595" stroke-width="6" mask="url(#mV)"/>
<path d="M297.7 540.1C297.7 535.7 301.3 529.1 303.9 523.2C306.4 517.4 309.5 509.4 313 504.9C316.6 500.3 320.5 496.9 325.3 495.7C330.2 494.4 337.6 494.9 342.2 497.2C346.8 499.5 350.1 505.1 352.9 509.4C355.7 513.8 356.7 519.7 359 523.2C361.3 526.8 365.4 527.6 366.7 530.9C367.9 534.2 367.2 539.1 366.7 543.2C366.2 547.2 364.9 552.3 363.6 555.4C362.3 558.5 361.3 561 359 561.5C356.7 562.1 353.9 559.5 349.8 558.5C345.7 557.5 339.1 555.4 334.5 555.4C329.9 555.4 325.8 559 322.2 558.5C318.7 558 316.1 553.9 313 552.3C310 550.8 306.4 551.3 303.9 549.3C301.3 547.2 297.7 544.4 297.7 540.1Z" fill="#e89b3e" mask="url(#mL)"/>
<path d="M297.7 540.1C297.7 535.7 301.3 529.1 303.9 523.2C306.4 517.4 309.5 509.4 313 504.9C316.6 500.3 320.5 496.9 325.3 495.7C330.2 494.4 337.6 494.9 342.2 497.2C346.8 499.5 350.1 505.1 352.9 509.4C355.7 513.8 356.7 519.7 359 523.2C361.3 526.8 365.4 527.6 366.7 530.9C367.9 534.2 367.2 539.1 366.7 543.2C366.2 547.2 364.9 552.3 363.6 555.4C362.3 558.5 361.3 561 359 561.5C356.7 562.1 353.9 559.5 349.8 558.5C345.7 557.5 339.1 555.4 334.5 555.4C329.9 555.4 325.8 559 322.2 558.5C318.7 558 316.1 553.9 313 552.3C310 550.8 306.4 551.3 303.9 549.3C301.3 547.2 297.7 544.4 297.7 540.1Z" fill="none" stroke="#e89b3e" stroke-width="6" mask="url(#mV)"/>
<path d="M340.6 527.8C343.2 523.5 354.7 522.2 359 523.2C363.4 524.3 365.6 529.1 366.7 534C367.7 538.8 366.4 548.3 365.1 552.3C363.9 556.4 362.6 559 359 558.5C355.4 558 346.8 554.4 343.7 549.3C340.6 544.2 338.1 532.2 340.6 527.8Z" fill="#e89b3e" mask="url(#mD)"/>
<path d="M340.6 527.8C343.2 523.5 354.7 522.2 359 523.2C363.4 524.3 365.6 529.1 366.7 534C367.7 538.8 366.4 548.3 365.1 552.3C363.9 556.4 362.6 559 359 558.5C355.4 558 346.8 554.4 343.7 549.3C340.6 544.2 338.1 532.2 340.6 527.8Z" fill="none" stroke="#e89b3e" stroke-width="6" mask="url(#mL)"/>
<text x="245.8" y="459.8" font-size="25.5" fill="#000" text-anchor="middle" stroke="#000" stroke-width="0.55">HIV-</text>
<path d="M506.6 462V742M601 462V742M694.8 462V742M464.9 496.8H748.7M464.9 547.7H748.7M464.9 599.5H748.7M464.9 650.4H748.7M464.9 702.4H748.7" stroke="#c9c9c9" stroke-width="1.1" fill="none"/>
<path d="M456.7 496.7H464.3M456.7 548.1H464.3M456.7 599.5H464.3M456.7 650.9H464.3M456.7 702.3H464.3M507 745.5V752.3M601 745.5V752.3M695 745.5V752.3" stroke="#111" stroke-width="2" fill="none"/>
<path d="M460.6 465.9H464.3M460.6 476.1H464.3M460.6 486.4H464.3M460.6 507H464.3M460.6 517.3H464.3M460.6 527.5H464.3M460.6 537.8H464.3M460.6 558.4H464.3M460.6 568.7H464.3M460.6 578.9H464.3M460.6 589.2H464.3M460.6 609.8H464.3M460.6 620.1H464.3M460.6 630.3H464.3M460.6 640.6H464.3M460.6 661.2H464.3M460.6 671.5H464.3M460.6 681.7H464.3M460.6 692H464.3M530.5 745.5V749.1M554 745.5V749.1M577.5 745.5V749.1M624.5 745.5V749.1M648 745.5V749.1M671.5 745.5V749.1M718.5 745.5V749.1M742 745.5V749.1" stroke="#222" stroke-width="1.2" fill="none"/>
<g font-size="11.5" fill="#1a1a1a" stroke="#1a1a1a" stroke-width="0.3" text-anchor="end">
<text x="451.2" y="499.8">10</text>
<text x="451.2" y="550.7">5.0</text>
<text x="451.2" y="602.5">0</text>
<text x="451.2" y="653.4">−5.0</text>
<text x="451.2" y="705.4">−9</text>
</g><g font-size="11.5" fill="#1a1a1a" stroke="#1a1a1a" stroke-width="0.3" text-anchor="middle">
<text x="506.6" y="764.5">−9</text>
<text x="601" y="764.5">0</text>
<text x="694.8" y="764.5">10</text>
</g>
<path d="M638.9 547.1C641.7 544.1 648.8 547.4 654.2 548.7C659.6 549.9 665.4 551.7 671 554.8C676.7 557.9 682.5 565.5 687.9 567.1C693.3 568.6 698.9 564.5 703.2 564C707.6 563.5 712.7 560.4 713.9 564C715.2 567.6 712.2 578.3 710.9 585.4C709.6 592.6 707.3 599.5 706.3 606.9C705.3 614.3 704.5 622.2 704.8 629.9C705 637.5 707.3 645.7 707.8 652.9C708.3 660 709.1 666.4 707.8 672.8C706.5 679.2 704 686.3 700.2 691.2C696.3 696 691.2 699.6 684.8 701.9C678.5 704.2 668.2 705.5 661.9 704.9C655.5 704.4 652.7 700.9 646.5 698.8C640.4 696.8 631.5 695.2 625.1 692.7C618.7 690.1 613.3 687.1 608.2 683.5C603.1 679.9 597.8 675.8 594.4 671.2C591.1 666.6 589.1 660.3 588.3 655.9C587.5 651.6 591.4 649.3 589.8 645.2C588.3 641.1 580.9 635.2 579.1 631.4C577.3 627.6 578.1 626.3 579.1 622.2C580.1 618.1 583.7 610.7 585.2 606.9C586.8 603.1 585.8 601.8 588.3 599.2C590.9 596.7 596 593.9 600.6 591.6C605.2 589.3 610.8 587.5 615.9 585.4C621 583.4 627.6 582.4 631.2 579.3C634.8 576.2 636.1 572.4 637.3 567.1C638.6 561.7 636.1 550.2 638.9 547.1Z" fill="#fd2424" mask="url(#mL)"/>
<path d="M638.9 547.1C641.7 544.1 648.8 547.4 654.2 548.7C659.6 549.9 665.4 551.7 671 554.8C676.7 557.9 682.5 565.5 687.9 567.1C693.3 568.6 698.9 564.5 703.2 564C707.6 563.5 712.7 560.4 713.9 564C715.2 567.6 712.2 578.3 710.9 585.4C709.6 592.6 707.3 599.5 706.3 606.9C705.3 614.3 704.5 622.2 704.8 629.9C705 637.5 707.3 645.7 707.8 652.9C708.3 660 709.1 666.4 707.8 672.8C706.5 679.2 704 686.3 700.2 691.2C696.3 696 691.2 699.6 684.8 701.9C678.5 704.2 668.2 705.5 661.9 704.9C655.5 704.4 652.7 700.9 646.5 698.8C640.4 696.8 631.5 695.2 625.1 692.7C618.7 690.1 613.3 687.1 608.2 683.5C603.1 679.9 597.8 675.8 594.4 671.2C591.1 666.6 589.1 660.3 588.3 655.9C587.5 651.6 591.4 649.3 589.8 645.2C588.3 641.1 580.9 635.2 579.1 631.4C577.3 627.6 578.1 626.3 579.1 622.2C580.1 618.1 583.7 610.7 585.2 606.9C586.8 603.1 585.8 601.8 588.3 599.2C590.9 596.7 596 593.9 600.6 591.6C605.2 589.3 610.8 587.5 615.9 585.4C621 583.4 627.6 582.4 631.2 579.3C634.8 576.2 636.1 572.4 637.3 567.1C638.6 561.7 636.1 550.2 638.9 547.1Z" fill="none" stroke="#fd2424" stroke-width="6" mask="url(#mV)"/>
<path d="M600.6 652.9C603.6 649 610.8 643.9 615.9 645.2C621 646.5 628.1 654.1 631.2 660.5C634.3 666.9 635.3 678.1 634.3 683.5C633.3 688.9 629.4 692.7 625.1 692.7C620.7 692.7 612.8 687.6 608.2 683.5C603.6 679.4 598.8 673.3 597.5 668.2C596.2 663.1 597.5 656.7 600.6 652.9Z" fill="#fd2424" mask="url(#mM)"/>
<path d="M600.6 652.9C603.6 649 610.8 643.9 615.9 645.2C621 646.5 628.1 654.1 631.2 660.5C634.3 666.9 635.3 678.1 634.3 683.5C633.3 688.9 629.4 692.7 625.1 692.7C620.7 692.7 612.8 687.6 608.2 683.5C603.6 679.4 598.8 673.3 597.5 668.2C596.2 663.1 597.5 656.7 600.6 652.9Z" fill="none" stroke="#fd2424" stroke-width="6" mask="url(#mV)"/>
<path d="M579.1 606.9C580.7 603.1 584.7 599.2 588.3 599.2C591.9 599.2 599 603.1 600.6 606.9C602.1 610.7 600.1 618.4 597.5 622.2C595 626 588.3 629.9 585.2 629.9C582.2 629.9 580.1 626 579.1 622.2C578.1 618.4 577.6 610.7 579.1 606.9Z" fill="#fd2424" mask="url(#mM)"/>
<path d="M579.1 606.9C580.7 603.1 584.7 599.2 588.3 599.2C591.9 599.2 599 603.1 600.6 606.9C602.1 610.7 600.1 618.4 597.5 622.2C595 626 588.3 629.9 585.2 629.9C582.2 629.9 580.1 626 579.1 622.2C578.1 618.4 577.6 610.7 579.1 606.9Z" fill="none" stroke="#fd2424" stroke-width="6" mask="url(#mV)"/>
<path d="M695.6 564C698.1 559.4 711.4 559.4 713.9 564C716.5 568.6 713.4 587 710.9 591.6C708.3 596.2 701.2 596.2 698.6 591.6C696.1 587 693 568.6 695.6 564Z" fill="#fd2424" mask="url(#mM)"/>
<path d="M695.6 564C698.1 559.4 711.4 559.4 713.9 564C716.5 568.6 713.4 587 710.9 591.6C708.3 596.2 701.2 596.2 698.6 591.6C696.1 587 693 568.6 695.6 564Z" fill="none" stroke="#fd2424" stroke-width="6" mask="url(#mV)"/>
<path d="M499.4 564C501.2 557.9 506.9 556.8 511.7 554.8C516.6 552.8 523.5 550.7 528.6 551.7C533.7 552.8 538.8 556.8 542.3 560.9C545.9 565 545.9 571.7 550 576.2C554.1 580.8 561.5 585.4 566.9 588.5C572.2 591.6 579.1 591.6 582.2 594.6C585.2 597.7 585.2 602.3 585.2 606.9C585.2 611.5 583.7 618.1 582.2 622.2C580.7 626.3 579.6 629.4 576.1 631.4C572.5 633.4 566.4 635.2 560.7 634.5C555.1 633.7 548.5 629.9 542.3 626.8C536.2 623.7 529.6 619.9 524 616.1C518.3 612.3 512.5 607.9 508.6 603.8C504.8 599.7 502.5 598.2 501 591.6C499.4 584.9 497.7 570.1 499.4 564Z" fill="#48a79b" mask="url(#mM)"/>
<path d="M499.4 564C501.2 557.9 506.9 556.8 511.7 554.8C516.6 552.8 523.5 550.7 528.6 551.7C533.7 552.8 538.8 556.8 542.3 560.9C545.9 565 545.9 571.7 550 576.2C554.1 580.8 561.5 585.4 566.9 588.5C572.2 591.6 579.1 591.6 582.2 594.6C585.2 597.7 585.2 602.3 585.2 606.9C585.2 611.5 583.7 618.1 582.2 622.2C580.7 626.3 579.6 629.4 576.1 631.4C572.5 633.4 566.4 635.2 560.7 634.5C555.1 633.7 548.5 629.9 542.3 626.8C536.2 623.7 529.6 619.9 524 616.1C518.3 612.3 512.5 607.9 508.6 603.8C504.8 599.7 502.5 598.2 501 591.6C499.4 584.9 497.7 570.1 499.4 564Z" fill="none" stroke="#48a79b" stroke-width="6" mask="url(#mV)"/>
<path d="M536.2 588.5C538.8 585.4 548 584.9 554.6 585.4C561.2 586 570.9 588.5 576.1 591.6C581.2 594.6 584.2 599.2 585.2 603.8C586.3 608.4 584.7 616.1 582.2 619.1C579.6 622.2 575 623.2 569.9 622.2C564.8 621.2 556.6 616.1 551.5 613C546.4 610 541.8 607.9 539.3 603.8C536.7 599.7 533.7 591.6 536.2 588.5Z" fill="#48a79b" mask="url(#mD)"/>
<path d="M536.2 588.5C538.8 585.4 548 584.9 554.6 585.4C561.2 586 570.9 588.5 576.1 591.6C581.2 594.6 584.2 599.2 585.2 603.8C586.3 608.4 584.7 616.1 582.2 619.1C579.6 622.2 575 623.2 569.9 622.2C564.8 621.2 556.6 616.1 551.5 613C546.4 610 541.8 607.9 539.3 603.8C536.7 599.7 533.7 591.6 536.2 588.5Z" fill="none" stroke="#48a79b" stroke-width="6" mask="url(#mL)"/>
<path d="M511.7 539.5C512.5 535.9 515.8 533.6 517.8 530.3C519.9 527 521.7 521.6 524 519.6C526.3 517.5 529.3 517.3 531.6 518C533.9 518.8 536.7 521.6 537.8 524.2C538.8 526.7 538.8 530.5 537.8 533.3C536.7 536.2 533.2 538.5 531.6 541C530.1 543.6 530.6 546.4 528.6 548.7C526.5 551 521.9 554.3 519.4 554.8C516.8 555.3 514.5 554.3 513.2 551.7C512 549.2 510.9 543.1 511.7 539.5Z" fill="#eef830" mask="url(#mM)"/>
<path d="M511.7 539.5C512.5 535.9 515.8 533.6 517.8 530.3C519.9 527 521.7 521.6 524 519.6C526.3 517.5 529.3 517.3 531.6 518C533.9 518.8 536.7 521.6 537.8 524.2C538.8 526.7 538.8 530.5 537.8 533.3C536.7 536.2 533.2 538.5 531.6 541C530.1 543.6 530.6 546.4 528.6 548.7C526.5 551 521.9 554.3 519.4 554.8C516.8 555.3 514.5 554.3 513.2 551.7C512 549.2 510.9 543.1 511.7 539.5Z" fill="none" stroke="#eef830" stroke-width="6" mask="url(#mV)"/>
<path d="M539.3 513.4C541.3 510.9 546.9 508.3 550 505.8C553.1 503.2 554.4 499.8 557.7 498.1C561 496.5 565.8 495.6 569.9 495.8C574 496.1 578.9 497.5 582.2 499.6C585.5 501.8 588.3 506 589.8 508.8C591.4 511.6 592.1 514.2 591.4 516.5C590.6 518.8 588.3 520.8 585.2 522.6C582.2 524.4 576.1 524.7 573 527.2C569.9 529.8 568.9 534.4 566.9 537.9C564.8 541.5 563.5 546.4 560.7 548.7C557.9 551 553.1 551.2 550 551.7C546.9 552.2 544.6 553.3 542.3 551.7C540.1 550.2 537 546.1 536.2 542.5C535.5 539 537.5 533.9 537.8 530.3C538 526.7 537.5 523.9 537.8 521.1C538 518.3 537.2 516 539.3 513.4Z" fill="#a222f0" mask="url(#mD)"/>
<path d="M539.3 513.4C541.3 510.9 546.9 508.3 550 505.8C553.1 503.2 554.4 499.8 557.7 498.1C561 496.5 565.8 495.6 569.9 495.8C574 496.1 578.9 497.5 582.2 499.6C585.5 501.8 588.3 506 589.8 508.8C591.4 511.6 592.1 514.2 591.4 516.5C590.6 518.8 588.3 520.8 585.2 522.6C582.2 524.4 576.1 524.7 573 527.2C569.9 529.8 568.9 534.4 566.9 537.9C564.8 541.5 563.5 546.4 560.7 548.7C557.9 551 553.1 551.2 550 551.7C546.9 552.2 544.6 553.3 542.3 551.7C540.1 550.2 537 546.1 536.2 542.5C535.5 539 537.5 533.9 537.8 530.3C538 526.7 537.5 523.9 537.8 521.1C538 518.3 537.2 516 539.3 513.4Z" fill="none" stroke="#a222f0" stroke-width="6" mask="url(#mL)"/>
<path d="M566.9 527.2C570.2 523.6 573.8 521.1 577.6 519.6C581.4 518 587.3 516.2 589.8 518C592.4 519.8 592.1 525.7 592.9 530.3C593.7 534.9 593.9 540.5 594.4 545.6C595 550.7 596.5 555.8 596 560.9C595.5 566 593.7 572.2 591.4 576.2C589.1 580.3 585.8 583.9 582.2 585.4C578.6 587 574 586 569.9 585.4C565.8 584.9 561.2 583.9 557.7 582.4C554.1 580.8 550.8 579.3 548.5 576.2C546.2 573.2 544.1 568.6 543.9 564C543.6 559.4 544.6 552.5 546.9 548.7C549.2 544.8 554.4 544.6 557.7 541C561 537.4 563.5 530.8 566.9 527.2Z" fill="#3d6c12" mask="url(#mM)"/>
<path d="M566.9 527.2C570.2 523.6 573.8 521.1 577.6 519.6C581.4 518 587.3 516.2 589.8 518C592.4 519.8 592.1 525.7 592.9 530.3C593.7 534.9 593.9 540.5 594.4 545.6C595 550.7 596.5 555.8 596 560.9C595.5 566 593.7 572.2 591.4 576.2C589.1 580.3 585.8 583.9 582.2 585.4C578.6 587 574 586 569.9 585.4C565.8 584.9 561.2 583.9 557.7 582.4C554.1 580.8 550.8 579.3 548.5 576.2C546.2 573.2 544.1 568.6 543.9 564C543.6 559.4 544.6 552.5 546.9 548.7C549.2 544.8 554.4 544.6 557.7 541C561 537.4 563.5 530.8 566.9 527.2Z" fill="none" stroke="#3d6c12" stroke-width="6" mask="url(#mV)"/>
<path d="M612.8 539.5C614.4 536.9 617.2 534.4 620.5 533.3C623.8 532.3 629.9 530.8 632.7 533.3C635.6 535.9 637.6 543.6 637.3 548.7C637.1 553.8 633.3 558.9 631.2 564C629.2 569.1 626.6 574.7 625.1 579.3C623.6 583.9 623.3 587.5 622 591.6C620.7 595.7 619 602.3 617.4 603.8C615.9 605.4 613.8 604.8 612.8 600.8C611.8 596.7 611.3 586 611.3 579.3C611.3 572.7 612.8 566 612.8 560.9C612.8 555.8 611.3 552.2 611.3 548.7C611.3 545.1 611.3 542 612.8 539.5Z" fill="#7cf23a" mask="url(#mM)"/>
<path d="M612.8 539.5C614.4 536.9 617.2 534.4 620.5 533.3C623.8 532.3 629.9 530.8 632.7 533.3C635.6 535.9 637.6 543.6 637.3 548.7C637.1 553.8 633.3 558.9 631.2 564C629.2 569.1 626.6 574.7 625.1 579.3C623.6 583.9 623.3 587.5 622 591.6C620.7 595.7 619 602.3 617.4 603.8C615.9 605.4 613.8 604.8 612.8 600.8C611.8 596.7 611.3 586 611.3 579.3C611.3 572.7 612.8 566 612.8 560.9C612.8 555.8 611.3 552.2 611.3 548.7C611.3 545.1 611.3 542 612.8 539.5Z" fill="none" stroke="#7cf23a" stroke-width="6" mask="url(#mV)"/>
<path d="M627.4 530.3C627.1 529 629.8 523.9 631.2 522.6C632.6 521.3 635.6 521.3 635.8 522.6C636.1 523.9 634.1 529 632.7 530.3C631.3 531.6 627.6 531.6 627.4 530.3Z" fill="#c39595" mask="url(#mM)"/>
<path d="M627.4 530.3C627.1 529 629.8 523.9 631.2 522.6C632.6 521.3 635.6 521.3 635.8 522.6C636.1 523.9 634.1 529 632.7 530.3C631.3 531.6 627.6 531.6 627.4 530.3Z" fill="none" stroke="#c39595" stroke-width="6" mask="url(#mV)"/>
<path d="M655.7 530.3C657.3 526.2 661.6 520.1 664.9 515C668.2 509.9 671.6 503 675.6 499.6C679.7 496.3 685.3 495.3 689.4 495C693.5 494.8 697.1 495.8 700.2 498.1C703.2 500.4 705.8 505 707.8 508.8C709.9 512.7 709.9 517 712.4 521.1C715 525.2 722.4 529.3 723.1 533.3C723.9 537.4 718.5 541 717 545.6C715.5 550.2 716 557.4 713.9 560.9C711.9 564.5 709.3 566 704.8 567.1C700.2 568.1 691.2 569.1 686.4 567.1C681.5 565 679.2 558.4 675.6 554.8C672.1 551.2 668.2 548.2 664.9 545.6C661.6 543.1 657.3 542 655.7 539.5C654.2 536.9 654.2 534.4 655.7 530.3Z" fill="#e89b3e" mask="url(#mM)"/>
<path d="M655.7 530.3C657.3 526.2 661.6 520.1 664.9 515C668.2 509.9 671.6 503 675.6 499.6C679.7 496.3 685.3 495.3 689.4 495C693.5 494.8 697.1 495.8 700.2 498.1C703.2 500.4 705.8 505 707.8 508.8C709.9 512.7 709.9 517 712.4 521.1C715 525.2 722.4 529.3 723.1 533.3C723.9 537.4 718.5 541 717 545.6C715.5 550.2 716 557.4 713.9 560.9C711.9 564.5 709.3 566 704.8 567.1C700.2 568.1 691.2 569.1 686.4 567.1C681.5 565 679.2 558.4 675.6 554.8C672.1 551.2 668.2 548.2 664.9 545.6C661.6 543.1 657.3 542 655.7 539.5C654.2 536.9 654.2 534.4 655.7 530.3Z" fill="none" stroke="#e89b3e" stroke-width="6" mask="url(#mV)"/>
<text x="607.9" y="460" font-size="25.5" fill="#000" text-anchor="middle" stroke="#000" stroke-width="0.55">PLHIV-ART&lt;3m</text>
<path d="M865.4 462V742M959.8 462V742M1053.6 462V742M823.7 496.8H1107.5M823.7 547.7H1107.5M823.7 599.5H1107.5M823.7 650.4H1107.5M823.7 702.4H1107.5" stroke="#c9c9c9" stroke-width="1.1" fill="none"/>
<path d="M815.5 496.7H823.1M815.5 548.1H823.1M815.5 599.5H823.1M815.5 650.9H823.1M815.5 702.3H823.1M865.8 745.5V752.3M959.8 745.5V752.3M1053.8 745.5V752.3" stroke="#111" stroke-width="2" fill="none"/>
<path d="M819.4 465.9H823.1M819.4 476.1H823.1M819.4 486.4H823.1M819.4 507H823.1M819.4 517.3H823.1M819.4 527.5H823.1M819.4 537.8H823.1M819.4 558.4H823.1M819.4 568.7H823.1M819.4 578.9H823.1M819.4 589.2H823.1M819.4 609.8H823.1M819.4 620.1H823.1M819.4 630.3H823.1M819.4 640.6H823.1M819.4 661.2H823.1M819.4 671.5H823.1M819.4 681.7H823.1M819.4 692H823.1M889.3 745.5V749.1M912.8 745.5V749.1M936.3 745.5V749.1M983.3 745.5V749.1M1006.8 745.5V749.1M1030.3 745.5V749.1M1077.3 745.5V749.1M1100.8 745.5V749.1" stroke="#222" stroke-width="1.2" fill="none"/>
<g font-size="11.5" fill="#1a1a1a" stroke="#1a1a1a" stroke-width="0.3" text-anchor="end">
<text x="810" y="499.8">10</text>
<text x="810" y="550.7">5.0</text>
<text x="810" y="602.5">0</text>
<text x="810" y="653.4">−5.0</text>
<text x="810" y="705.4">−9</text>
</g><g font-size="11.5" fill="#1a1a1a" stroke="#1a1a1a" stroke-width="0.3" text-anchor="middle">
<text x="865.4" y="764.5">−9</text>
<text x="959.8" y="764.5">0</text>
<text x="1053.6" y="764.5">10</text>
</g>
<path d="M996.9 547.1C999.4 543.8 1004.5 546.9 1009.1 547.1C1013.7 547.4 1019.6 545.4 1024.5 548.7C1029.3 552 1032.6 564 1038.2 567.1C1043.9 570.1 1052.3 567.6 1058.2 567.1C1064 566.5 1071.2 560.9 1073.5 564C1075.8 567.1 1073.2 578.3 1071.9 585.4C1070.7 592.6 1066.8 598.2 1065.8 606.9C1064.8 615.6 1066.3 628.6 1065.8 637.5C1065.3 646.5 1063.5 652.9 1062.8 660.5C1062 668.2 1062.8 676.6 1061.2 683.5C1059.7 690.4 1056.9 697.8 1053.6 701.9C1050.2 706 1046.9 707 1041.3 708C1035.7 709 1026 709 1019.9 708C1013.7 707 1008.6 705.5 1004.5 701.9C1000.4 698.3 998.9 691.7 995.3 686.6C991.8 681.5 987.2 675.6 983.1 671.2C979 666.9 974.4 664.9 970.8 660.5C967.3 656.2 965.7 648.5 961.6 645.2C957.5 641.9 949.9 644.4 946.3 640.6C942.7 636.8 940.7 628.3 940.2 622.2C939.7 616.1 940.2 608.4 943.2 603.8C946.3 599.2 954 597.7 958.6 594.6C963.2 591.6 966.7 588 970.8 585.4C974.9 582.9 979.3 582.4 983.1 579.3C986.9 576.2 991.5 572.4 993.8 567.1C996.1 561.7 994.3 550.5 996.9 547.1Z" fill="#fd2424" mask="url(#mL)"/>
<path d="M996.9 547.1C999.4 543.8 1004.5 546.9 1009.1 547.1C1013.7 547.4 1019.6 545.4 1024.5 548.7C1029.3 552 1032.6 564 1038.2 567.1C1043.9 570.1 1052.3 567.6 1058.2 567.1C1064 566.5 1071.2 560.9 1073.5 564C1075.8 567.1 1073.2 578.3 1071.9 585.4C1070.7 592.6 1066.8 598.2 1065.8 606.9C1064.8 615.6 1066.3 628.6 1065.8 637.5C1065.3 646.5 1063.5 652.9 1062.8 660.5C1062 668.2 1062.8 676.6 1061.2 683.5C1059.7 690.4 1056.9 697.8 1053.6 701.9C1050.2 706 1046.9 707 1041.3 708C1035.7 709 1026 709 1019.9 708C1013.7 707 1008.6 705.5 1004.5 701.9C1000.4 698.3 998.9 691.7 995.3 686.6C991.8 681.5 987.2 675.6 983.1 671.2C979 666.9 974.4 664.9 970.8 660.5C967.3 656.2 965.7 648.5 961.6 645.2C957.5 641.9 949.9 644.4 946.3 640.6C942.7 636.8 940.7 628.3 940.2 622.2C939.7 616.1 940.2 608.4 943.2 603.8C946.3 599.2 954 597.7 958.6 594.6C963.2 591.6 966.7 588 970.8 585.4C974.9 582.9 979.3 582.4 983.1 579.3C986.9 576.2 991.5 572.4 993.8 567.1C996.1 561.7 994.3 550.5 996.9 547.1Z" fill="none" stroke="#fd2424" stroke-width="6" mask="url(#mV)"/>
<path d="M943.2 603.8C945.8 598.2 956 601.8 961.6 603.8C967.3 605.9 974.4 611 977 616.1C979.5 621.2 979.5 630.4 977 634.5C974.4 638.6 966.7 640.1 961.6 640.6C956.5 641.1 949.4 643.7 946.3 637.5C943.2 631.4 940.7 609.4 943.2 603.8Z" fill="#fd2424" mask="url(#mD)"/>
<path d="M943.2 603.8C945.8 598.2 956 601.8 961.6 603.8C967.3 605.9 974.4 611 977 616.1C979.5 621.2 979.5 630.4 977 634.5C974.4 638.6 966.7 640.1 961.6 640.6C956.5 641.1 949.4 643.7 946.3 637.5C943.2 631.4 940.7 609.4 943.2 603.8Z" fill="none" stroke="#fd2424" stroke-width="6" mask="url(#mL)"/>
<path d="M1001.5 548.7C1002 543.8 1007.1 544.1 1010.7 547.1C1014.2 550.2 1020.6 559.1 1022.9 567.1C1025.2 575 1025.7 589.5 1024.5 594.6C1023.2 599.7 1018.1 600.8 1015.3 597.7C1012.4 594.6 1009.9 584.4 1007.6 576.2C1005.3 568.1 1001 553.5 1001.5 548.7Z" fill="#fd2424" mask="url(#mM)"/>
<path d="M1001.5 548.7C1002 543.8 1007.1 544.1 1010.7 547.1C1014.2 550.2 1020.6 559.1 1022.9 567.1C1025.2 575 1025.7 589.5 1024.5 594.6C1023.2 599.7 1018.1 600.8 1015.3 597.7C1012.4 594.6 1009.9 584.4 1007.6 576.2C1005.3 568.1 1001 553.5 1001.5 548.7Z" fill="none" stroke="#fd2424" stroke-width="6" mask="url(#mV)"/>
<path d="M1059.7 567.1C1061.5 561.4 1071.4 560.4 1073.5 564C1075.5 567.6 1073.7 582.9 1071.9 588.5C1070.2 594.1 1064.8 601.3 1062.8 597.7C1060.7 594.1 1057.9 572.7 1059.7 567.1Z" fill="#fd2424" mask="url(#mM)"/>
<path d="M1059.7 567.1C1061.5 561.4 1071.4 560.4 1073.5 564C1075.5 567.6 1073.7 582.9 1071.9 588.5C1070.2 594.1 1064.8 601.3 1062.8 597.7C1060.7 594.1 1057.9 572.7 1059.7 567.1Z" fill="none" stroke="#fd2424" stroke-width="6" mask="url(#mV)"/>
<path d="M998.4 660.5C1008.6 656.2 1049.2 656.7 1059.7 660.5C1070.2 664.3 1062.2 676.6 1061.2 683.5C1060.2 690.4 1060.5 698.3 1053.6 701.9C1046.7 705.5 1029 707.5 1019.9 704.9C1010.7 702.4 1002 694 998.4 686.6C994.8 679.2 988.2 664.9 998.4 660.5Z" fill="#fd2424" mask="url(#mM)"/>
<path d="M998.4 660.5C1008.6 656.2 1049.2 656.7 1059.7 660.5C1070.2 664.3 1062.2 676.6 1061.2 683.5C1060.2 690.4 1060.5 698.3 1053.6 701.9C1046.7 705.5 1029 707.5 1019.9 704.9C1010.7 702.4 1002 694 998.4 686.6C994.8 679.2 988.2 664.9 998.4 660.5Z" fill="none" stroke="#fd2424" stroke-width="6" mask="url(#mV)"/>
<path d="M866.6 554.8C870.2 550.7 875.8 554.3 880.4 554.8C885 555.3 889.4 556.3 894.2 557.9C899.1 559.4 905.5 560.9 909.5 564C913.6 567.1 915.2 571.7 918.7 576.2C922.3 580.8 926.9 587 931 591.6C935.1 596.2 941.2 599.2 943.2 603.8C945.3 608.4 942.2 613.5 943.2 619.1C944.3 624.8 949.9 633.7 949.4 637.5C948.9 641.4 944.8 642.1 940.2 642.1C935.6 642.1 928.4 638.8 921.8 637.5C915.2 636.3 907 636.5 900.3 634.5C893.7 632.4 887.6 630.4 882 625.3C876.3 620.2 870.5 611.5 866.6 603.8C862.8 596.2 859 587.5 859 579.3C859 571.1 863.1 558.9 866.6 554.8Z" fill="#48a79b" mask="url(#mK)"/>
<path d="M882 557.9C885 556.8 894.7 558.4 900.3 560.9C906 563.5 914.1 570.1 915.7 573.2C917.2 576.2 913.1 579.3 909.5 579.3C906 579.3 898.8 575.2 894.2 573.2C889.6 571.1 884 569.6 882 567.1C879.9 564.5 878.9 558.9 882 557.9Z" fill="#48a79b" mask="url(#mM)"/>
<path d="M882 557.9C885 556.8 894.7 558.4 900.3 560.9C906 563.5 914.1 570.1 915.7 573.2C917.2 576.2 913.1 579.3 909.5 579.3C906 579.3 898.8 575.2 894.2 573.2C889.6 571.1 884 569.6 882 567.1C879.9 564.5 878.9 558.9 882 557.9Z" fill="none" stroke="#48a79b" stroke-width="6" mask="url(#mV)"/>
<path d="M927.9 606.9C930 602.5 939.7 598.7 943.2 603.8C946.8 608.9 949.9 631.1 949.4 637.5C948.9 643.9 943.2 643.4 940.2 642.1C937.1 640.9 933 635.7 931 629.9C928.9 624 925.9 611.2 927.9 606.9Z" fill="#48a79b" mask="url(#mM)"/>
<path d="M927.9 606.9C930 602.5 939.7 598.7 943.2 603.8C946.8 608.9 949.9 631.1 949.4 637.5C948.9 643.9 943.2 643.4 940.2 642.1C937.1 640.9 933 635.7 931 629.9C928.9 624 925.9 611.2 927.9 606.9Z" fill="none" stroke="#48a79b" stroke-width="6" mask="url(#mV)"/>
<path d="M878.9 519.6C880.7 516.8 883.8 516.8 886.6 516.5C889.4 516.2 894 516.2 895.8 518C897.5 519.8 897.5 523.9 897.3 527.2C897 530.5 895.2 534.4 894.2 537.9C893.2 541.5 893.2 546.4 891.2 548.7C889.1 551 884.8 551.7 882 551.7C879.2 551.7 875.3 551.7 874.3 548.7C873.3 545.6 875.1 538.2 875.8 533.3C876.6 528.5 877.1 522.4 878.9 519.6Z" fill="#eef830" mask="url(#mM)"/>
<path d="M878.9 519.6C880.7 516.8 883.8 516.8 886.6 516.5C889.4 516.2 894 516.2 895.8 518C897.5 519.8 897.5 523.9 897.3 527.2C897 530.5 895.2 534.4 894.2 537.9C893.2 541.5 893.2 546.4 891.2 548.7C889.1 551 884.8 551.7 882 551.7C879.2 551.7 875.3 551.7 874.3 548.7C873.3 545.6 875.1 538.2 875.8 533.3C876.6 528.5 877.1 522.4 878.9 519.6Z" fill="none" stroke="#eef830" stroke-width="6" mask="url(#mV)"/>
<path d="M877.4 521.1C878.1 519 883.5 517 886.6 516.5C889.6 516 894.7 516.5 895.8 518C896.8 519.6 895 523.9 892.7 525.7C890.4 527.5 884.5 529.5 882 528.8C879.4 528 876.6 523.1 877.4 521.1Z" fill="#eef830" mask="url(#mD)"/>
<path d="M877.4 521.1C878.1 519 883.5 517 886.6 516.5C889.6 516 894.7 516.5 895.8 518C896.8 519.6 895 523.9 892.7 525.7C890.4 527.5 884.5 529.5 882 528.8C879.4 528 876.6 523.1 877.4 521.1Z" fill="none" stroke="#eef830" stroke-width="6" mask="url(#mL)"/>
<path d="M892.7 515C893.7 511.6 898.1 510.6 901.9 507.3C905.7 504 911.3 496.8 915.7 495C920 493.3 923.8 495.8 927.9 496.6C932 497.3 936.9 497.9 940.2 499.6C943.5 501.4 946.3 504.2 947.8 507.3C949.4 510.4 950.7 515.2 949.4 518C948.1 520.8 943.8 522.1 940.2 524.2C936.6 526.2 931.5 527.7 927.9 530.3C924.4 532.8 921.8 536.4 918.7 539.5C915.7 542.5 912.6 546.9 909.5 548.7C906.5 550.5 902.4 551.2 900.3 550.2C898.3 549.2 898.1 546.4 897.3 542.5C896.5 538.7 896.5 531.8 895.8 527.2C895 522.6 891.7 518.3 892.7 515Z" fill="#a222f0" mask="url(#mL)"/>
<path d="M892.7 515C893.7 511.6 898.1 510.6 901.9 507.3C905.7 504 911.3 496.8 915.7 495C920 493.3 923.8 495.8 927.9 496.6C932 497.3 936.9 497.9 940.2 499.6C943.5 501.4 946.3 504.2 947.8 507.3C949.4 510.4 950.7 515.2 949.4 518C948.1 520.8 943.8 522.1 940.2 524.2C936.6 526.2 931.5 527.7 927.9 530.3C924.4 532.8 921.8 536.4 918.7 539.5C915.7 542.5 912.6 546.9 909.5 548.7C906.5 550.5 902.4 551.2 900.3 550.2C898.3 549.2 898.1 546.4 897.3 542.5C896.5 538.7 896.5 531.8 895.8 527.2C895 522.6 891.7 518.3 892.7 515Z" fill="none" stroke="#a222f0" stroke-width="6" mask="url(#mV)"/>
<path d="M894.2 515C894.7 513.2 899.8 510.5 903.4 507.3C907 504.1 911.6 497.6 915.7 495.8C919.8 494 923.8 495.9 927.9 496.6C932 497.2 936.9 497.9 940.2 499.6C943.5 501.4 946.8 504.7 947.8 507.3C948.9 509.9 948.6 513.9 946.3 515C944 516 938.1 513.9 934.1 513.4C930 512.9 925.9 511.6 921.8 511.9C917.7 512.2 913.1 513.9 909.5 515C906 516 902.9 518 900.3 518C897.8 518 893.7 516.8 894.2 515Z" fill="#a222f0" mask="url(#mD)"/>
<path d="M894.2 515C894.7 513.2 899.8 510.5 903.4 507.3C907 504.1 911.6 497.6 915.7 495.8C919.8 494 923.8 495.9 927.9 496.6C932 497.2 936.9 497.9 940.2 499.6C943.5 501.4 946.8 504.7 947.8 507.3C948.9 509.9 948.6 513.9 946.3 515C944 516 938.1 513.9 934.1 513.4C930 512.9 925.9 511.6 921.8 511.9C917.7 512.2 913.1 513.9 909.5 515C906 516 902.9 518 900.3 518C897.8 518 893.7 516.8 894.2 515Z" fill="none" stroke="#a222f0" stroke-width="6" mask="url(#mL)"/>
<path d="M921.8 533.3C924.4 530.5 927.4 526.7 931 525.7C934.6 524.7 939.2 524.9 943.2 527.2C947.3 529.5 952.2 536.4 955.5 539.5C958.8 542.5 962.1 542.5 963.2 545.6C964.2 548.7 963.2 554.3 961.6 557.9C960.1 561.4 954.5 563.5 954 567.1C953.5 570.6 958.8 575.7 958.6 579.3C958.3 582.9 955.5 587 952.4 588.5C949.4 590 944.3 589 940.2 588.5C936.1 588 932.5 587 927.9 585.4C923.3 583.9 917.2 581.9 912.6 579.3C908 576.8 901.1 574.2 900.3 570.1C899.6 566 905.5 559.4 908 554.8C910.6 550.2 913.4 546.1 915.7 542.5C918 539 919.2 536.2 921.8 533.3Z" fill="#3d6c12" mask="url(#mM)"/>
<path d="M921.8 533.3C924.4 530.5 927.4 526.7 931 525.7C934.6 524.7 939.2 524.9 943.2 527.2C947.3 529.5 952.2 536.4 955.5 539.5C958.8 542.5 962.1 542.5 963.2 545.6C964.2 548.7 963.2 554.3 961.6 557.9C960.1 561.4 954.5 563.5 954 567.1C953.5 570.6 958.8 575.7 958.6 579.3C958.3 582.9 955.5 587 952.4 588.5C949.4 590 944.3 589 940.2 588.5C936.1 588 932.5 587 927.9 585.4C923.3 583.9 917.2 581.9 912.6 579.3C908 576.8 901.1 574.2 900.3 570.1C899.6 566 905.5 559.4 908 554.8C910.6 550.2 913.4 546.1 915.7 542.5C918 539 919.2 536.2 921.8 533.3Z" fill="none" stroke="#3d6c12" stroke-width="6" mask="url(#mV)"/>
<path d="M940.2 533.3C942.2 531.8 951.7 536.9 955.5 539.5C959.3 542 962.1 545.6 963.2 548.7C964.2 551.7 963.4 555.8 961.6 557.9C959.8 559.9 955.5 562.5 952.4 560.9C949.4 559.4 945.3 553.3 943.2 548.7C941.2 544.1 938.1 534.9 940.2 533.3Z" fill="#3d6c12" mask="url(#mD)"/>
<path d="M940.2 533.3C942.2 531.8 951.7 536.9 955.5 539.5C959.3 542 962.1 545.6 963.2 548.7C964.2 551.7 963.4 555.8 961.6 557.9C959.8 559.9 955.5 562.5 952.4 560.9C949.4 559.4 945.3 553.3 943.2 548.7C941.2 544.1 938.1 534.9 940.2 533.3Z" fill="none" stroke="#3d6c12" stroke-width="6" mask="url(#mL)"/>
<path d="M973.9 536.4C976.2 531.8 982.8 532.8 986.1 533.3C989.5 533.9 992 534.9 993.8 539.5C995.6 544.1 997.6 554.8 996.9 560.9C996.1 567.1 992 572.2 989.2 576.2C986.4 580.3 982.6 584.4 980 585.4C977.5 586.5 975.2 586.5 973.9 582.4C972.6 578.3 972.4 568.6 972.4 560.9C972.4 553.3 971.6 541 973.9 536.4Z" fill="#7cf23a" mask="url(#mM)"/>
<path d="M973.9 536.4C976.2 531.8 982.8 532.8 986.1 533.3C989.5 533.9 992 534.9 993.8 539.5C995.6 544.1 997.6 554.8 996.9 560.9C996.1 567.1 992 572.2 989.2 576.2C986.4 580.3 982.6 584.4 980 585.4C977.5 586.5 975.2 586.5 973.9 582.4C972.6 578.3 972.4 568.6 972.4 560.9C972.4 553.3 971.6 541 973.9 536.4Z" fill="none" stroke="#7cf23a" stroke-width="6" mask="url(#mV)"/>
<path d="M983.8 530.3C983.8 529 987.7 525.2 989.2 524.2C990.7 523.1 993 522.9 993 524.2C993 525.4 990.7 530.8 989.2 531.8C987.7 532.8 983.8 531.6 983.8 530.3Z" fill="#c39595" mask="url(#mM)"/>
<path d="M983.8 530.3C983.8 529 987.7 525.2 989.2 524.2C990.7 523.1 993 522.9 993 524.2C993 525.4 990.7 530.8 989.2 531.8C987.7 532.8 983.8 531.6 983.8 530.3Z" fill="none" stroke="#c39595" stroke-width="6" mask="url(#mV)"/>
<path d="M1012.2 536.4C1012.7 532.3 1017 526.5 1019.9 521.1C1022.7 515.7 1025.5 508.6 1029 504.2C1032.6 499.9 1037 496.3 1041.3 495C1045.6 493.8 1051.3 494.8 1055.1 496.6C1058.9 498.4 1061.2 501.2 1064.3 505.8C1067.3 510.4 1071.7 518.5 1073.5 524.2C1075.3 529.8 1074.2 534.4 1075 539.5C1075.8 544.6 1078.6 550.7 1078.1 554.8C1077.6 558.9 1075.5 561.9 1071.9 564C1068.4 566 1062.2 566.5 1056.6 567.1C1051 567.6 1042.8 569.1 1038.2 567.1C1033.6 565 1032.6 558.4 1029 554.8C1025.5 551.2 1019.6 548.7 1016.8 545.6C1014 542.5 1011.7 540.5 1012.2 536.4Z" fill="#e89b3e" mask="url(#mM)"/>
<path d="M1012.2 536.4C1012.7 532.3 1017 526.5 1019.9 521.1C1022.7 515.7 1025.5 508.6 1029 504.2C1032.6 499.9 1037 496.3 1041.3 495C1045.6 493.8 1051.3 494.8 1055.1 496.6C1058.9 498.4 1061.2 501.2 1064.3 505.8C1067.3 510.4 1071.7 518.5 1073.5 524.2C1075.3 529.8 1074.2 534.4 1075 539.5C1075.8 544.6 1078.6 550.7 1078.1 554.8C1077.6 558.9 1075.5 561.9 1071.9 564C1068.4 566 1062.2 566.5 1056.6 567.1C1051 567.6 1042.8 569.1 1038.2 567.1C1033.6 565 1032.6 558.4 1029 554.8C1025.5 551.2 1019.6 548.7 1016.8 545.6C1014 542.5 1011.7 540.5 1012.2 536.4Z" fill="none" stroke="#e89b3e" stroke-width="6" mask="url(#mV)"/>
<text x="972" y="460" font-size="25.5" fill="#000" text-anchor="middle" stroke="#000" stroke-width="0.55">PLHIV ART&gt;1yr</text>
<path d="M149.4 809.7V1089.7M243.8 809.7V1089.7M337.6 809.7V1089.7M107.7 844.5H391.5M107.7 895.4H391.5M107.7 947.2H391.5M107.7 998.1H391.5M107.7 1050.1H391.5" stroke="#c9c9c9" stroke-width="1.1" fill="none"/>
<path d="M99.5 844.4H107.1M99.5 895.8H107.1M99.5 947.2H107.1M99.5 998.6H107.1M99.5 1050H107.1M149.8 1093.2V1100M243.8 1093.2V1100M337.8 1093.2V1100" stroke="#111" stroke-width="2" fill="none"/>
<path d="M103.4 813.6H107.1M103.4 823.8H107.1M103.4 834.1H107.1M103.4 854.7H107.1M103.4 865H107.1M103.4 875.2H107.1M103.4 885.5H107.1M103.4 906.1H107.1M103.4 916.4H107.1M103.4 926.6H107.1M103.4 936.9H107.1M103.4 957.5H107.1M103.4 967.8H107.1M103.4 978H107.1M103.4 988.3H107.1M103.4 1008.9H107.1M103.4 1019.2H107.1M103.4 1029.4H107.1M103.4 1039.7H107.1M173.3 1093.2V1096.8M196.8 1093.2V1096.8M220.3 1093.2V1096.8M267.3 1093.2V1096.8M290.8 1093.2V1096.8M314.3 1093.2V1096.8M361.3 1093.2V1096.8M384.8 1093.2V1096.8" stroke="#222" stroke-width="1.2" fill="none"/>
<g font-size="11.5" fill="#1a1a1a" stroke="#1a1a1a" stroke-width="0.3" text-anchor="end">
<text x="94" y="847.5">10</text>
<text x="94" y="898.4">5.0</text>
<text x="94" y="950.2">0</text>
<text x="94" y="1001.1">5.0</text>
<text x="94" y="1053.1">−9</text>
</g><g font-size="11.5" fill="#1a1a1a" stroke="#1a1a1a" stroke-width="0.3" text-anchor="middle">
<text x="149.4" y="1112.2">−9</text>
<text x="243.8" y="1112.2">0</text>
<text x="337.6" y="1112.2">10</text>
</g>
<path d="M265.6 913C268.6 908.9 275 905.8 279.3 903.8C283.7 901.8 287.5 899.7 291.6 900.7C295.7 901.8 300.3 905.8 303.9 909.9C307.4 914 310 920.1 313 925.2C316.1 930.4 318.7 935.5 322.2 940.6C325.8 945.7 331.4 950.8 334.5 955.9C337.6 961 339.1 966.1 340.6 971.2C342.2 976.3 342.9 981.4 343.7 986.5C344.5 991.6 344.2 996.7 345.2 1001.9C346.2 1007 349.6 1012.1 349.8 1017.2C350.1 1022.3 348.3 1027.4 346.8 1032.5C345.2 1037.6 342.7 1043.7 340.6 1047.8C338.6 1051.9 336.8 1054.5 334.5 1057C332.2 1059.6 330.7 1063.1 326.8 1063.1C323 1063.1 317.9 1059.6 311.5 1057C305.1 1054.5 295.9 1050.9 288.5 1047.8C281.1 1044.8 273.7 1041.7 267.1 1038.6C260.4 1035.6 254.3 1033 248.7 1029.4C243.1 1025.9 236.4 1021.8 233.4 1017.2C230.3 1012.6 230.3 1005.9 230.3 1001.9C230.3 997.8 234.4 995.7 233.4 992.7C232.4 989.6 226.5 987.6 224.2 983.5C221.9 979.4 219.6 972.7 219.6 968.1C219.6 963.6 221.4 959.5 224.2 955.9C227 952.3 231.3 949.3 236.4 946.7C241.5 944.1 250.7 943.6 254.8 940.6C258.9 937.5 259.2 932.9 261 928.3C262.7 923.7 262.5 917.1 265.6 913Z" fill="#fd2424" mask="url(#mL)"/>
<path d="M265.6 913C268.6 908.9 275 905.8 279.3 903.8C283.7 901.8 287.5 899.7 291.6 900.7C295.7 901.8 300.3 905.8 303.9 909.9C307.4 914 310 920.1 313 925.2C316.1 930.4 318.7 935.5 322.2 940.6C325.8 945.7 331.4 950.8 334.5 955.9C337.6 961 339.1 966.1 340.6 971.2C342.2 976.3 342.9 981.4 343.7 986.5C344.5 991.6 344.2 996.7 345.2 1001.9C346.2 1007 349.6 1012.1 349.8 1017.2C350.1 1022.3 348.3 1027.4 346.8 1032.5C345.2 1037.6 342.7 1043.7 340.6 1047.8C338.6 1051.9 336.8 1054.5 334.5 1057C332.2 1059.6 330.7 1063.1 326.8 1063.1C323 1063.1 317.9 1059.6 311.5 1057C305.1 1054.5 295.9 1050.9 288.5 1047.8C281.1 1044.8 273.7 1041.7 267.1 1038.6C260.4 1035.6 254.3 1033 248.7 1029.4C243.1 1025.9 236.4 1021.8 233.4 1017.2C230.3 1012.6 230.3 1005.9 230.3 1001.9C230.3 997.8 234.4 995.7 233.4 992.7C232.4 989.6 226.5 987.6 224.2 983.5C221.9 979.4 219.6 972.7 219.6 968.1C219.6 963.6 221.4 959.5 224.2 955.9C227 952.3 231.3 949.3 236.4 946.7C241.5 944.1 250.7 943.6 254.8 940.6C258.9 937.5 259.2 932.9 261 928.3C262.7 923.7 262.5 917.1 265.6 913Z" fill="none" stroke="#fd2424" stroke-width="6" mask="url(#mV)"/>
<path d="M221.1 965.1C226.2 960 246.7 957.4 257.9 955.9C269.1 954.4 278.3 956.9 288.5 955.9C298.7 954.9 311 948.2 319.2 949.8C327.3 951.3 333.5 959 337.6 965.1C341.6 971.2 342.4 980.4 343.7 986.5C345 992.7 344.2 996.7 345.2 1001.9C346.2 1007 349.6 1012.1 349.8 1017.2C350.1 1022.3 348.3 1027.4 346.8 1032.5C345.2 1037.6 342.7 1043.7 340.6 1047.8C338.6 1051.9 336.8 1054.5 334.5 1057C332.2 1059.6 330.7 1063.1 326.8 1063.1C323 1063.1 317.9 1059.6 311.5 1057C305.1 1054.5 295.9 1050.9 288.5 1047.8C281.1 1044.8 273.7 1041.7 267.1 1038.6C260.4 1035.6 254.3 1033 248.7 1029.4C243.1 1025.9 236.4 1021.8 233.4 1017.2C230.3 1012.6 231.3 1007 230.3 1001.9C229.3 996.7 228.8 992.7 227.2 986.5C225.7 980.4 216 970.2 221.1 965.1Z" fill="#fd2424" mask="url(#mK)"/>
<path d="M136.9 913C138.9 906.9 143.2 905.8 147.6 903.8C151.9 901.8 157.8 900.7 162.9 900.7C168 900.7 173.9 901.2 178.2 903.8C182.6 906.4 184.9 912 188.9 916.1C193 920.1 198.4 924.2 202.7 928.3C207.1 932.4 211.4 936.5 215 940.6C218.6 944.7 222.7 948.7 224.2 952.8C225.7 956.9 223.7 960.5 224.2 965.1C224.7 969.7 226.2 976.1 227.2 980.4C228.3 984.7 231.8 989.1 230.3 991.1C228.8 993.2 223.2 992.9 218.1 992.7C212.9 992.4 205.3 990.4 199.7 989.6C194.1 988.8 189.5 989.1 184.3 988.1C179.2 987 173.6 985.8 169 983.5C164.4 981.2 160.9 978.4 156.8 974.3C152.7 970.2 148.1 964.6 144.5 959C140.9 953.3 136.6 948.2 135.3 940.6C134 932.9 134.8 919.1 136.9 913Z" fill="#48a79b" mask="url(#mN)"/>
<path d="M136.9 913C138.9 906.9 143.2 905.8 147.6 903.8C151.9 901.8 157.8 900.7 162.9 900.7C168 900.7 173.9 901.2 178.2 903.8C182.6 906.4 184.9 912 188.9 916.1C193 920.1 198.4 924.2 202.7 928.3C207.1 932.4 211.4 936.5 215 940.6C218.6 944.7 222.7 948.7 224.2 952.8C225.7 956.9 223.7 960.5 224.2 965.1C224.7 969.7 226.2 976.1 227.2 980.4C228.3 984.7 231.8 989.1 230.3 991.1C228.8 993.2 223.2 992.9 218.1 992.7C212.9 992.4 205.3 990.4 199.7 989.6C194.1 988.8 189.5 989.1 184.3 988.1C179.2 987 173.6 985.8 169 983.5C164.4 981.2 160.9 978.4 156.8 974.3C152.7 970.2 148.1 964.6 144.5 959C140.9 953.3 136.6 948.2 135.3 940.6C134 932.9 134.8 919.1 136.9 913Z" fill="none" stroke="#48a79b" stroke-width="6" mask="url(#mL)"/>
<path d="M135.3 931.4C137.1 927.3 145.5 927.3 150.6 928.3C155.7 929.3 161.4 932.9 166 937.5C170.6 942.1 176.7 948.7 178.2 955.9C179.8 963 177.2 975.8 175.2 980.4C173.1 985 169.5 985 166 983.5C162.4 981.9 158 976.3 153.7 971.2C149.4 966.1 143 959.5 139.9 952.8C136.9 946.2 133.5 935.5 135.3 931.4Z" fill="#48a79b" mask="url(#mM)"/>
<path d="M135.3 931.4C137.1 927.3 145.5 927.3 150.6 928.3C155.7 929.3 161.4 932.9 166 937.5C170.6 942.1 176.7 948.7 178.2 955.9C179.8 963 177.2 975.8 175.2 980.4C173.1 985 169.5 985 166 983.5C162.4 981.9 158 976.3 153.7 971.2C149.4 966.1 143 959.5 139.9 952.8C136.9 946.2 133.5 935.5 135.3 931.4Z" fill="none" stroke="#48a79b" stroke-width="6" mask="url(#mV)"/>
<path d="M135.3 894.6C137.1 890.5 140.9 888 144.5 885.4C148.1 882.9 152.7 881.6 156.8 879.3C160.9 877 164.9 872.6 169 871.6C173.1 870.6 178.5 871.4 181.3 873.2C184.1 874.9 185.9 878.8 185.9 882.3C185.9 885.9 183.8 891.5 181.3 894.6C178.7 897.7 174.4 899.2 170.6 900.7C166.7 902.3 161.6 901.2 158.3 903.8C155 906.4 152.9 912 150.6 916.1C148.3 920.1 146.6 926.8 144.5 928.3C142.5 929.8 140.2 928.3 138.4 925.2C136.6 922.2 134.3 915 133.8 909.9C133.3 904.8 133.5 898.7 135.3 894.6Z" fill="#eef830" mask="url(#mM)"/>
<path d="M135.3 894.6C137.1 890.5 140.9 888 144.5 885.4C148.1 882.9 152.7 881.6 156.8 879.3C160.9 877 164.9 872.6 169 871.6C173.1 870.6 178.5 871.4 181.3 873.2C184.1 874.9 185.9 878.8 185.9 882.3C185.9 885.9 183.8 891.5 181.3 894.6C178.7 897.7 174.4 899.2 170.6 900.7C166.7 902.3 161.6 901.2 158.3 903.8C155 906.4 152.9 912 150.6 916.1C148.3 920.1 146.6 926.8 144.5 928.3C142.5 929.8 140.2 928.3 138.4 925.2C136.6 922.2 134.3 915 133.8 909.9C133.3 904.8 133.5 898.7 135.3 894.6Z" fill="none" stroke="#eef830" stroke-width="6" mask="url(#mV)"/>
<path d="M181.3 888.5C183.8 885.9 186.4 881.3 190.5 882.3C194.6 883.4 200.7 891 205.8 894.6C210.9 898.2 216 901.2 221.1 903.8C226.2 906.4 231.3 907.9 236.4 909.9C241.5 912 248.2 913 251.8 916.1C255.3 919.1 257.4 924.2 257.9 928.3C258.4 932.4 257.4 938.8 254.8 940.6C252.3 942.4 247.2 939.5 242.6 939C238 938.5 232.4 938.3 227.2 937.5C222.1 936.7 216.5 936 211.9 934.4C207.3 932.9 203.8 930.4 199.7 928.3C195.6 926.3 191 925.2 187.4 922.2C183.8 919.1 180.3 914 178.2 909.9C176.2 905.8 174.6 901.2 175.2 897.7C175.7 894.1 178.7 891 181.3 888.5Z" fill="#3d6c12" mask="url(#mM)"/>
<path d="M181.3 888.5C183.8 885.9 186.4 881.3 190.5 882.3C194.6 883.4 200.7 891 205.8 894.6C210.9 898.2 216 901.2 221.1 903.8C226.2 906.4 231.3 907.9 236.4 909.9C241.5 912 248.2 913 251.8 916.1C255.3 919.1 257.4 924.2 257.9 928.3C258.4 932.4 257.4 938.8 254.8 940.6C252.3 942.4 247.2 939.5 242.6 939C238 938.5 232.4 938.3 227.2 937.5C222.1 936.7 216.5 936 211.9 934.4C207.3 932.9 203.8 930.4 199.7 928.3C195.6 926.3 191 925.2 187.4 922.2C183.8 919.1 180.3 914 178.2 909.9C176.2 905.8 174.6 901.2 175.2 897.7C175.7 894.1 178.7 891 181.3 888.5Z" fill="none" stroke="#3d6c12" stroke-width="6" mask="url(#mV)"/>
<path d="M254.8 886.9C255.8 882.6 258.4 878 261 877.8C263.5 877.5 267.6 881.1 270.1 885.4C272.7 889.8 274.5 898.2 276.3 903.8C278.1 909.4 280.9 914.5 280.9 919.1C280.9 923.7 278.8 927.3 276.3 931.4C273.7 935.5 268.6 939.5 265.6 943.6C262.5 947.7 260.2 954.4 257.9 955.9C255.6 957.4 252.8 955.9 251.8 952.8C250.7 949.8 250.7 942.6 251.8 937.5C252.8 932.4 257.4 927.8 257.9 922.2C258.4 916.6 255.3 909.7 254.8 903.8C254.3 897.9 253.8 891.3 254.8 886.9Z" fill="#7cf23a" mask="url(#mM)"/>
<path d="M254.8 886.9C255.8 882.6 258.4 878 261 877.8C263.5 877.5 267.6 881.1 270.1 885.4C272.7 889.8 274.5 898.2 276.3 903.8C278.1 909.4 280.9 914.5 280.9 919.1C280.9 923.7 278.8 927.3 276.3 931.4C273.7 935.5 268.6 939.5 265.6 943.6C262.5 947.7 260.2 954.4 257.9 955.9C255.6 957.4 252.8 955.9 251.8 952.8C250.7 949.8 250.7 942.6 251.8 937.5C252.8 932.4 257.4 927.8 257.9 922.2C258.4 916.6 255.3 909.7 254.8 903.8C254.3 897.9 253.8 891.3 254.8 886.9Z" fill="none" stroke="#7cf23a" stroke-width="6" mask="url(#mV)"/>
<path d="M300.8 853.2C305.1 846.6 327.3 842.3 337.6 851.7C347.8 861.2 361.3 899.2 362.1 909.9C362.8 920.7 350.6 919.1 342.2 916.1C333.7 913 318.4 902 311.5 891.5C304.6 881.1 296.4 859.9 300.8 853.2Z" fill="#e89b3e" mask="url(#mX)"/>
<path d="M193.5 873.2C195.6 870.3 217.5 870.6 224.2 874.7C230.8 878.8 235.4 894.9 233.4 897.7C231.3 900.5 218.6 895.6 211.9 891.5C205.3 887.5 191.5 876 193.5 873.2Z" fill="#a222f0" mask="url(#mW)"/>
<text x="246.6" y="808" font-size="25.5" fill="#000" text-anchor="middle" stroke="#000" stroke-width="0.55">HIV-</text>
<path d="M518.4 809.7V1089.7M612.8 809.7V1089.7M706.6 809.7V1089.7M476.7 844.5H760.5M476.7 895.4H760.5M476.7 947.2H760.5M476.7 998.1H760.5M476.7 1050.1H760.5" stroke="#c9c9c9" stroke-width="1.1" fill="none"/>
<path d="M468.5 844.4H476.1M468.5 895.8H476.1M468.5 947.2H476.1M468.5 998.6H476.1M468.5 1050H476.1M518.8 1093.2V1100M612.8 1093.2V1100M706.8 1093.2V1100" stroke="#111" stroke-width="2" fill="none"/>
<path d="M472.4 813.6H476.1M472.4 823.8H476.1M472.4 834.1H476.1M472.4 854.7H476.1M472.4 865H476.1M472.4 875.2H476.1M472.4 885.5H476.1M472.4 906.1H476.1M472.4 916.4H476.1M472.4 926.6H476.1M472.4 936.9H476.1M472.4 957.5H476.1M472.4 967.8H476.1M472.4 978H476.1M472.4 988.3H476.1M472.4 1008.9H476.1M472.4 1019.2H476.1M472.4 1029.4H476.1M472.4 1039.7H476.1M542.3 1093.2V1096.8M565.8 1093.2V1096.8M589.3 1093.2V1096.8M636.3 1093.2V1096.8M659.8 1093.2V1096.8M683.3 1093.2V1096.8M730.3 1093.2V1096.8M753.8 1093.2V1096.8" stroke="#222" stroke-width="1.2" fill="none"/>
<g font-size="11.5" fill="#1a1a1a" stroke="#1a1a1a" stroke-width="0.3" text-anchor="end">
<text x="463" y="847.5">10</text>
<text x="463" y="898.4">5.0</text>
<text x="463" y="950.2">0</text>
<text x="463" y="1001.1">−5.0</text>
<text x="463" y="1053.1">−9</text>
</g><g font-size="11.5" fill="#1a1a1a" stroke="#1a1a1a" stroke-width="0.3" text-anchor="middle">
<text x="518.4" y="1112.2">−9</text>
<text x="612.8" y="1112.2">0</text>
<text x="706.6" y="1112.2">10</text>
</g>
<path d="M636.1 909.2C640.5 904.1 645.8 905.3 649.9 903C654 900.7 657.6 895.4 660.6 895.4C663.7 895.4 664.7 898.2 668.3 903C671.9 907.9 678.2 917.8 682.1 924.5C685.9 931.1 688.2 937.8 691.3 942.9C694.3 948 697.1 950.5 700.5 955.1C703.8 959.7 708.4 965.3 711.2 970.4C714 975.6 716 979.4 717.3 985.8C718.6 992.2 718.6 1001.1 718.8 1008.7C719.1 1016.4 719.9 1025.3 718.8 1031.7C717.8 1038.1 714.8 1042.7 712.7 1047.1C710.7 1051.4 709.4 1055.2 706.6 1057.8C703.8 1060.3 700.2 1062.1 695.9 1062.4C691.5 1062.6 686.9 1061.9 680.5 1059.3C674.2 1056.8 665.2 1050.6 657.6 1047.1C649.9 1043.5 642.2 1040.9 634.6 1037.9C626.9 1034.8 617 1032.8 611.6 1028.7C606.2 1024.6 604.5 1018.5 602.4 1013.3C600.4 1008.2 600.4 1003.1 599.3 998C598.3 992.9 598.1 987.3 596.3 982.7C594.5 978.1 590.2 975 588.6 970.4C587.1 965.8 585.8 960.2 587.1 955.1C588.4 950 592.2 943.4 596.3 939.8C600.4 936.2 607 934.7 611.6 933.7C616.2 932.7 619.8 937.8 623.9 933.7C627.9 929.6 631.8 914.3 636.1 909.2Z" fill="#fd2424" mask="url(#mL)"/>
<path d="M636.1 909.2C640.5 904.1 645.8 905.3 649.9 903C654 900.7 657.6 895.4 660.6 895.4C663.7 895.4 664.7 898.2 668.3 903C671.9 907.9 678.2 917.8 682.1 924.5C685.9 931.1 688.2 937.8 691.3 942.9C694.3 948 697.1 950.5 700.5 955.1C703.8 959.7 708.4 965.3 711.2 970.4C714 975.6 716 979.4 717.3 985.8C718.6 992.2 718.6 1001.1 718.8 1008.7C719.1 1016.4 719.9 1025.3 718.8 1031.7C717.8 1038.1 714.8 1042.7 712.7 1047.1C710.7 1051.4 709.4 1055.2 706.6 1057.8C703.8 1060.3 700.2 1062.1 695.9 1062.4C691.5 1062.6 686.9 1061.9 680.5 1059.3C674.2 1056.8 665.2 1050.6 657.6 1047.1C649.9 1043.5 642.2 1040.9 634.6 1037.9C626.9 1034.8 617 1032.8 611.6 1028.7C606.2 1024.6 604.5 1018.5 602.4 1013.3C600.4 1008.2 600.4 1003.1 599.3 998C598.3 992.9 598.1 987.3 596.3 982.7C594.5 978.1 590.2 975 588.6 970.4C587.1 965.8 585.8 960.2 587.1 955.1C588.4 950 592.2 943.4 596.3 939.8C600.4 936.2 607 934.7 611.6 933.7C616.2 932.7 619.8 937.8 623.9 933.7C627.9 929.6 631.8 914.3 636.1 909.2Z" fill="none" stroke="#fd2424" stroke-width="6" mask="url(#mV)"/>
<path d="M590.2 964.3C595.5 960.7 615.7 961.3 626.9 961.3C638.2 961.3 647.3 965.8 657.6 964.3C667.8 962.8 680 952.1 688.2 952.1C696.4 952.1 701.7 958.7 706.6 964.3C711.4 969.9 715.3 978.4 717.3 985.8C719.4 993.2 718.6 1001.1 718.8 1008.7C719.1 1016.4 719.9 1025.3 718.8 1031.7C717.8 1038.1 714.8 1042.7 712.7 1047.1C710.7 1051.4 709.4 1055.2 706.6 1057.8C703.8 1060.3 700.2 1062.1 695.9 1062.4C691.5 1062.6 686.9 1061.9 680.5 1059.3C674.2 1056.8 665.2 1050.6 657.6 1047.1C649.9 1043.5 642.2 1040.9 634.6 1037.9C626.9 1034.8 617 1032.8 611.6 1028.7C606.2 1024.6 604.5 1018.5 602.4 1013.3C600.4 1008.2 600.6 1003.1 599.3 998C598.1 992.9 596.3 988.3 594.7 982.7C593.2 977.1 584.8 967.9 590.2 964.3Z" fill="#fd2424" mask="url(#mK)"/>
<path d="M505.9 909.2C507.4 905.1 510 904.1 513.5 903C517.1 902 522.5 902 527.3 903C532.2 904.1 537.5 907.1 542.7 909.2C547.8 911.2 552.6 913.2 558 915.3C563.3 917.3 570 918.4 574.8 921.4C579.7 924.5 583.5 930.1 587.1 933.7C590.7 937.2 594.2 939.3 596.3 942.9C598.3 946.4 599.3 950.5 599.3 955.1C599.3 959.7 595.8 965.8 596.3 970.4C596.8 975 601.9 979.1 602.4 982.7C602.9 986.3 602.4 990.1 599.3 991.9C596.3 993.7 589.6 993.7 584 993.4C578.4 993.2 571.3 990.6 565.6 990.4C560 990.1 554.9 992.2 550.3 991.9C545.7 991.6 542.4 991.4 538.1 988.8C533.7 986.3 528.4 981.2 524.3 976.6C520.2 972 516.6 966.1 513.5 961.3C510.5 956.4 507.4 953.1 505.9 947.5C504.4 941.8 504.4 933.9 504.4 927.5C504.4 921.2 504.4 913.2 505.9 909.2Z" fill="#48a79b" mask="url(#mN)"/>
<path d="M505.9 909.2C507.4 905.1 510 904.1 513.5 903C517.1 902 522.5 902 527.3 903C532.2 904.1 537.5 907.1 542.7 909.2C547.8 911.2 552.6 913.2 558 915.3C563.3 917.3 570 918.4 574.8 921.4C579.7 924.5 583.5 930.1 587.1 933.7C590.7 937.2 594.2 939.3 596.3 942.9C598.3 946.4 599.3 950.5 599.3 955.1C599.3 959.7 595.8 965.8 596.3 970.4C596.8 975 601.9 979.1 602.4 982.7C602.9 986.3 602.4 990.1 599.3 991.9C596.3 993.7 589.6 993.7 584 993.4C578.4 993.2 571.3 990.6 565.6 990.4C560 990.1 554.9 992.2 550.3 991.9C545.7 991.6 542.4 991.4 538.1 988.8C533.7 986.3 528.4 981.2 524.3 976.6C520.2 972 516.6 966.1 513.5 961.3C510.5 956.4 507.4 953.1 505.9 947.5C504.4 941.8 504.4 933.9 504.4 927.5C504.4 921.2 504.4 913.2 505.9 909.2Z" fill="none" stroke="#48a79b" stroke-width="6" mask="url(#mL)"/>
<path d="M505.9 927.5C507.7 923.5 513.5 923.5 519.7 924.5C525.8 925.5 535.5 930.1 542.7 933.7C549.8 937.2 557.2 940.8 562.6 945.9C567.9 951 573.8 958.7 574.8 964.3C575.9 969.9 572.8 976.1 568.7 979.6C564.6 983.2 555.9 985.8 550.3 985.8C544.7 985.8 540.1 983.2 535 979.6C529.9 976.1 524 969.4 519.7 964.3C515.3 959.2 511.2 955.1 508.9 949C506.7 942.9 504.1 931.6 505.9 927.5Z" fill="#48a79b" mask="url(#mM)"/>
<path d="M505.9 927.5C507.7 923.5 513.5 923.5 519.7 924.5C525.8 925.5 535.5 930.1 542.7 933.7C549.8 937.2 557.2 940.8 562.6 945.9C567.9 951 573.8 958.7 574.8 964.3C575.9 969.9 572.8 976.1 568.7 979.6C564.6 983.2 555.9 985.8 550.3 985.8C544.7 985.8 540.1 983.2 535 979.6C529.9 976.1 524 969.4 519.7 964.3C515.3 959.2 511.2 955.1 508.9 949C506.7 942.9 504.1 931.6 505.9 927.5Z" fill="none" stroke="#48a79b" stroke-width="6" mask="url(#mV)"/>
<path d="M502.8 884.6C504.6 880.7 508.2 880.3 512 879.3C515.8 878.3 521.2 878.9 525.8 878.5C530.4 878.1 535 876.5 539.6 877C544.2 877.5 550.6 879.3 553.4 881.6C556.2 883.9 557.5 888.2 556.4 890.8C555.4 893.3 550.8 895.6 547.3 896.9C543.7 898.2 538.8 897.4 535 898.4C531.2 899.5 526.8 900 524.3 903C521.7 906.1 521.5 913.2 519.7 916.8C517.9 920.4 515.8 924.2 513.5 924.5C511.2 924.7 507.9 921.9 505.9 918.4C503.8 914.8 501.8 908.7 501.3 903C500.8 897.4 501 888.6 502.8 884.6Z" fill="#eef830" mask="url(#mD)"/>
<path d="M502.8 884.6C504.6 880.7 508.2 880.3 512 879.3C515.8 878.3 521.2 878.9 525.8 878.5C530.4 878.1 535 876.5 539.6 877C544.2 877.5 550.6 879.3 553.4 881.6C556.2 883.9 557.5 888.2 556.4 890.8C555.4 893.3 550.8 895.6 547.3 896.9C543.7 898.2 538.8 897.4 535 898.4C531.2 899.5 526.8 900 524.3 903C521.7 906.1 521.5 913.2 519.7 916.8C517.9 920.4 515.8 924.2 513.5 924.5C511.2 924.7 507.9 921.9 505.9 918.4C503.8 914.8 501.8 908.7 501.3 903C500.8 897.4 501 888.6 502.8 884.6Z" fill="none" stroke="#eef830" stroke-width="6" mask="url(#mL)"/>
<path d="M535 854C535.5 852.7 539.3 849.9 541.1 847.9C542.9 845.8 545.2 841.2 545.7 841.7C546.2 842.3 545.5 848.6 544.2 850.9C542.9 853.2 539.6 855 538.1 855.5C536.5 856 534.5 855.3 535 854Z" fill="#eef830" mask="url(#mW)"/>
<path d="M548.8 887.7C550.8 886.2 555.2 883.6 559.5 884.6C563.8 885.7 570 890.8 574.8 893.8C579.7 896.9 583.8 900.5 588.6 903C593.5 905.6 599.3 907.1 603.9 909.2C608.5 911.2 612.9 912.7 616.2 915.3C619.5 917.8 622.6 921.2 623.9 924.5C625.1 927.8 625.4 932.9 623.9 935.2C622.3 937.5 618.8 938 614.7 938.3C610.6 938.5 604.2 937.5 599.3 936.7C594.5 936 589.6 935.2 585.6 933.7C581.5 932.1 578.9 930.6 574.8 927.5C570.7 924.5 565.1 919.4 561 915.3C557 911.2 552.6 906.6 550.3 903C548 899.5 547.5 896.4 547.3 893.8C547 891.3 546.7 889.2 548.8 887.7Z" fill="#3d6c12" mask="url(#mM)"/>
<path d="M548.8 887.7C550.8 886.2 555.2 883.6 559.5 884.6C563.8 885.7 570 890.8 574.8 893.8C579.7 896.9 583.8 900.5 588.6 903C593.5 905.6 599.3 907.1 603.9 909.2C608.5 911.2 612.9 912.7 616.2 915.3C619.5 917.8 622.6 921.2 623.9 924.5C625.1 927.8 625.4 932.9 623.9 935.2C622.3 937.5 618.8 938 614.7 938.3C610.6 938.5 604.2 937.5 599.3 936.7C594.5 936 589.6 935.2 585.6 933.7C581.5 932.1 578.9 930.6 574.8 927.5C570.7 924.5 565.1 919.4 561 915.3C557 911.2 552.6 906.6 550.3 903C548 899.5 547.5 896.4 547.3 893.8C547 891.3 546.7 889.2 548.8 887.7Z" fill="none" stroke="#3d6c12" stroke-width="6" mask="url(#mV)"/>
<path d="M623.9 883.1C626.2 879.5 632.8 881.3 636.1 881.6C639.4 881.8 641.7 882.1 643.8 884.6C645.8 887.2 647.6 891.8 648.4 896.9C649.1 902 649.1 909.7 648.4 915.3C647.6 920.9 645.8 926.5 643.8 930.6C641.7 934.7 638.9 936.5 636.1 939.8C633.3 943.1 629.5 948.5 626.9 950.5C624.4 952.6 621.8 953.8 620.8 952.1C619.8 950.3 620.3 944.4 620.8 939.8C621.3 935.2 623.6 930.6 623.9 924.5C624.1 918.4 622.3 909.9 622.3 903C622.3 896.1 621.6 886.7 623.9 883.1Z" fill="#7cf23a" mask="url(#mM)"/>
<path d="M623.9 883.1C626.2 879.5 632.8 881.3 636.1 881.6C639.4 881.8 641.7 882.1 643.8 884.6C645.8 887.2 647.6 891.8 648.4 896.9C649.1 902 649.1 909.7 648.4 915.3C647.6 920.9 645.8 926.5 643.8 930.6C641.7 934.7 638.9 936.5 636.1 939.8C633.3 943.1 629.5 948.5 626.9 950.5C624.4 952.6 621.8 953.8 620.8 952.1C619.8 950.3 620.3 944.4 620.8 939.8C621.3 935.2 623.6 930.6 623.9 924.5C624.1 918.4 622.3 909.9 622.3 903C622.3 896.1 621.6 886.7 623.9 883.1Z" fill="none" stroke="#7cf23a" stroke-width="6" mask="url(#mV)"/>
<path d="M665.2 844.8C672.4 836.6 705.3 836.6 715.8 844.8C726.3 853 726.3 879.3 728 893.8C729.8 908.4 730.6 927 726.5 932.1C722.4 937.2 712.5 930.9 703.5 924.5C694.6 918.1 679.3 907.1 672.9 893.8C666.5 880.6 658.1 853 665.2 844.8Z" fill="#e89b3e" mask="url(#mX)"/>
<path d="M544.2 841.7C545.7 839.7 549.3 836.1 556.4 841.7C563.6 847.4 584 868.8 587.1 875.5C590.2 882.1 581.5 885.2 574.8 881.6C568.2 878 552.4 860.6 547.3 854C542.1 847.4 542.7 843.8 544.2 841.7Z" fill="#a222f0" mask="url(#mW)"/>
<text x="608.8" y="808" font-size="25.5" fill="#000" text-anchor="middle" stroke="#000" stroke-width="0.55">PLHIV-ART&lt;3m</text>
<path d="M887.9 809.2V1089.2M982.3 809.2V1089.2M1076.1 809.2V1089.2M846.2 844H1130M846.2 894.9H1130M846.2 946.7H1130M846.2 997.6H1130M846.2 1049.6H1130" stroke="#c9c9c9" stroke-width="1.1" fill="none"/>
<path d="M838 843.9H845.6M838 895.3H845.6M838 946.7H845.6M838 998.1H845.6M838 1049.5H845.6M888.3 1092.7V1099.5M982.3 1092.7V1099.5M1076.3 1092.7V1099.5" stroke="#111" stroke-width="2" fill="none"/>
<path d="M841.9 813.1H845.6M841.9 823.3H845.6M841.9 833.6H845.6M841.9 854.2H845.6M841.9 864.5H845.6M841.9 874.7H845.6M841.9 885H845.6M841.9 905.6H845.6M841.9 915.9H845.6M841.9 926.1H845.6M841.9 936.4H845.6M841.9 957H845.6M841.9 967.3H845.6M841.9 977.5H845.6M841.9 987.8H845.6M841.9 1008.4H845.6M841.9 1018.7H845.6M841.9 1028.9H845.6M841.9 1039.2H845.6M911.8 1092.7V1096.3M935.3 1092.7V1096.3M958.8 1092.7V1096.3M1005.8 1092.7V1096.3M1029.3 1092.7V1096.3M1052.8 1092.7V1096.3M1099.8 1092.7V1096.3M1123.3 1092.7V1096.3" stroke="#222" stroke-width="1.2" fill="none"/>
<g font-size="11.5" fill="#1a1a1a" stroke="#1a1a1a" stroke-width="0.3" text-anchor="end">
<text x="832.5" y="847">10</text>
<text x="832.5" y="897.9">5.0</text>
<text x="832.5" y="949.7">0</text>
<text x="832.5" y="1000.6">−5.0</text>
<text x="832.5" y="1052.6">−9</text>
</g><g font-size="11.5" fill="#1a1a1a" stroke="#1a1a1a" stroke-width="0.3" text-anchor="middle">
<text x="887.9" y="1111.7">−9</text>
<text x="982.3" y="1111.7">0</text>
<text x="1076.1" y="1111.7">10</text>
</g>
<path d="M961.6 937.5C965.7 932.4 969.8 929.3 973.9 925.2C978 921.2 982.1 915.5 986.1 913C990.2 910.4 994.1 911.5 998.4 909.9C1002.7 908.4 1008.1 905.8 1012.2 903.8C1016.3 901.8 1019.6 897.7 1022.9 897.7C1026.2 897.7 1030.1 900.5 1032.1 903.8C1034.2 907.1 1032.6 912.5 1035.2 917.6C1037.7 922.7 1043.3 929.1 1047.4 934.4C1051.5 939.8 1056.1 944.7 1059.7 949.8C1063.3 954.9 1066.3 959 1068.9 965.1C1071.4 971.2 1073 980.4 1075 986.5C1077.1 992.7 1079.1 996.7 1081.1 1001.9C1083.2 1007 1086.2 1011.6 1087.3 1017.2C1088.3 1022.8 1088.3 1029.9 1087.3 1035.6C1086.2 1041.2 1083.7 1046.8 1081.1 1050.9C1078.6 1055 1075.5 1058 1071.9 1060.1C1068.4 1062.1 1064.5 1063.1 1059.7 1063.1C1054.8 1063.1 1047.9 1062.1 1042.8 1060.1C1037.7 1058 1034.2 1055 1029 1050.9C1023.9 1046.8 1017.6 1039.9 1012.2 1035.6C1006.8 1031.2 1001.7 1028.4 996.9 1024.8C992 1021.3 986.9 1017.4 983.1 1014.1C979.3 1010.8 977 1007.5 973.9 1004.9C970.8 1002.4 967.3 1001.9 964.7 998.8C962.1 995.7 960.6 991.1 958.6 986.5C956.5 981.9 954 976.3 952.4 971.2C950.9 966.1 947.8 961.5 949.4 955.9C950.9 950.3 957.5 942.6 961.6 937.5Z" fill="#fd2424" mask="url(#mL)"/>
<path d="M961.6 937.5C965.7 932.4 969.8 929.3 973.9 925.2C978 921.2 982.1 915.5 986.1 913C990.2 910.4 994.1 911.5 998.4 909.9C1002.7 908.4 1008.1 905.8 1012.2 903.8C1016.3 901.8 1019.6 897.7 1022.9 897.7C1026.2 897.7 1030.1 900.5 1032.1 903.8C1034.2 907.1 1032.6 912.5 1035.2 917.6C1037.7 922.7 1043.3 929.1 1047.4 934.4C1051.5 939.8 1056.1 944.7 1059.7 949.8C1063.3 954.9 1066.3 959 1068.9 965.1C1071.4 971.2 1073 980.4 1075 986.5C1077.1 992.7 1079.1 996.7 1081.1 1001.9C1083.2 1007 1086.2 1011.6 1087.3 1017.2C1088.3 1022.8 1088.3 1029.9 1087.3 1035.6C1086.2 1041.2 1083.7 1046.8 1081.1 1050.9C1078.6 1055 1075.5 1058 1071.9 1060.1C1068.4 1062.1 1064.5 1063.1 1059.7 1063.1C1054.8 1063.1 1047.9 1062.1 1042.8 1060.1C1037.7 1058 1034.2 1055 1029 1050.9C1023.9 1046.8 1017.6 1039.9 1012.2 1035.6C1006.8 1031.2 1001.7 1028.4 996.9 1024.8C992 1021.3 986.9 1017.4 983.1 1014.1C979.3 1010.8 977 1007.5 973.9 1004.9C970.8 1002.4 967.3 1001.9 964.7 998.8C962.1 995.7 960.6 991.1 958.6 986.5C956.5 981.9 954 976.3 952.4 971.2C950.9 966.1 947.8 961.5 949.4 955.9C950.9 950.3 957.5 942.6 961.6 937.5Z" fill="none" stroke="#fd2424" stroke-width="6" mask="url(#mV)"/>
<path d="M952.4 963.6C955 960 965.2 966.4 973.9 965.1C982.6 963.8 994.3 957.9 1004.5 955.9C1014.7 953.8 1026.2 952.8 1035.2 952.8C1044.1 952.8 1051.5 950.3 1058.2 955.9C1064.8 961.5 1071.2 978.9 1075 986.5C1078.8 994.2 1079.1 996.7 1081.1 1001.9C1083.2 1007 1086.2 1011.6 1087.3 1017.2C1088.3 1022.8 1088.3 1029.9 1087.3 1035.6C1086.2 1041.2 1083.7 1046.8 1081.1 1050.9C1078.6 1055 1075.5 1058 1071.9 1060.1C1068.4 1062.1 1064.5 1063.1 1059.7 1063.1C1054.8 1063.1 1047.9 1062.1 1042.8 1060.1C1037.7 1058 1034.2 1055 1029 1050.9C1023.9 1046.8 1017.6 1039.9 1012.2 1035.6C1006.8 1031.2 1001.7 1028.4 996.9 1024.8C992 1021.3 986.9 1017.4 983.1 1014.1C979.3 1010.8 977 1007.5 973.9 1004.9C970.8 1002.4 967.3 1001.9 964.7 998.8C962.1 995.7 960.6 992.4 958.6 986.5C956.5 980.7 949.9 967.1 952.4 963.6Z" fill="#fd2424" mask="url(#mK)"/>
<path d="M1027.5 1032.5C1030.6 1027.9 1049.2 1028.2 1058.2 1029.4C1067.1 1030.7 1077.8 1035.6 1081.1 1040.2C1084.5 1044.8 1081.4 1053.2 1078.1 1057C1074.8 1060.8 1067.6 1063.1 1061.2 1063.1C1054.8 1063.1 1045.4 1062.1 1039.8 1057C1034.2 1051.9 1024.5 1037.1 1027.5 1032.5Z" fill="#fd2424" mask="url(#mM)"/>
<path d="M1027.5 1032.5C1030.6 1027.9 1049.2 1028.2 1058.2 1029.4C1067.1 1030.7 1077.8 1035.6 1081.1 1040.2C1084.5 1044.8 1081.4 1053.2 1078.1 1057C1074.8 1060.8 1067.6 1063.1 1061.2 1063.1C1054.8 1063.1 1045.4 1062.1 1039.8 1057C1034.2 1051.9 1024.5 1037.1 1027.5 1032.5Z" fill="none" stroke="#fd2424" stroke-width="6" mask="url(#mV)"/>
<path d="M882 909.9C884.8 905.8 889.6 904.3 894.2 903.8C898.8 903.3 903.9 904.8 909.5 906.9C915.2 908.9 922.3 912.5 927.9 916.1C933.5 919.6 938.1 924.7 943.2 928.3C948.4 931.9 955 933.9 958.6 937.5C962.1 941.1 964.2 945.2 964.7 949.8C965.2 954.4 961.6 960 961.6 965.1C961.6 970.2 965.2 975.8 964.7 980.4C964.2 985 962.1 990.9 958.6 992.7C955 994.4 949.4 991.4 943.2 991.1C937.1 990.9 928.4 991.9 921.8 991.1C915.2 990.4 908.5 988.8 903.4 986.5C898.3 984.2 894.7 980.9 891.2 977.3C887.6 973.8 884.3 969.9 882 965.1C879.7 960.2 878.1 954.4 877.4 948.2C876.6 942.1 876.6 934.7 877.4 928.3C878.1 921.9 879.2 914 882 909.9Z" fill="#48a79b" mask="url(#mN)"/>
<path d="M882 909.9C884.8 905.8 889.6 904.3 894.2 903.8C898.8 903.3 903.9 904.8 909.5 906.9C915.2 908.9 922.3 912.5 927.9 916.1C933.5 919.6 938.1 924.7 943.2 928.3C948.4 931.9 955 933.9 958.6 937.5C962.1 941.1 964.2 945.2 964.7 949.8C965.2 954.4 961.6 960 961.6 965.1C961.6 970.2 965.2 975.8 964.7 980.4C964.2 985 962.1 990.9 958.6 992.7C955 994.4 949.4 991.4 943.2 991.1C937.1 990.9 928.4 991.9 921.8 991.1C915.2 990.4 908.5 988.8 903.4 986.5C898.3 984.2 894.7 980.9 891.2 977.3C887.6 973.8 884.3 969.9 882 965.1C879.7 960.2 878.1 954.4 877.4 948.2C876.6 942.1 876.6 934.7 877.4 928.3C878.1 921.9 879.2 914 882 909.9Z" fill="none" stroke="#48a79b" stroke-width="6" mask="url(#mL)"/>
<path d="M878.9 925.2C880.9 919.6 889.1 919.6 894.2 922.2C899.3 924.7 903.9 935 909.5 940.6C915.2 946.2 921.8 950.8 927.9 955.9C934.1 961 941.7 966.1 946.3 971.2C950.9 976.3 957.5 983.5 955.5 986.5C953.5 989.6 941.7 989.6 934.1 989.6C926.4 989.6 916.2 989.1 909.5 986.5C902.9 984 898.8 979.4 894.2 974.3C889.6 969.2 884.5 964.1 882 955.9C879.4 947.7 876.9 930.9 878.9 925.2Z" fill="#48a79b" mask="url(#mM)"/>
<path d="M878.9 925.2C880.9 919.6 889.1 919.6 894.2 922.2C899.3 924.7 903.9 935 909.5 940.6C915.2 946.2 921.8 950.8 927.9 955.9C934.1 961 941.7 966.1 946.3 971.2C950.9 976.3 957.5 983.5 955.5 986.5C953.5 989.6 941.7 989.6 934.1 989.6C926.4 989.6 916.2 989.1 909.5 986.5C902.9 984 898.8 979.4 894.2 974.3C889.6 969.2 884.5 964.1 882 955.9C879.4 947.7 876.9 930.9 878.9 925.2Z" fill="none" stroke="#48a79b" stroke-width="6" mask="url(#mV)"/>
<path d="M892.7 882.3C894.5 878.5 898.6 874.2 901.9 871.6C905.2 869.1 909.3 866.8 912.6 867C915.9 867.3 919.8 870.6 921.8 873.2C923.8 875.7 925.1 879.3 924.9 882.3C924.6 885.4 922.8 889 920.3 891.5C917.7 894.1 913.4 896.1 909.5 897.7C905.7 899.2 900.3 901.2 897.3 900.7C894.2 900.2 891.9 897.7 891.2 894.6C890.4 891.5 890.9 886.2 892.7 882.3Z" fill="#eef830" mask="url(#mD)"/>
<path d="M892.7 882.3C894.5 878.5 898.6 874.2 901.9 871.6C905.2 869.1 909.3 866.8 912.6 867C915.9 867.3 919.8 870.6 921.8 873.2C923.8 875.7 925.1 879.3 924.9 882.3C924.6 885.4 922.8 889 920.3 891.5C917.7 894.1 913.4 896.1 909.5 897.7C905.7 899.2 900.3 901.2 897.3 900.7C894.2 900.2 891.9 897.7 891.2 894.6C890.4 891.5 890.9 886.2 892.7 882.3Z" fill="none" stroke="#eef830" stroke-width="6" mask="url(#mL)"/>
<path d="M900.3 897.7C901.9 893.1 908 887.5 912.6 885.4C917.2 883.4 922.8 884.4 927.9 885.4C933 886.4 938.1 889 943.2 891.5C948.4 894.1 953.5 897.7 958.6 900.7C963.7 903.8 969.3 907.4 973.9 909.9C978.5 912.5 983.6 913 986.1 916.1C988.7 919.1 989.7 924.7 989.2 928.3C988.7 931.9 986.7 936 983.1 937.5C979.5 939 973.4 938 967.8 937.5C962.1 937 955.5 936 949.4 934.4C943.2 932.9 936.6 930.4 931 928.3C925.4 926.3 920.3 924.7 915.7 922.2C911.1 919.6 906 917.1 903.4 913C900.9 908.9 898.8 902.3 900.3 897.7Z" fill="#3d6c12" mask="url(#mM)"/>
<path d="M900.3 897.7C901.9 893.1 908 887.5 912.6 885.4C917.2 883.4 922.8 884.4 927.9 885.4C933 886.4 938.1 889 943.2 891.5C948.4 894.1 953.5 897.7 958.6 900.7C963.7 903.8 969.3 907.4 973.9 909.9C978.5 912.5 983.6 913 986.1 916.1C988.7 919.1 989.7 924.7 989.2 928.3C988.7 931.9 986.7 936 983.1 937.5C979.5 939 973.4 938 967.8 937.5C962.1 937 955.5 936 949.4 934.4C943.2 932.9 936.6 930.4 931 928.3C925.4 926.3 920.3 924.7 915.7 922.2C911.1 919.6 906 917.1 903.4 913C900.9 908.9 898.8 902.3 900.3 897.7Z" fill="none" stroke="#3d6c12" stroke-width="6" mask="url(#mV)"/>
<path d="M995.3 897.7C997.1 893.8 1001.7 888 1004.5 886.9C1007.3 885.9 1010.2 887.7 1012.2 891.5C1014.2 895.4 1015.8 904.3 1016.8 909.9C1017.8 915.5 1019.9 921.2 1018.3 925.2C1016.8 929.3 1010.4 929.8 1007.6 934.4C1004.8 939 1003.5 949.3 1001.5 952.8C999.4 956.4 996.9 957.9 995.3 955.9C993.8 953.8 992.3 945.7 992.3 940.6C992.3 935.5 995.1 930.4 995.3 925.2C995.6 920.1 993.8 914.5 993.8 909.9C993.8 905.3 993.6 901.5 995.3 897.7Z" fill="#7cf23a" mask="url(#mM)"/>
<path d="M995.3 897.7C997.1 893.8 1001.7 888 1004.5 886.9C1007.3 885.9 1010.2 887.7 1012.2 891.5C1014.2 895.4 1015.8 904.3 1016.8 909.9C1017.8 915.5 1019.9 921.2 1018.3 925.2C1016.8 929.3 1010.4 929.8 1007.6 934.4C1004.8 939 1003.5 949.3 1001.5 952.8C999.4 956.4 996.9 957.9 995.3 955.9C993.8 953.8 992.3 945.7 992.3 940.6C992.3 935.5 995.1 930.4 995.3 925.2C995.6 920.1 993.8 914.5 993.8 909.9C993.8 905.3 993.6 901.5 995.3 897.7Z" fill="none" stroke="#7cf23a" stroke-width="6" mask="url(#mV)"/>
<path d="M1042.8 853.2C1047.4 844.8 1072.7 844.8 1081.1 853.2C1089.6 861.7 1092.9 893.3 1093.4 903.8C1093.9 914.3 1090.8 916.1 1084.2 916.1C1077.6 916.1 1060.5 914.3 1053.6 903.8C1046.7 893.3 1038.2 861.7 1042.8 853.2Z" fill="#e89b3e" mask="url(#mW)"/>
<path d="M918.7 882.3C918.7 878 926.9 862.7 931 856.3C935.1 849.9 939.9 846.1 943.2 844C946.6 842 950.9 840.7 950.9 844C950.9 847.4 946.6 857.6 943.2 864C939.9 870.3 935.1 879.3 931 882.3C926.9 885.4 918.7 886.7 918.7 882.3Z" fill="#a222f0" mask="url(#mW)"/>
<text x="972.5" y="808" font-size="25.5" fill="#000" text-anchor="middle" stroke="#000" stroke-width="0.55">PLHIV ART&gt;1yr</text>
<path d="M23.1 1155.6V769M23.1 1155.6H408" stroke="#222" stroke-width="1.6" fill="none"/>
<path d="M23.1 758.5L17 771L29.2 771Z" fill="#000"/>
<path d="M420.5 1155.6L407 1149.2L407 1162Z" fill="#000"/>
<text transform="translate(31 696) rotate(-90)" font-size="25.5" fill="#000" text-anchor="middle" stroke="#000" stroke-width="0.55">UMAP 2</text>
<text x="436.5" y="1163.6" font-size="25.5" fill="#000" stroke="#000" stroke-width="0.55">UMAP 1</text>
<rect x="1319.1" y="113.8" width="48.6" height="30.7" fill="#6690c2"/>
<rect x="1367.7" y="113.8" width="48.6" height="30.7" fill="#6189bf"/>
<rect x="1416.2" y="113.8" width="48.6" height="30.7" fill="#75a2c9"/>
<rect x="1464.8" y="113.8" width="48.6" height="30.7" fill="#9fc8dc"/>
<rect x="1513.4" y="113.8" width="48.6" height="30.7" fill="#6792c3"/>
<rect x="1561.9" y="113.8" width="48.6" height="30.7" fill="#6893c3"/>
<rect x="1319.1" y="144.5" width="48.6" height="30.7" fill="#6189bf"/>
<rect x="1367.7" y="144.5" width="48.6" height="30.7" fill="#5c86bd"/>
<rect x="1416.2" y="144.5" width="48.6" height="30.7" fill="#5278b6"/>
<rect x="1464.8" y="144.5" width="48.6" height="30.7" fill="#97c0d9"/>
<rect x="1513.4" y="144.5" width="48.6" height="30.7" fill="#6792c3"/>
<rect x="1561.9" y="144.5" width="48.6" height="30.7" fill="#eec480"/>
<rect x="1319.1" y="175.2" width="48.6" height="30.7" fill="#77a4cb"/>
<rect x="1367.7" y="175.2" width="48.6" height="30.7" fill="#6690c2"/>
<rect x="1416.2" y="175.2" width="48.6" height="30.7" fill="#f3f7b6"/>
<rect x="1464.8" y="175.2" width="48.6" height="30.7" fill="#efcd88"/>
<rect x="1513.4" y="175.2" width="48.6" height="30.7" fill="#f3fcbf"/>
<rect x="1561.9" y="175.2" width="48.6" height="30.7" fill="#79a7cc"/>
<rect x="1319.1" y="205.9" width="48.6" height="30.7" fill="#79a7cc"/>
<rect x="1367.7" y="205.9" width="48.6" height="30.7" fill="#6189bf"/>
<rect x="1416.2" y="205.9" width="48.6" height="30.7" fill="#ee9262"/>
<rect x="1464.8" y="205.9" width="48.6" height="30.7" fill="#d8352b"/>
<rect x="1513.4" y="205.9" width="48.6" height="30.7" fill="#ec7b54"/>
<rect x="1561.9" y="205.9" width="48.6" height="30.7" fill="#f4fbc8"/>
<rect x="1319.1" y="236.6" width="48.6" height="30.7" fill="#f4fbb9"/>
<rect x="1367.7" y="236.6" width="48.6" height="30.7" fill="#c8e6ef"/>
<rect x="1416.2" y="236.6" width="48.6" height="30.7" fill="#f3fbb5"/>
<rect x="1464.8" y="236.6" width="48.6" height="30.7" fill="#f2f5ac"/>
<rect x="1513.4" y="236.6" width="48.6" height="30.7" fill="#6a96c5"/>
<rect x="1561.9" y="236.6" width="48.6" height="30.7" fill="#c3e2ed"/>
<rect x="1319.1" y="267.2" width="48.6" height="30.7" fill="#f2f8b3"/>
<rect x="1367.7" y="267.2" width="48.6" height="30.7" fill="#eefcd4"/>
<rect x="1416.2" y="267.2" width="48.6" height="30.7" fill="#f0df8e"/>
<rect x="1464.8" y="267.2" width="48.6" height="30.7" fill="#a9d1e3"/>
<rect x="1513.4" y="267.2" width="48.6" height="30.7" fill="#6893c3"/>
<rect x="1561.9" y="267.2" width="48.6" height="30.7" fill="#7eaad0"/>
<rect x="1319.1" y="297.9" width="48.6" height="30.7" fill="#f3ed9e"/>
<rect x="1367.7" y="297.9" width="48.6" height="30.7" fill="#f0e192"/>
<rect x="1416.2" y="297.9" width="48.6" height="30.7" fill="#efd98a"/>
<rect x="1464.8" y="297.9" width="48.6" height="30.7" fill="#f0df8d"/>
<rect x="1513.4" y="297.9" width="48.6" height="30.7" fill="#7eaacf"/>
<rect x="1561.9" y="297.9" width="48.6" height="30.7" fill="#efd386"/>
<rect x="1319.1" y="328.6" width="48.6" height="30.7" fill="#ec9462"/>
<rect x="1367.7" y="328.6" width="48.6" height="30.7" fill="#f0e293"/>
<rect x="1416.2" y="328.6" width="48.6" height="30.7" fill="#ec9866"/>
<rect x="1464.8" y="328.6" width="48.6" height="30.7" fill="#efda8b"/>
<rect x="1513.4" y="328.6" width="48.6" height="30.7" fill="#7eaacf"/>
<rect x="1561.9" y="328.6" width="48.6" height="30.7" fill="#8fbdd7"/>
<path d="M1319.1 113.8V359.3M1367.7 113.8V359.3M1416.2 113.8V359.3M1464.8 113.8V359.3M1513.4 113.8V359.3M1561.9 113.8V359.3M1610.5 113.8V359.3M1319.1 113.8H1610.5M1319.1 144.5H1610.5M1319.1 175.2H1610.5M1319.1 205.9H1610.5M1319.1 236.6H1610.5M1319.1 267.2H1610.5M1319.1 297.9H1610.5M1319.1 328.6H1610.5M1319.1 359.3H1610.5" stroke="#9a9a9a" stroke-width="0.9" fill="none"/>
<path d="M1316.1 129.1h2M1316.1 159.8h2M1316.1 190.5h2M1316.1 221.2h2M1316.1 251.9h2M1316.1 282.6h2M1316.1 313.3h2M1316.1 344h2" stroke="#666" stroke-width="0.8"/>
<text x="1625.5" y="133" font-size="24.5" fill="#000" stroke="#000" stroke-width="0.45">Pop 1</text>
<text x="1625.5" y="164.2" font-size="24.5" fill="#000" stroke="#000" stroke-width="0.45">Pop 2</text>
<text x="1625.5" y="195.3" font-size="24.5" fill="#000" stroke="#000" stroke-width="0.45">Pop 3</text>
<text x="1625.5" y="226.5" font-size="24.5" fill="#000" stroke="#000" stroke-width="0.45">Pop 5</text>
<text x="1625.5" y="257.6" font-size="24.5" fill="#000" stroke="#000" stroke-width="0.45">Pop 4</text>
<text x="1625.5" y="288.8" font-size="24.5" fill="#000" stroke="#000" stroke-width="0.45">Pop 7</text>
<text x="1625.5" y="320" font-size="24.5" fill="#000" stroke="#000" stroke-width="0.45">Pop 6</text>
<text x="1625.5" y="351.1" font-size="24.5" fill="#000" stroke="#000" stroke-width="0.45">Pop 8</text>
<text transform="translate(1355.9 453.3) rotate(-90)" font-size="25.5" fill="#000" stroke="#000" stroke-width="0.45">CD66b</text>
<text transform="translate(1402.8 453.3) rotate(-90)" font-size="25.5" fill="#000" stroke="#000" stroke-width="0.45">CD10</text>
<text transform="translate(1448.7 453.3) rotate(-90)" font-size="25.5" fill="#000" stroke="#000" stroke-width="0.45">CD11b</text>
<text transform="translate(1495.6 453.3) rotate(-90)" font-size="25.5" fill="#000" stroke="#000" stroke-width="0.45">CD63</text>
<text transform="translate(1541.5 453.3) rotate(-90)" font-size="25.5" fill="#000" stroke="#000" stroke-width="0.45">CD14</text>
<text transform="translate(1588.4 453.3) rotate(-90)" font-size="25.5" fill="#000" stroke="#000" stroke-width="0.45">CD62L</text>
<rect x="1225.1" y="110.9" width="16.9" height="255.1" fill="url(#hmcb)"/>
<text x="1246.6" y="152.9" font-size="20.5" fill="#000" stroke="#000" stroke-width="0.35">700</text>
<text x="1246.6" y="201" font-size="20.5" fill="#000" stroke="#000" stroke-width="0.35">600</text>
<text x="1246.6" y="243.9" font-size="20.5" fill="#000" stroke="#000" stroke-width="0.35">500</text>
<text x="1246.6" y="285" font-size="20.5" fill="#000" stroke="#000" stroke-width="0.35">400</text>
<text x="1246.6" y="329.2" font-size="20.5" fill="#000" stroke="#000" stroke-width="0.35">300</text>
<rect x="1222.5" y="548" width="143.2" height="25.9" fill="#ff1d0d"/>
<rect x="1222.5" y="573.9" width="143.2" height="25.9" fill="#e1703c"/>
<rect x="1222.5" y="599.8" width="143.2" height="25.9" fill="#96f79a"/>
<rect x="1222.5" y="625.7" width="143.2" height="25.9" fill="#2e6f2a"/>
<rect x="1222.5" y="651.6" width="143.2" height="25.9" fill="#a87744"/>
<rect x="1222.5" y="677.5" width="143.2" height="25.9" fill="#6e2277"/>
<rect x="1222.5" y="703.4" width="143.2" height="25.9" fill="#4a9e94"/>
<rect x="1222.5" y="729.3" width="143.2" height="25.9" fill="#eeff3e"/>
<path d="M1222.5 496.5V755.2M1365.7 496.5V755.2M1508.9 496.5V755.2M1652.2 496.5V755.2M1795.4 496.5V755.2M1938.6 496.5V755.2M1222.5 496.5H1938.6M1222.5 548H1938.6M1222.5 573.9H1938.6M1222.5 599.8H1938.6M1222.5 625.7H1938.6M1222.5 651.6H1938.6M1222.5 677.5H1938.6M1222.5 703.4H1938.6M1222.5 729.3H1938.6M1222.5 755.2H1938.6" stroke="#1a1a1a" stroke-width="1.2" fill="none"/>
<g font-size="21.3" font-weight="bold" text-anchor="middle" fill="#000">
<text x="1294.1" y="542.1">Color</text>
<text x="1437.3" y="542.1">Population</text>
<text x="1580.5" y="542.1">HIV-</text>
<text x="1723.8" y="516.4">PLHIV-</text>
<text x="1723.8" y="542.1">ART&lt;3m</text>
<text x="1867" y="516.4">PLHIV-</text>
<text x="1867" y="542.1">ART&gt;1yr</text>
</g><g font-size="20.6" text-anchor="middle" fill="#000">
<text x="1437.3" y="567.6">Pop1</text>
<text x="1580.5" y="567.6">30.6</text>
<text x="1723.8" y="567.6">42.6</text>
<text x="1867" y="567.6">52.9</text>
<text x="1437.3" y="593.5">Pop2</text>
<text x="1580.5" y="593.5">9.94</text>
<text x="1723.8" y="593.5">11.7</text>
<text x="1867" y="593.5">13.0</text>
<text x="1437.3" y="619.4">Pop3</text>
<text x="1580.5" y="619.4">4.59</text>
<text x="1723.8" y="619.4">3.21</text>
<text x="1867" y="619.4">2.14</text>
<text x="1437.3" y="645.3">Pop4</text>
<text x="1580.5" y="645.3">21.4</text>
<text x="1723.8" y="645.3">7.71</text>
<text x="1867" y="645.3">13.7</text>
<text x="1437.3" y="671.2">Pop5</text>
<text x="1580.5" y="671.2">1.06</text>
<text x="1723.8" y="671.2">0.55</text>
<text x="1867" y="671.2">0.71</text>
<text x="1437.3" y="697.1">Pop6</text>
<text x="1580.5" y="697.1">13.3</text>
<text x="1723.8" y="697.1">11.8</text>
<text x="1867" y="697.1">7.42</text>
<text x="1437.3" y="723">Pop7</text>
<text x="1580.5" y="723">14.7</text>
<text x="1723.8" y="723">20.6</text>
<text x="1867" y="723">7.86</text>
<text x="1437.3" y="748.9">Pop8</text>
<text x="1580.5" y="748.9">4.44</text>
<text x="1723.8" y="748.9">1.85</text>
<text x="1867" y="748.9">2.33</text>
</g>
<text x="1140.5" y="608" font-size="25.5" fill="#000" stroke="#000" stroke-width="0.45">Blood</text>
<rect x="1222.5" y="894" width="143.2" height="25.9" fill="#ff1d0d"/>
<rect x="1222.5" y="919.9" width="143.2" height="25.9" fill="#e1703c"/>
<rect x="1222.5" y="945.8" width="143.2" height="25.9" fill="#96f79a"/>
<rect x="1222.5" y="971.7" width="143.2" height="25.9" fill="#26552a"/>
<rect x="1222.5" y="997.6" width="143.2" height="25.9" fill="#a87744"/>
<rect x="1222.5" y="1023.5" width="143.2" height="25.9" fill="#6e2277"/>
<rect x="1222.5" y="1049.4" width="143.2" height="25.9" fill="#4a9e94"/>
<rect x="1222.5" y="1075.3" width="143.2" height="25.9" fill="#eeff3e"/>
<rect x="1365.7" y="1049.4" width="572.9" height="25.9" fill="#4a9e94"/>
<path d="M1222.5 842.1V1101.2M1365.7 842.1V1101.2M1508.9 842.1V1101.2M1652.2 842.1V1101.2M1795.4 842.1V1101.2M1938.6 842.1V1101.2M1222.5 842.1H1938.6M1222.5 894H1938.6M1222.5 919.9H1938.6M1222.5 945.8H1938.6M1222.5 971.7H1938.6M1222.5 997.6H1938.6M1222.5 1023.5H1938.6M1222.5 1049.4H1938.6M1222.5 1075.3H1938.6M1222.5 1101.2H1938.6" stroke="#1a1a1a" stroke-width="1.2" fill="none"/>
<g font-size="21.3" font-weight="bold" text-anchor="middle" fill="#000">
<text x="1294.1" y="888.1">Color</text>
<text x="1437.3" y="888.1">Population</text>
<text x="1580.5" y="888.1">HIV-</text>
<text x="1723.8" y="862.4">PLHIV-</text>
<text x="1723.8" y="888.1">ART&lt;3m</text>
<text x="1867" y="862.4">PLHIV-</text>
<text x="1867" y="888.1">ART&gt;1yr</text>
</g><g font-size="20.6" text-anchor="middle" fill="#000">
<text x="1437.3" y="913.6">Pop1</text>
<text x="1580.5" y="913.6">48.7</text>
<text x="1723.8" y="913.6">41.9</text>
<text x="1867" y="913.6">47.7</text>
<text x="1437.3" y="939.5">Pop2</text>
<text x="1580.5" y="939.5">0.51</text>
<text x="1723.8" y="939.5">0.24</text>
<text x="1867" y="939.5">0.91</text>
<text x="1437.3" y="965.4">Pop3</text>
<text x="1580.5" y="965.4">3.05</text>
<text x="1723.8" y="965.4">4.60</text>
<text x="1867" y="965.4">2.95</text>
<text x="1437.3" y="991.3">Pop4</text>
<text x="1580.5" y="991.3">12.9</text>
<text x="1723.8" y="991.3">11.0</text>
<text x="1867" y="991.3">9.46</text>
<text x="1437.3" y="1017.2">Pop5</text>
<text x="1580.5" y="1017.2">0.02</text>
<text x="1723.8" y="1017.2">0.29</text>
<text x="1867" y="1017.2">0.03</text>
<text x="1437.3" y="1043.1">Pop6</text>
<text x="1580.5" y="1043.1">0.12</text>
<text x="1723.8" y="1043.1">0.15</text>
<text x="1867" y="1043.1">0.23</text>
<text x="1437.3" y="1069">Pop7</text>
<text x="1580.5" y="1069">29.6</text>
<text x="1723.8" y="1069">33.9</text>
<text x="1867" y="1069">34.5</text>
<text x="1437.3" y="1094.9">Pop8</text>
<text x="1580.5" y="1094.9">5.13</text>
<text x="1723.8" y="1094.9">8.15</text>
<text x="1867" y="1094.9">4.23</text>
</g>
<text x="1140.5" y="955.5" font-size="25.5" fill="#000" stroke="#000" stroke-width="0.45">Nasal</text>
<text x="28" y="1258" font-size="44" fill="#000" font-weight="bold" letter-spacing="-1">b.</text>
<path d="M93.3 1267.8V1739.4H469" stroke="#3a3a3a" stroke-width="1.3" fill="none"/>
<line x1="82.3" y1="1281.2" x2="93.3" y2="1281.2" stroke="#3a3a3a" stroke-width="1.2"/>
<text x="78.1" y="1289.4" font-size="22.7" fill="#4d4d4d" text-anchor="end" stroke="#4d4d4d" stroke-width="0.25">120</text>
<line x1="82.3" y1="1390.3" x2="93.3" y2="1390.3" stroke="#3a3a3a" stroke-width="1.2"/>
<text x="78.1" y="1398.5" font-size="22.7" fill="#4d4d4d" text-anchor="end" stroke="#4d4d4d" stroke-width="0.25">90</text>
<line x1="82.3" y1="1499.4" x2="93.3" y2="1499.4" stroke="#3a3a3a" stroke-width="1.2"/>
<text x="78.1" y="1507.6" font-size="22.7" fill="#4d4d4d" text-anchor="end" stroke="#4d4d4d" stroke-width="0.25">60</text>
<line x1="82.3" y1="1608.5" x2="93.3" y2="1608.5" stroke="#3a3a3a" stroke-width="1.2"/>
<text x="78.1" y="1616.7" font-size="22.7" fill="#4d4d4d" text-anchor="end" stroke="#4d4d4d" stroke-width="0.25">30</text>
<line x1="82.3" y1="1717.7" x2="93.3" y2="1717.7" stroke="#3a3a3a" stroke-width="1.2"/>
<text x="78.1" y="1725.9" font-size="22.7" fill="#4d4d4d" text-anchor="end" stroke="#4d4d4d" stroke-width="0.25">0</text>
<line x1="163.7" y1="1739.4" x2="163.7" y2="1750.7" stroke="#3a3a3a" stroke-width="1.2"/>
<text x="163.7" y="1770" font-size="23.2" fill="#4d4d4d" text-anchor="middle" stroke="#4d4d4d" stroke-width="0.25">HIV-</text>
<line x1="281.2" y1="1739.4" x2="281.2" y2="1750.7" stroke="#3a3a3a" stroke-width="1.2"/>
<text x="281.2" y="1770" font-size="23.2" fill="#4d4d4d" text-anchor="middle" stroke="#4d4d4d" stroke-width="0.25">PLHIV</text>
<text x="281.2" y="1797" font-size="23.2" fill="#4d4d4d" text-anchor="middle" stroke="#4d4d4d" stroke-width="0.25">ART&lt;3m</text>
<line x1="398.7" y1="1739.4" x2="398.7" y2="1750.7" stroke="#3a3a3a" stroke-width="1.2"/>
<text x="398.7" y="1770" font-size="23.2" fill="#4d4d4d" text-anchor="middle" stroke="#4d4d4d" stroke-width="0.25">PLHIV</text>
<text x="398.7" y="1797" font-size="23.2" fill="#4d4d4d" text-anchor="middle" stroke="#4d4d4d" stroke-width="0.25">ART&gt;1yr</text>
<line x1="164.2" y1="1390" x2="164.2" y2="1496.2" stroke="#c4c4c4" stroke-width="1.2"/>
<line x1="164.2" y1="1587" x2="164.2" y2="1668.2" stroke="#c4c4c4" stroke-width="1.2"/>
<rect x="134.9" y="1496.2" width="58.6" height="90.8" fill="none" stroke="#c4c4c4" stroke-width="1.3"/>
<line x1="134.9" y1="1561.5" x2="193.5" y2="1561.5" stroke="#9a9a9a" stroke-width="1.6"/>
<line x1="281.5" y1="1386.7" x2="281.5" y2="1473.3" stroke="#a84a40" stroke-width="1.2"/>
<line x1="281.5" y1="1552.5" x2="281.5" y2="1658.3" stroke="#a84a40" stroke-width="1.2"/>
<rect x="251.8" y="1473.3" width="59.4" height="79.2" fill="none" stroke="#a84a40" stroke-width="1.3"/>
<line x1="251.8" y1="1496.5" x2="311.2" y2="1496.5" stroke="#8b1a12" stroke-width="1.6"/>
<line x1="399.1" y1="1398" x2="399.1" y2="1443.3" stroke="#4a7db5" stroke-width="1.2"/>
<line x1="399.1" y1="1502.7" x2="399.1" y2="1551.6" stroke="#4a7db5" stroke-width="1.2"/>
<rect x="369.6" y="1443.3" width="59" height="59.4" fill="none" stroke="#4a7db5" stroke-width="1.3"/>
<line x1="369.6" y1="1479.2" x2="428.6" y2="1479.2" stroke="#1f4e8a" stroke-width="1.6"/>
<circle cx="166.9" cy="1386.1" r="6.4" fill="#a8a8a8"/>
<circle cx="154.5" cy="1441.3" r="6.4" fill="#a8a8a8"/>
<circle cx="170.9" cy="1448.4" r="6.4" fill="#a8a8a8"/>
<circle cx="176" cy="1456.6" r="6.4" fill="#a8a8a8"/>
<circle cx="174" cy="1470.2" r="6.4" fill="#a8a8a8"/>
<circle cx="159" cy="1493.4" r="6.4" fill="#a8a8a8"/>
<circle cx="164.1" cy="1497.6" r="6.4" fill="#a8a8a8"/>
<circle cx="174.3" cy="1499.3" r="6.4" fill="#a8a8a8"/>
<circle cx="170.6" cy="1532.4" r="6.4" fill="#a8a8a8"/>
<circle cx="168.6" cy="1536.6" r="6.4" fill="#a8a8a8"/>
<circle cx="162.1" cy="1551.6" r="6.4" fill="#a8a8a8"/>
<circle cx="174" cy="1561.2" r="6.4" fill="#a8a8a8"/>
<circle cx="168.3" cy="1566.3" r="6.4" fill="#a8a8a8"/>
<circle cx="172.6" cy="1574.8" r="6.4" fill="#a8a8a8"/>
<circle cx="159" cy="1578.2" r="6.4" fill="#a8a8a8"/>
<circle cx="159.8" cy="1586.1" r="6.4" fill="#a8a8a8"/>
<circle cx="160.1" cy="1589.8" r="6.4" fill="#a8a8a8"/>
<circle cx="162.1" cy="1608.8" r="6.4" fill="#a8a8a8"/>
<circle cx="154.5" cy="1626.3" r="6.4" fill="#a8a8a8"/>
<circle cx="154.5" cy="1637.9" r="6.4" fill="#a8a8a8"/>
<circle cx="175.4" cy="1643.3" r="6.4" fill="#a8a8a8"/>
<circle cx="164.1" cy="1668.2" r="6.4" fill="#a8a8a8"/>
<circle cx="273.8" cy="1385" r="6.4" fill="#981a0e"/>
<circle cx="285.7" cy="1399.7" r="6.4" fill="#981a0e"/>
<circle cx="271" cy="1412.2" r="6.4" fill="#981a0e"/>
<circle cx="275.8" cy="1447.8" r="6.4" fill="#981a0e"/>
<circle cx="284" cy="1447.8" r="6.4" fill="#981a0e"/>
<circle cx="288" cy="1453.5" r="6.4" fill="#981a0e"/>
<circle cx="275.8" cy="1462.5" r="6.4" fill="#981a0e"/>
<circle cx="287.1" cy="1473.3" r="6.4" fill="#981a0e"/>
<circle cx="291.9" cy="1484.3" r="6.4" fill="#981a0e"/>
<circle cx="280.1" cy="1484.3" r="6.4" fill="#981a0e"/>
<circle cx="273.8" cy="1485.7" r="6.4" fill="#981a0e"/>
<circle cx="271" cy="1489.7" r="6.4" fill="#981a0e"/>
<circle cx="294.2" cy="1492.8" r="6.4" fill="#981a0e"/>
<circle cx="278.6" cy="1494.2" r="6.4" fill="#981a0e"/>
<circle cx="268.7" cy="1506.1" r="6.4" fill="#981a0e"/>
<circle cx="282.9" cy="1505.5" r="6.4" fill="#981a0e"/>
<circle cx="278.6" cy="1512.6" r="6.4" fill="#981a0e"/>
<circle cx="274.4" cy="1520.2" r="6.4" fill="#981a0e"/>
<circle cx="273.8" cy="1541.7" r="6.4" fill="#981a0e"/>
<circle cx="288" cy="1545.7" r="6.4" fill="#981a0e"/>
<circle cx="271.6" cy="1559.8" r="6.4" fill="#981a0e"/>
<circle cx="275.8" cy="1570" r="6.4" fill="#981a0e"/>
<circle cx="290.8" cy="1564.9" r="6.4" fill="#981a0e"/>
<circle cx="270.2" cy="1610.7" r="6.4" fill="#981a0e"/>
<circle cx="280.6" cy="1607.4" r="6.4" fill="#981a0e"/>
<circle cx="280.9" cy="1637.9" r="6.4" fill="#981a0e"/>
<circle cx="272.1" cy="1658.3" r="6.4" fill="#981a0e"/>
<circle cx="286.3" cy="1717.7" r="6.4" fill="#981a0e"/>
<circle cx="393.8" cy="1395.8" r="6.4" fill="#2b5d9b"/>
<circle cx="392.4" cy="1417.8" r="6.4" fill="#2b5d9b"/>
<circle cx="390.4" cy="1426.3" r="6.4" fill="#2b5d9b"/>
<circle cx="404" cy="1432.5" r="6.4" fill="#2b5d9b"/>
<circle cx="409.6" cy="1441" r="6.4" fill="#2b5d9b"/>
<circle cx="391.5" cy="1438.2" r="6.4" fill="#2b5d9b"/>
<circle cx="397.5" cy="1448.9" r="6.4" fill="#2b5d9b"/>
<circle cx="387" cy="1454" r="6.4" fill="#2b5d9b"/>
<circle cx="393.8" cy="1457.4" r="6.4" fill="#2b5d9b"/>
<circle cx="391.2" cy="1480.1" r="6.4" fill="#2b5d9b"/>
<circle cx="409.3" cy="1475.8" r="6.4" fill="#2b5d9b"/>
<circle cx="407.4" cy="1487.1" r="6.4" fill="#2b5d9b"/>
<circle cx="387.6" cy="1501.3" r="6.4" fill="#2b5d9b"/>
<circle cx="405.9" cy="1503.3" r="6.4" fill="#2b5d9b"/>
<circle cx="396" cy="1491.4" r="6.4" fill="#2b5d9b"/>
<circle cx="400.3" cy="1514" r="6.4" fill="#2b5d9b"/>
<circle cx="395.5" cy="1551.6" r="6.4" fill="#2b5d9b"/>
<circle cx="390.4" cy="1597.5" r="6.4" fill="#2b5d9b"/>
<circle cx="401.1" cy="1592.4" r="6.4" fill="#2b5d9b"/>
<circle cx="389.8" cy="1605.9" r="6.4" fill="#2b5d9b"/>
<circle cx="398.3" cy="1625.7" r="6.4" fill="#2b5d9b"/>
<path d="M281.2 1292.7V1289.3H398.7V1292.7" stroke="#7a7a7a" stroke-width="1.2" fill="none"/>
<text x="339.9" y="1284.3" font-size="23.2" fill="#111" text-anchor="middle" stroke="#111" stroke-width="0.35">p = 0.1250</text>
<path d="M163.7 1332.2V1328.8H398.7V1332.2" stroke="#7a7a7a" stroke-width="1.2" fill="none"/>
<text x="281.2" y="1323.8" font-size="23.2" fill="#111" text-anchor="middle" stroke="#111" stroke-width="0.35">p = 0.0030</text>
<path d="M163.7 1371.8V1368.4H281.2V1371.8" stroke="#7a7a7a" stroke-width="1.2" fill="none"/>
<text x="222.4" y="1363.4" font-size="23.2" fill="#111" text-anchor="middle" stroke="#111" stroke-width="0.35">p = 0.0910</text>
<text transform="translate(25.8 1502) rotate(-90)" font-size="24.3" fill="#111" text-anchor="middle" stroke="#111" stroke-width="0.35">Proportion of CD11b<tspan font-size="16" dy="-9">++</tspan><tspan dy="9"> Neutrophils</tspan></text>
<text x="504" y="1258" font-size="44" fill="#000" font-weight="bold" letter-spacing="-1">c.</text>
<path d="M572.6 1267.7V1739.5H957.3" stroke="#3a3a3a" stroke-width="1.3" fill="none"/>
<line x1="561.7" y1="1270.2" x2="572.6" y2="1270.2" stroke="#3a3a3a" stroke-width="1.2"/>
<text x="557.8" y="1278.4" font-size="22.7" fill="#4d4d4d" text-anchor="end" stroke="#4d4d4d" stroke-width="0.25">6.5</text>
<line x1="561.7" y1="1362.1" x2="572.6" y2="1362.1" stroke="#3a3a3a" stroke-width="1.2"/>
<text x="557.8" y="1370.3" font-size="22.7" fill="#4d4d4d" text-anchor="end" stroke="#4d4d4d" stroke-width="0.25">6.0</text>
<line x1="561.7" y1="1454" x2="572.6" y2="1454" stroke="#3a3a3a" stroke-width="1.2"/>
<text x="557.8" y="1462.2" font-size="22.7" fill="#4d4d4d" text-anchor="end" stroke="#4d4d4d" stroke-width="0.25">5.5</text>
<line x1="561.7" y1="1545.9" x2="572.6" y2="1545.9" stroke="#3a3a3a" stroke-width="1.2"/>
<text x="557.8" y="1554.1" font-size="22.7" fill="#4d4d4d" text-anchor="end" stroke="#4d4d4d" stroke-width="0.25">5.0</text>
<line x1="561.7" y1="1637.8" x2="572.6" y2="1637.8" stroke="#3a3a3a" stroke-width="1.2"/>
<text x="557.8" y="1646" font-size="22.7" fill="#4d4d4d" text-anchor="end" stroke="#4d4d4d" stroke-width="0.25">4.5</text>
<line x1="561.7" y1="1729" x2="572.6" y2="1729" stroke="#3a3a3a" stroke-width="1.2"/>
<text x="557.8" y="1737.2" font-size="22.7" fill="#4d4d4d" text-anchor="end" stroke="#4d4d4d" stroke-width="0.25">4.0</text>
<line x1="644.7" y1="1739.5" x2="644.7" y2="1750.6" stroke="#3a3a3a" stroke-width="1.2"/>
<text x="644.7" y="1769.7" font-size="23.2" fill="#4d4d4d" text-anchor="middle" stroke="#4d4d4d" stroke-width="0.25">HIV-</text>
<line x1="765" y1="1739.5" x2="765" y2="1750.6" stroke="#3a3a3a" stroke-width="1.2"/>
<text x="765" y="1769.7" font-size="23.2" fill="#4d4d4d" text-anchor="middle" stroke="#4d4d4d" stroke-width="0.25">PLHIV</text>
<text x="765" y="1796.5" font-size="23.2" fill="#4d4d4d" text-anchor="middle" stroke="#4d4d4d" stroke-width="0.25">ART&lt;3m</text>
<line x1="885" y1="1739.5" x2="885" y2="1750.6" stroke="#3a3a3a" stroke-width="1.2"/>
<text x="885" y="1769.7" font-size="23.2" fill="#4d4d4d" text-anchor="middle" stroke="#4d4d4d" stroke-width="0.25">PLHIV</text>
<text x="885" y="1796.5" font-size="23.2" fill="#4d4d4d" text-anchor="middle" stroke="#4d4d4d" stroke-width="0.25">ART&gt;1y</text>
<line x1="644.8" y1="1423.5" x2="644.8" y2="1530.4" stroke="#c4c4c4" stroke-width="1.2"/>
<line x1="644.8" y1="1645.5" x2="644.8" y2="1718.2" stroke="#c4c4c4" stroke-width="1.2"/>
<rect x="614.8" y="1530.4" width="60" height="115.1" fill="none" stroke="#c4c4c4" stroke-width="1.3"/>
<line x1="614.8" y1="1612.5" x2="674.8" y2="1612.5" stroke="#9a9a9a" stroke-width="1.6"/>
<line x1="764.9" y1="1388.7" x2="764.9" y2="1407.9" stroke="#a84a40" stroke-width="1.2"/>
<line x1="764.9" y1="1618.1" x2="764.9" y2="1695" stroke="#a84a40" stroke-width="1.2"/>
<rect x="734.5" y="1407.9" width="60.8" height="210.2" fill="none" stroke="#a84a40" stroke-width="1.3"/>
<line x1="734.5" y1="1448.9" x2="795.3" y2="1448.9" stroke="#8b1a12" stroke-width="1.6"/>
<line x1="885.5" y1="1383.9" x2="885.5" y2="1387.6" stroke="#4a7db5" stroke-width="1.2"/>
<line x1="885.5" y1="1528.1" x2="885.5" y2="1674.4" stroke="#4a7db5" stroke-width="1.2"/>
<rect x="855.3" y="1387.6" width="60.4" height="140.5" fill="none" stroke="#4a7db5" stroke-width="1.3"/>
<line x1="855.3" y1="1432" x2="915.7" y2="1432" stroke="#1f4e8a" stroke-width="1.6"/>
<circle cx="644.3" cy="1423.5" r="6.4" fill="#a8a8a8"/>
<circle cx="638.3" cy="1462.5" r="6.4" fill="#a8a8a8"/>
<circle cx="650.2" cy="1508.3" r="6.4" fill="#a8a8a8"/>
<circle cx="643.4" cy="1592.6" r="6.4" fill="#a8a8a8"/>
<circle cx="653.3" cy="1605.9" r="6.4" fill="#a8a8a8"/>
<circle cx="643.4" cy="1620.1" r="6.4" fill="#a8a8a8"/>
<circle cx="638.3" cy="1636.2" r="6.4" fill="#a8a8a8"/>
<circle cx="635.5" cy="1648.4" r="6.4" fill="#a8a8a8"/>
<circle cx="641.7" cy="1661.7" r="6.4" fill="#a8a8a8"/>
<circle cx="641.7" cy="1718.2" r="6.4" fill="#a8a8a8"/>
<circle cx="764.2" cy="1388.7" r="6.4" fill="#981a0e"/>
<circle cx="772.7" cy="1400.8" r="6.4" fill="#981a0e"/>
<circle cx="752.9" cy="1407.9" r="6.4" fill="#981a0e"/>
<circle cx="760" cy="1410.7" r="6.4" fill="#981a0e"/>
<circle cx="753.7" cy="1418.4" r="6.4" fill="#981a0e"/>
<circle cx="769" cy="1480.9" r="6.4" fill="#981a0e"/>
<circle cx="776.4" cy="1550.2" r="6.4" fill="#981a0e"/>
<circle cx="758.5" cy="1640.5" r="6.4" fill="#981a0e"/>
<circle cx="775.5" cy="1683.7" r="6.4" fill="#981a0e"/>
<circle cx="767.6" cy="1695" r="6.4" fill="#981a0e"/>
<circle cx="881.6" cy="1383.9" r="6.4" fill="#2b5d9b"/>
<circle cx="888.1" cy="1383.9" r="6.4" fill="#2b5d9b"/>
<circle cx="890.9" cy="1395.2" r="6.4" fill="#2b5d9b"/>
<circle cx="888.1" cy="1427.2" r="6.4" fill="#2b5d9b"/>
<circle cx="885.8" cy="1437.1" r="6.4" fill="#2b5d9b"/>
<circle cx="883.9" cy="1485.1" r="6.4" fill="#2b5d9b"/>
<circle cx="888.7" cy="1541.4" r="6.4" fill="#2b5d9b"/>
<circle cx="889.2" cy="1630.6" r="6.4" fill="#2b5d9b"/>
<circle cx="883" cy="1674.4" r="6.4" fill="#2b5d9b"/>
<path d="M765 1292.7V1289.3H885V1292.7" stroke="#7a7a7a" stroke-width="1.2" fill="none"/>
<text x="825" y="1284.3" font-size="23.2" fill="#111" text-anchor="middle" stroke="#111" stroke-width="0.35">p = 0.5360</text>
<path d="M644.7 1332.2V1328.8H885V1332.2" stroke="#7a7a7a" stroke-width="1.2" fill="none"/>
<text x="764.9" y="1323.8" font-size="23.2" fill="#111" text-anchor="middle" stroke="#111" stroke-width="0.35">p = 0.0210</text>
<path d="M644.7 1371.8V1368.4H765V1371.8" stroke="#7a7a7a" stroke-width="1.2" fill="none"/>
<text x="704.9" y="1363.4" font-size="23.2" fill="#111" text-anchor="middle" stroke="#111" stroke-width="0.35">p = 0.1210</text>
<text transform="translate(511 1503.5) rotate(-90)" font-size="24.3" fill="#111" text-anchor="middle" stroke="#111" stroke-width="0.35">MPO concentration (Log<tspan font-size="16.5" dy="4">10</tspan><tspan dy="-4"> (pg/ml)</tspan></text>
<text x="978" y="1257.5" font-size="44" fill="#000" font-weight="bold" letter-spacing="-1">d.</text>
<path d="M1048.6 1267.8V1734.6H1445.6" stroke="#3a3a3a" stroke-width="1.3" fill="none"/>
<line x1="1038" y1="1287.8" x2="1048.6" y2="1287.8" stroke="#3a3a3a" stroke-width="1.2"/>
<text x="1034.3" y="1296" font-size="22.7" fill="#4d4d4d" text-anchor="end" stroke="#4d4d4d" stroke-width="0.25">1</text>
<line x1="1038" y1="1429.8" x2="1048.6" y2="1429.8" stroke="#3a3a3a" stroke-width="1.2"/>
<text x="1034.3" y="1438" font-size="22.7" fill="#4d4d4d" text-anchor="end" stroke="#4d4d4d" stroke-width="0.25">0</text>
<line x1="1038" y1="1571.2" x2="1048.6" y2="1571.2" stroke="#3a3a3a" stroke-width="1.2"/>
<text x="1034.3" y="1579.4" font-size="22.7" fill="#4d4d4d" text-anchor="end" stroke="#4d4d4d" stroke-width="0.25">-1</text>
<line x1="1038" y1="1712.7" x2="1048.6" y2="1712.7" stroke="#3a3a3a" stroke-width="1.2"/>
<text x="1034.3" y="1720.9" font-size="22.7" fill="#4d4d4d" text-anchor="end" stroke="#4d4d4d" stroke-width="0.25">-2</text>
<line x1="1053.7" y1="1734.6" x2="1053.7" y2="1745.4" stroke="#3a3a3a" stroke-width="1.2"/>
<text x="1053.7" y="1765.4" font-size="22.7" fill="#4d4d4d" text-anchor="middle" stroke="#4d4d4d" stroke-width="0.25">4.0</text>
<line x1="1153.6" y1="1734.6" x2="1153.6" y2="1745.4" stroke="#3a3a3a" stroke-width="1.2"/>
<text x="1153.6" y="1765.4" font-size="22.7" fill="#4d4d4d" text-anchor="middle" stroke="#4d4d4d" stroke-width="0.25">4.5</text>
<line x1="1253.8" y1="1734.6" x2="1253.8" y2="1745.4" stroke="#3a3a3a" stroke-width="1.2"/>
<text x="1253.8" y="1765.4" font-size="22.7" fill="#4d4d4d" text-anchor="middle" stroke="#4d4d4d" stroke-width="0.25">5.0</text>
<line x1="1353.3" y1="1734.6" x2="1353.3" y2="1745.4" stroke="#3a3a3a" stroke-width="1.2"/>
<text x="1353.3" y="1765.4" font-size="22.7" fill="#4d4d4d" text-anchor="middle" stroke="#4d4d4d" stroke-width="0.25">5.5</text>
<circle cx="1066.5" cy="1607.5" r="6.6" fill="#a8a8a8"/>
<circle cx="1127.1" cy="1636.3" r="6.6" fill="#a8a8a8"/>
<circle cx="1154.7" cy="1618.8" r="6.6" fill="#a8a8a8"/>
<circle cx="1187.4" cy="1654.6" r="6.6" fill="#a8a8a8"/>
<circle cx="1141.5" cy="1547.9" r="6.6" fill="#a8a8a8"/>
<circle cx="1174.2" cy="1501.4" r="6.6" fill="#a8a8a8"/>
<circle cx="1292.8" cy="1605.1" r="6.6" fill="#a8a8a8"/>
<circle cx="1343" cy="1545.5" r="6.6" fill="#a8a8a8"/>
<circle cx="1386.6" cy="1391.8" r="6.6" fill="#a8a8a8"/>
<circle cx="1103.7" cy="1418" r="6.6" fill="#981a0e"/>
<circle cx="1092" cy="1540.3" r="6.6" fill="#981a0e"/>
<circle cx="1149.5" cy="1508" r="6.6" fill="#981a0e"/>
<circle cx="1248" cy="1579.7" r="6.6" fill="#981a0e"/>
<circle cx="1323.9" cy="1459" r="6.6" fill="#981a0e"/>
<circle cx="1392.5" cy="1377" r="6.6" fill="#981a0e"/>
<circle cx="1424.1" cy="1426" r="6.6" fill="#981a0e"/>
<circle cx="1403.6" cy="1493.2" r="6.6" fill="#981a0e"/>
<circle cx="1411.8" cy="1494.4" r="6.6" fill="#981a0e"/>
<circle cx="1400.7" cy="1511.6" r="6.6" fill="#981a0e"/>
<circle cx="1318.2" cy="1369.4" r="6.6" fill="#2b5d9b"/>
<circle cx="1381.9" cy="1381.7" r="6.6" fill="#2b5d9b"/>
<circle cx="1417" cy="1390.6" r="6.6" fill="#2b5d9b"/>
<circle cx="1427.8" cy="1482.6" r="6.6" fill="#2b5d9b"/>
<circle cx="1427.8" cy="1486.1" r="6.6" fill="#2b5d9b"/>
<circle cx="1371.7" cy="1512.7" r="6.6" fill="#2b5d9b"/>
<circle cx="1161.3" cy="1656.5" r="6.6" fill="#2b5d9b"/>
<circle cx="1257.3" cy="1343.8" r="6.6" fill="#2b5d9b"/>
<circle cx="1427.3" cy="1345.5" r="6.6" fill="#2b5d9b"/>
<path d="M1066.5 1526 L1075.8 1524.1 L1085 1522.2 L1094.3 1520.2 L1103.6 1518.3 L1112.8 1516.3 L1122.1 1514.3 L1131.4 1512.2 L1140.6 1510.1 L1149.9 1507.9 L1159.2 1505.7 L1168.4 1503.4 L1177.7 1501.1 L1186.9 1498.7 L1196.2 1496.2 L1205.5 1493.6 L1214.7 1490.9 L1224 1488.1 L1233.3 1485.2 L1242.5 1482.1 L1251.8 1478.9 L1261.1 1475.5 L1270.3 1472 L1279.6 1468.3 L1288.9 1464.4 L1298.1 1460.4 L1307.4 1456.1 L1316.7 1451.7 L1325.9 1447.2 L1335.2 1442.5 L1344.5 1437.7 L1353.7 1432.7 L1363 1427.6 L1372.3 1422.4 L1381.5 1417.1 L1390.8 1411.7 L1400 1406.3 L1409.3 1400.7 L1418.6 1395.1 L1427.8 1389.5 L1427.8 1485.1 L1418.6 1487.3 L1409.3 1489.5 L1400 1491.9 L1390.8 1494.2 L1381.5 1496.7 L1372.3 1499.2 L1363 1501.9 L1353.7 1504.6 L1344.5 1507.5 L1335.2 1510.5 L1325.9 1513.7 L1316.7 1516.9 L1307.4 1520.4 L1298.1 1524 L1288.9 1527.8 L1279.6 1531.8 L1270.3 1535.9 L1261.1 1540.2 L1251.8 1544.7 L1242.5 1549.3 L1233.3 1554.1 L1224 1559 L1214.7 1564.1 L1205.5 1569.2 L1196.2 1574.5 L1186.9 1579.8 L1177.7 1585.2 L1168.4 1590.7 L1159.2 1596.3 L1149.9 1601.9 L1140.6 1607.6 L1131.4 1613.3 L1122.1 1619.1 L1112.8 1624.9 L1103.6 1630.8 L1094.3 1636.7 L1085 1642.6 L1075.8 1648.5 L1066.5 1654.4Z" fill="#999" fill-opacity="0.4"/>
<line x1="1066.5" y1="1591" x2="1427.8" y2="1435" stroke="#3366ff" stroke-width="1.7"/>
<text x="1067.8" y="1313.5" font-size="23" fill="#111" stroke="#111" stroke-width="0.35"><tspan font-style="italic">R</tspan> = 0.55, <tspan font-style="italic">p</tspan> = 0.0023</text>
<text transform="translate(999.2 1501.5) rotate(-90)" font-size="24.3" fill="#111" text-anchor="middle" stroke="#111" stroke-width="0.35">Neutrophil to epithelial cell ratio (Log<tspan font-size="16.5" dy="4">10</tspan><tspan dy="-4"> )</tspan></text>
<text x="1247.3" y="1792" font-size="24.5" fill="#111" text-anchor="middle" stroke="#111" stroke-width="0.35">MPO concentration (Log<tspan font-size="17" dy="5">10</tspan><tspan dy="-5"> pg/ml)</tspan></text>
<text x="1465.5" y="1257.5" font-size="44" fill="#000" font-weight="bold" letter-spacing="-1">e.</text>
<path d="M1536.9 1267.8V1734.6H1933.9" stroke="#3a3a3a" stroke-width="1.3" fill="none"/>
<line x1="1526.3" y1="1287.8" x2="1536.9" y2="1287.8" stroke="#3a3a3a" stroke-width="1.2"/>
<text x="1522.6" y="1296" font-size="22.7" fill="#4d4d4d" text-anchor="end" stroke="#4d4d4d" stroke-width="0.25">0</text>
<line x1="1526.3" y1="1429.8" x2="1536.9" y2="1429.8" stroke="#3a3a3a" stroke-width="1.2"/>
<text x="1522.6" y="1438" font-size="22.7" fill="#4d4d4d" text-anchor="end" stroke="#4d4d4d" stroke-width="0.25">-1</text>
<line x1="1526.3" y1="1571.2" x2="1536.9" y2="1571.2" stroke="#3a3a3a" stroke-width="1.2"/>
<text x="1522.6" y="1579.4" font-size="22.7" fill="#4d4d4d" text-anchor="end" stroke="#4d4d4d" stroke-width="0.25">-2</text>
<line x1="1526.3" y1="1712.7" x2="1536.9" y2="1712.7" stroke="#3a3a3a" stroke-width="1.2"/>
<text x="1522.6" y="1720.9" font-size="22.7" fill="#4d4d4d" text-anchor="end" stroke="#4d4d4d" stroke-width="0.25">-3</text>
<line x1="1542.8" y1="1734.6" x2="1542.8" y2="1745.4" stroke="#3a3a3a" stroke-width="1.2"/>
<text x="1542.8" y="1765.4" font-size="22.7" fill="#4d4d4d" text-anchor="middle" stroke="#4d4d4d" stroke-width="0.25">4.0</text>
<line x1="1642.4" y1="1734.6" x2="1642.4" y2="1745.4" stroke="#3a3a3a" stroke-width="1.2"/>
<text x="1642.4" y="1765.4" font-size="22.7" fill="#4d4d4d" text-anchor="middle" stroke="#4d4d4d" stroke-width="0.25">4.5</text>
<line x1="1741.6" y1="1734.6" x2="1741.6" y2="1745.4" stroke="#3a3a3a" stroke-width="1.2"/>
<text x="1741.6" y="1765.4" font-size="22.7" fill="#4d4d4d" text-anchor="middle" stroke="#4d4d4d" stroke-width="0.25">5.0</text>
<line x1="1841.2" y1="1734.6" x2="1841.2" y2="1745.4" stroke="#3a3a3a" stroke-width="1.2"/>
<text x="1841.2" y="1765.4" font-size="22.7" fill="#4d4d4d" text-anchor="middle" stroke="#4d4d4d" stroke-width="0.25">5.5</text>
<circle cx="1615.4" cy="1414.9" r="6.6" fill="#a8a8a8"/>
<circle cx="1662.6" cy="1523.8" r="6.6" fill="#a8a8a8"/>
<circle cx="1643.7" cy="1554" r="6.6" fill="#a8a8a8"/>
<circle cx="1554.6" cy="1589.8" r="6.6" fill="#a8a8a8"/>
<circle cx="1676" cy="1651.5" r="6.6" fill="#a8a8a8"/>
<circle cx="1629.6" cy="1687.6" r="6.6" fill="#a8a8a8"/>
<circle cx="1781.6" cy="1694.7" r="6.6" fill="#a8a8a8"/>
<circle cx="1831.1" cy="1627.5" r="6.6" fill="#a8a8a8"/>
<circle cx="1875.2" cy="1471.9" r="6.6" fill="#a8a8a8"/>
<circle cx="1592.3" cy="1521.4" r="6.6" fill="#981a0e"/>
<circle cx="1580.5" cy="1560.8" r="6.6" fill="#981a0e"/>
<circle cx="1638.1" cy="1557.3" r="6.6" fill="#981a0e"/>
<circle cx="1736.8" cy="1576.3" r="6.6" fill="#981a0e"/>
<circle cx="1812.2" cy="1615.7" r="6.6" fill="#981a0e"/>
<circle cx="1881.3" cy="1426.2" r="6.6" fill="#981a0e"/>
<circle cx="1912.4" cy="1397.7" r="6.6" fill="#981a0e"/>
<circle cx="1900.2" cy="1502.1" r="6.6" fill="#981a0e"/>
<circle cx="1889.3" cy="1563.9" r="6.6" fill="#981a0e"/>
<circle cx="1892.4" cy="1595.2" r="6.6" fill="#981a0e"/>
<circle cx="1870.5" cy="1390.1" r="6.6" fill="#2b5d9b"/>
<circle cx="1860.6" cy="1442" r="6.6" fill="#2b5d9b"/>
<circle cx="1806.8" cy="1501.9" r="6.6" fill="#2b5d9b"/>
<circle cx="1745.8" cy="1549.2" r="6.6" fill="#2b5d9b"/>
<circle cx="1905.4" cy="1471.2" r="6.6" fill="#2b5d9b"/>
<circle cx="1916.4" cy="1476.6" r="6.6" fill="#2b5d9b"/>
<circle cx="1916.4" cy="1549.2" r="6.6" fill="#2b5d9b"/>
<circle cx="1916.4" cy="1673" r="6.6" fill="#2b5d9b"/>
<circle cx="1649.6" cy="1694.7" r="6.6" fill="#2b5d9b"/>
<path d="M1554.8 1525.4 L1564.1 1525.5 L1573.4 1525.5 L1582.6 1525.6 L1591.9 1525.5 L1601.1 1525.5 L1610.4 1525.4 L1619.7 1525.3 L1628.9 1525.1 L1638.2 1524.9 L1647.4 1524.6 L1656.7 1524.2 L1666 1523.8 L1675.2 1523.3 L1684.5 1522.7 L1693.7 1522 L1703 1521.2 L1712.3 1520.3 L1721.5 1519.3 L1730.8 1518.1 L1740 1516.7 L1749.3 1515.2 L1758.6 1513.6 L1767.8 1511.7 L1777.1 1509.7 L1786.3 1507.5 L1795.6 1505.1 L1804.8 1502.5 L1814.1 1499.8 L1823.4 1496.9 L1832.6 1493.9 L1841.9 1490.7 L1851.1 1487.4 L1860.4 1484 L1869.7 1480.5 L1878.9 1476.9 L1888.2 1473.2 L1897.4 1469.4 L1906.7 1465.5 L1916 1461.6 L1916 1564.8 L1906.7 1565.1 L1897.4 1565.4 L1888.2 1565.8 L1878.9 1566.3 L1869.7 1566.8 L1860.4 1567.5 L1851.1 1568.3 L1841.9 1569.1 L1832.6 1570.2 L1823.4 1571.3 L1814.1 1572.6 L1804.8 1574.1 L1795.6 1575.7 L1786.3 1577.5 L1777.1 1579.5 L1767.8 1581.6 L1758.6 1584 L1749.3 1586.5 L1740 1589.2 L1730.8 1592 L1721.5 1595 L1712.3 1598.1 L1703 1601.4 L1693.7 1604.8 L1684.5 1608.3 L1675.2 1611.9 L1666 1615.6 L1656.7 1619.3 L1647.4 1623.2 L1638.2 1627.1 L1628.9 1631 L1619.7 1635 L1610.4 1639.1 L1601.1 1643.2 L1591.9 1647.3 L1582.6 1651.5 L1573.4 1655.7 L1564.1 1659.9 L1554.8 1664.1Z" fill="#999" fill-opacity="0.4"/>
<line x1="1554.8" y1="1594.5" x2="1916" y2="1514.4" stroke="#3366ff" stroke-width="1.7"/>
<text x="1556.9" y="1313.5" font-size="23" fill="#111" stroke="#111" stroke-width="0.35"><tspan font-style="italic">R</tspan> = 0.28, <tspan font-style="italic">p</tspan> = 0.15</text>
<text transform="translate(1488.3 1501.5) rotate(-90)" font-size="24.3" fill="#111" text-anchor="middle" stroke="#111" stroke-width="0.35">Monocyte to epithelial cell ratio (Log<tspan font-size="16.5" dy="4">10</tspan><tspan dy="-4"> )</tspan></text>
<text x="1735.1" y="1792" font-size="24.5" fill="#111" text-anchor="middle" stroke="#111" stroke-width="0.35">MPO concentration (Log<tspan font-size="17" dy="5">10</tspan><tspan dy="-5"> pg/ml)</tspan></text>
<text x="56.3" y="1864.5" font-size="44" fill="#000" font-weight="bold" letter-spacing="-1">f.</text>
<path d="M141.9 1953.8h36.2v36.2h-36.2zM141.9 1990h36.2v36.2h-36.2zM178.1 1990h36.2v36.2h-36.2zM141.9 2026.2h36.2v36.2h-36.2zM178.1 2026.2h36.2v36.2h-36.2zM214.3 2026.2h36.2v36.2h-36.2zM141.9 2062.4h36.2v36.2h-36.2zM178.1 2062.4h36.2v36.2h-36.2zM214.3 2062.4h36.2v36.2h-36.2zM250.5 2062.4h36.2v36.2h-36.2zM141.9 2098.6h36.2v36.2h-36.2zM178.1 2098.6h36.2v36.2h-36.2zM214.3 2098.6h36.2v36.2h-36.2zM250.5 2098.6h36.2v36.2h-36.2zM286.7 2098.6h36.2v36.2h-36.2zM141.9 2134.8h36.2v36.2h-36.2zM178.1 2134.8h36.2v36.2h-36.2zM214.3 2134.8h36.2v36.2h-36.2zM250.5 2134.8h36.2v36.2h-36.2zM286.7 2134.8h36.2v36.2h-36.2zM322.9 2134.8h36.2v36.2h-36.2zM141.9 2171h36.2v36.2h-36.2zM178.1 2171h36.2v36.2h-36.2zM214.3 2171h36.2v36.2h-36.2zM250.5 2171h36.2v36.2h-36.2zM286.7 2171h36.2v36.2h-36.2zM322.9 2171h36.2v36.2h-36.2zM359.1 2171h36.2v36.2h-36.2zM141.9 2207.2h36.2v36.2h-36.2zM178.1 2207.2h36.2v36.2h-36.2zM214.3 2207.2h36.2v36.2h-36.2zM250.5 2207.2h36.2v36.2h-36.2zM286.7 2207.2h36.2v36.2h-36.2zM322.9 2207.2h36.2v36.2h-36.2zM359.1 2207.2h36.2v36.2h-36.2zM395.3 2207.2h36.2v36.2h-36.2zM141.9 2243.4h36.2v36.2h-36.2zM178.1 2243.4h36.2v36.2h-36.2zM214.3 2243.4h36.2v36.2h-36.2zM250.5 2243.4h36.2v36.2h-36.2zM286.7 2243.4h36.2v36.2h-36.2zM322.9 2243.4h36.2v36.2h-36.2zM359.1 2243.4h36.2v36.2h-36.2zM395.3 2243.4h36.2v36.2h-36.2zM431.5 2243.4h36.2v36.2h-36.2zM141.9 2279.6h36.2v36.2h-36.2zM178.1 2279.6h36.2v36.2h-36.2zM214.3 2279.6h36.2v36.2h-36.2zM250.5 2279.6h36.2v36.2h-36.2zM286.7 2279.6h36.2v36.2h-36.2zM322.9 2279.6h36.2v36.2h-36.2zM359.1 2279.6h36.2v36.2h-36.2zM395.3 2279.6h36.2v36.2h-36.2zM431.5 2279.6h36.2v36.2h-36.2zM467.7 2279.6h36.2v36.2h-36.2zM141.9 2315.8h36.2v36.2h-36.2zM178.1 2315.8h36.2v36.2h-36.2zM214.3 2315.8h36.2v36.2h-36.2zM250.5 2315.8h36.2v36.2h-36.2zM286.7 2315.8h36.2v36.2h-36.2zM322.9 2315.8h36.2v36.2h-36.2zM359.1 2315.8h36.2v36.2h-36.2zM395.3 2315.8h36.2v36.2h-36.2zM431.5 2315.8h36.2v36.2h-36.2zM467.7 2315.8h36.2v36.2h-36.2zM503.9 2315.8h36.2v36.2h-36.2zM141.9 2352h36.2v36.2h-36.2zM178.1 2352h36.2v36.2h-36.2zM214.3 2352h36.2v36.2h-36.2zM250.5 2352h36.2v36.2h-36.2zM286.7 2352h36.2v36.2h-36.2zM322.9 2352h36.2v36.2h-36.2zM359.1 2352h36.2v36.2h-36.2zM395.3 2352h36.2v36.2h-36.2zM431.5 2352h36.2v36.2h-36.2zM467.7 2352h36.2v36.2h-36.2zM503.9 2352h36.2v36.2h-36.2zM540.1 2352h36.2v36.2h-36.2z" stroke="#555" stroke-width="1" fill="none"/>
<circle cx="160" cy="1971.9" r="16.2" fill="#ff1c18"/>
<circle cx="160" cy="2008.1" r="13.5" fill="#f42c3a"/>
<circle cx="196.2" cy="2008.1" r="16.2" fill="#ff1c18"/>
<circle cx="160" cy="2044.3" r="15.3" fill="#f42b39"/>
<circle cx="196.2" cy="2044.3" r="10.4" fill="#f48290"/>
<circle cx="232.4" cy="2044.3" r="16.2" fill="#ff1c18"/>
<circle cx="160" cy="2080.5" r="13.7" fill="#f42b39"/>
<circle cx="196.2" cy="2080.5" r="14" fill="#f42b39"/>
<circle cx="232.4" cy="2080.5" r="12.7" fill="#f44452"/>
<circle cx="268.6" cy="2080.5" r="16.2" fill="#ff1c18"/>
<circle cx="160" cy="2116.7" r="12.3" fill="#f44e5c"/>
<circle cx="196.2" cy="2116.7" r="13" fill="#f43b49"/>
<circle cx="232.4" cy="2116.7" r="10.4" fill="#f48290"/>
<circle cx="268.6" cy="2116.7" r="10.6" fill="#f47b89"/>
<circle cx="304.8" cy="2116.7" r="16.2" fill="#ff1c18"/>
<circle cx="160" cy="2152.9" r="11" fill="#f47280"/>
<circle cx="196.2" cy="2152.9" r="11.7" fill="#f4606e"/>
<circle cx="232.4" cy="2152.9" r="10.1" fill="#f48896"/>
<circle cx="268.6" cy="2152.9" r="11.9" fill="#f45a68"/>
<circle cx="304.8" cy="2152.9" r="10.4" fill="#f48290"/>
<circle cx="341" cy="2152.9" r="16.2" fill="#ff1c18"/>
<circle cx="160" cy="2189.1" r="11.9" fill="#f45a68"/>
<circle cx="196.2" cy="2189.1" r="12.3" fill="#f44e5c"/>
<circle cx="232.4" cy="2189.1" r="9.7" fill="#f4919f"/>
<circle cx="268.6" cy="2189.1" r="11.9" fill="#f45a68"/>
<circle cx="304.8" cy="2189.1" r="14" fill="#f42b39"/>
<circle cx="341" cy="2189.1" r="12.3" fill="#f44e5c"/>
<circle cx="377.2" cy="2189.1" r="16.2" fill="#ff1c18"/>
<circle cx="160" cy="2225.3" r="15.3" fill="#f42b39"/>
<circle cx="196.2" cy="2225.3" r="13" fill="#f43b49"/>
<circle cx="232.4" cy="2225.3" r="14.5" fill="#f42b39"/>
<circle cx="268.6" cy="2225.3" r="12.3" fill="#f44e5c"/>
<circle cx="304.8" cy="2225.3" r="12.7" fill="#f44452"/>
<circle cx="341" cy="2225.3" r="9.7" fill="#f4919f"/>
<circle cx="377.2" cy="2225.3" r="11" fill="#f47280"/>
<circle cx="413.4" cy="2225.3" r="16.2" fill="#ff1c18"/>
<circle cx="160" cy="2261.5" r="13.7" fill="#f42b39"/>
<circle cx="196.2" cy="2261.5" r="13" fill="#f43b49"/>
<circle cx="232.4" cy="2261.5" r="13" fill="#f43b49"/>
<circle cx="268.6" cy="2261.5" r="12.3" fill="#f44e5c"/>
<circle cx="304.8" cy="2261.5" r="14" fill="#f42b39"/>
<circle cx="341" cy="2261.5" r="14" fill="#f42b39"/>
<circle cx="377.2" cy="2261.5" r="14" fill="#f42b39"/>
<circle cx="413.4" cy="2261.5" r="14" fill="#f42b39"/>
<circle cx="449.6" cy="2261.5" r="16.2" fill="#ff1c18"/>
<circle cx="160" cy="2297.7" r="9.7" fill="#f4919f"/>
<circle cx="196.2" cy="2297.7" r="11.7" fill="#f4606e"/>
<circle cx="232.4" cy="2297.7" r="7.1" fill="#f7c5d0"/>
<circle cx="268.6" cy="2297.7" r="11.9" fill="#f45a68"/>
<circle cx="304.8" cy="2297.7" r="10.6" fill="#f47b89"/>
<circle cx="341" cy="2297.7" r="14.2" fill="#f42b39"/>
<circle cx="377.2" cy="2297.7" r="12.3" fill="#f44e5c"/>
<circle cx="413.4" cy="2297.7" r="7.8" fill="#f5b9c6"/>
<circle cx="449.6" cy="2297.7" r="11" fill="#f47280"/>
<circle cx="485.8" cy="2297.7" r="16.2" fill="#ff1c18"/>
<circle cx="160" cy="2333.9" r="12.3" fill="#f44e5c"/>
<circle cx="196.2" cy="2333.9" r="11" fill="#f47280"/>
<circle cx="232.4" cy="2333.9" r="12.7" fill="#f44452"/>
<circle cx="268.6" cy="2333.9" r="11.9" fill="#f45a68"/>
<circle cx="304.8" cy="2333.9" r="6.5" fill="#f8ced7"/>
<circle cx="341" cy="2333.9" r="8.4" fill="#f4acba"/>
<circle cx="377.2" cy="2333.9" r="4.6" fill="#fbe7eb"/>
<circle cx="413.4" cy="2333.9" r="10.4" fill="#f48290"/>
<circle cx="449.6" cy="2333.9" r="9" fill="#f4a0ae"/>
<circle cx="485.8" cy="2333.9" r="4.6" fill="#fbe7eb"/>
<circle cx="522" cy="2333.9" r="16.2" fill="#ff1c18"/>
<circle cx="160" cy="2370.1" r="8.1" fill="#f4b2c0"/>
<circle cx="196.2" cy="2370.1" r="4.9" fill="#fbe3e8"/>
<circle cx="232.4" cy="2370.1" r="9" fill="#f4a0ae"/>
<circle cx="268.6" cy="2370.1" r="7.1" fill="#f7c5d0"/>
<circle cx="304.8" cy="2370.1" r="5.8" fill="#f9d7de"/>
<circle cx="341" cy="2370.1" r="7.6" fill="#f5bcc8"/>
<circle cx="377.2" cy="2370.1" r="4.6" fill="#fbe7eb"/>
<circle cx="413.4" cy="2370.1" r="9.3" fill="#f49aa8"/>
<circle cx="449.6" cy="2370.1" r="2.8" fill="#f6f6ff"/>
<circle cx="485.8" cy="2370.1" r="2.3" fill="#fef9fa"/>
<circle cx="522" cy="2370.1" r="11.5" fill="#f46674"/>
<circle cx="558.2" cy="2370.1" r="16.2" fill="#ff1c18"/>
<path d="M160 2008.9L160 2004.4M160 2008.9L164.3 2007.5M160 2008.9L162.6 2012.5M160 2008.9L157.4 2012.5M160 2008.9L155.7 2007.5M160 2045.1L160 2040.6M160 2045.1L164.3 2043.7M160 2045.1L162.6 2048.7M160 2045.1L157.4 2048.7M160 2045.1L155.7 2043.7M196.2 2045.1L196.2 2040.6M196.2 2045.1L200.5 2043.7M196.2 2045.1L198.8 2048.7M196.2 2045.1L193.6 2048.7M196.2 2045.1L191.9 2043.7M160 2081.3L160 2076.8M160 2081.3L164.3 2079.9M160 2081.3L162.6 2084.9M160 2081.3L157.4 2084.9M160 2081.3L155.7 2079.9M196.2 2081.3L196.2 2076.8M196.2 2081.3L200.5 2079.9M196.2 2081.3L198.8 2084.9M196.2 2081.3L193.6 2084.9M196.2 2081.3L191.9 2079.9M232.4 2081.3L232.4 2076.8M232.4 2081.3L236.7 2079.9M232.4 2081.3L235 2084.9M232.4 2081.3L229.8 2084.9M232.4 2081.3L228.1 2079.9M160 2117.5L160 2113M160 2117.5L164.3 2116.1M160 2117.5L162.6 2121.1M160 2117.5L157.4 2121.1M160 2117.5L155.7 2116.1M196.2 2117.5L196.2 2113M196.2 2117.5L200.5 2116.1M196.2 2117.5L198.8 2121.1M196.2 2117.5L193.6 2121.1M196.2 2117.5L191.9 2116.1M232.4 2117.5L232.4 2113M232.4 2117.5L236.7 2116.1M232.4 2117.5L235 2121.1M232.4 2117.5L229.8 2121.1M232.4 2117.5L228.1 2116.1M268.6 2117.5L268.6 2113M268.6 2117.5L272.9 2116.1M268.6 2117.5L271.2 2121.1M268.6 2117.5L266 2121.1M268.6 2117.5L264.3 2116.1M160 2153.7L160 2149.2M160 2153.7L164.3 2152.3M160 2153.7L162.6 2157.3M160 2153.7L157.4 2157.3M160 2153.7L155.7 2152.3M196.2 2153.7L196.2 2149.2M196.2 2153.7L200.5 2152.3M196.2 2153.7L198.8 2157.3M196.2 2153.7L193.6 2157.3M196.2 2153.7L191.9 2152.3M232.4 2153.7L232.4 2149.2M232.4 2153.7L236.7 2152.3M232.4 2153.7L235 2157.3M232.4 2153.7L229.8 2157.3M232.4 2153.7L228.1 2152.3M268.6 2153.7L268.6 2149.2M268.6 2153.7L272.9 2152.3M268.6 2153.7L271.2 2157.3M268.6 2153.7L266 2157.3M268.6 2153.7L264.3 2152.3M304.8 2153.7L304.8 2149.2M304.8 2153.7L309.1 2152.3M304.8 2153.7L307.4 2157.3M304.8 2153.7L302.2 2157.3M304.8 2153.7L300.5 2152.3M160 2189.9L160 2185.4M160 2189.9L164.3 2188.5M160 2189.9L162.6 2193.5M160 2189.9L157.4 2193.5M160 2189.9L155.7 2188.5M196.2 2189.9L196.2 2185.4M196.2 2189.9L200.5 2188.5M196.2 2189.9L198.8 2193.5M196.2 2189.9L193.6 2193.5M196.2 2189.9L191.9 2188.5M268.6 2189.9L268.6 2185.4M268.6 2189.9L272.9 2188.5M268.6 2189.9L271.2 2193.5M268.6 2189.9L266 2193.5M268.6 2189.9L264.3 2188.5M304.8 2189.9L304.8 2185.4M304.8 2189.9L309.1 2188.5M304.8 2189.9L307.4 2193.5M304.8 2189.9L302.2 2193.5M304.8 2189.9L300.5 2188.5M341 2189.9L341 2185.4M341 2189.9L345.3 2188.5M341 2189.9L343.6 2193.5M341 2189.9L338.4 2193.5M341 2189.9L336.7 2188.5M160 2226.1L160 2221.6M160 2226.1L164.3 2224.7M160 2226.1L162.6 2229.7M160 2226.1L157.4 2229.7M160 2226.1L155.7 2224.7M196.2 2226.1L196.2 2221.6M196.2 2226.1L200.5 2224.7M196.2 2226.1L198.8 2229.7M196.2 2226.1L193.6 2229.7M196.2 2226.1L191.9 2224.7M232.4 2226.1L232.4 2221.6M232.4 2226.1L236.7 2224.7M232.4 2226.1L235 2229.7M232.4 2226.1L229.8 2229.7M232.4 2226.1L228.1 2224.7M268.6 2226.1L268.6 2221.6M268.6 2226.1L272.9 2224.7M268.6 2226.1L271.2 2229.7M268.6 2226.1L266 2229.7M268.6 2226.1L264.3 2224.7M304.8 2226.1L304.8 2221.6M304.8 2226.1L309.1 2224.7M304.8 2226.1L307.4 2229.7M304.8 2226.1L302.2 2229.7M304.8 2226.1L300.5 2224.7M377.2 2226.1L377.2 2221.6M377.2 2226.1L381.5 2224.7M377.2 2226.1L379.8 2229.7M377.2 2226.1L374.6 2229.7M377.2 2226.1L372.9 2224.7M160 2262.3L160 2257.8M160 2262.3L164.3 2260.9M160 2262.3L162.6 2265.9M160 2262.3L157.4 2265.9M160 2262.3L155.7 2260.9M196.2 2262.3L196.2 2257.8M196.2 2262.3L200.5 2260.9M196.2 2262.3L198.8 2265.9M196.2 2262.3L193.6 2265.9M196.2 2262.3L191.9 2260.9M232.4 2262.3L232.4 2257.8M232.4 2262.3L236.7 2260.9M232.4 2262.3L235 2265.9M232.4 2262.3L229.8 2265.9M232.4 2262.3L228.1 2260.9M268.6 2262.3L268.6 2257.8M268.6 2262.3L272.9 2260.9M268.6 2262.3L271.2 2265.9M268.6 2262.3L266 2265.9M268.6 2262.3L264.3 2260.9M304.8 2262.3L304.8 2257.8M304.8 2262.3L309.1 2260.9M304.8 2262.3L307.4 2265.9M304.8 2262.3L302.2 2265.9M304.8 2262.3L300.5 2260.9M341 2262.3L341 2257.8M341 2262.3L345.3 2260.9M341 2262.3L343.6 2265.9M341 2262.3L338.4 2265.9M341 2262.3L336.7 2260.9M377.2 2262.3L377.2 2257.8M377.2 2262.3L381.5 2260.9M377.2 2262.3L379.8 2265.9M377.2 2262.3L374.6 2265.9M377.2 2262.3L372.9 2260.9M413.4 2262.3L413.4 2257.8M413.4 2262.3L417.7 2260.9M413.4 2262.3L416 2265.9M413.4 2262.3L410.8 2265.9M413.4 2262.3L409.1 2260.9M196.2 2298.5L196.2 2294M196.2 2298.5L200.5 2297.1M196.2 2298.5L198.8 2302.1M196.2 2298.5L193.6 2302.1M196.2 2298.5L191.9 2297.1M268.6 2298.5L268.6 2294M268.6 2298.5L272.9 2297.1M268.6 2298.5L271.2 2302.1M268.6 2298.5L266 2302.1M268.6 2298.5L264.3 2297.1M304.8 2298.5L304.8 2294M304.8 2298.5L309.1 2297.1M304.8 2298.5L307.4 2302.1M304.8 2298.5L302.2 2302.1M304.8 2298.5L300.5 2297.1M341 2298.5L341 2294M341 2298.5L345.3 2297.1M341 2298.5L343.6 2302.1M341 2298.5L338.4 2302.1M341 2298.5L336.7 2297.1M377.2 2298.5L377.2 2294M377.2 2298.5L381.5 2297.1M377.2 2298.5L379.8 2302.1M377.2 2298.5L374.6 2302.1M377.2 2298.5L372.9 2297.1M449.6 2298.5L449.6 2294M449.6 2298.5L453.9 2297.1M449.6 2298.5L452.2 2302.1M449.6 2298.5L447 2302.1M449.6 2298.5L445.3 2297.1M160 2334.7L160 2330.2M160 2334.7L164.3 2333.3M160 2334.7L162.6 2338.3M160 2334.7L157.4 2338.3M160 2334.7L155.7 2333.3M196.2 2334.7L196.2 2330.2M196.2 2334.7L200.5 2333.3M196.2 2334.7L198.8 2338.3M196.2 2334.7L193.6 2338.3M196.2 2334.7L191.9 2333.3M232.4 2334.7L232.4 2330.2M232.4 2334.7L236.7 2333.3M232.4 2334.7L235 2338.3M232.4 2334.7L229.8 2338.3M232.4 2334.7L228.1 2333.3M268.6 2334.7L268.6 2330.2M268.6 2334.7L272.9 2333.3M268.6 2334.7L271.2 2338.3M268.6 2334.7L266 2338.3M268.6 2334.7L264.3 2333.3M413.4 2334.7L413.4 2330.2M413.4 2334.7L417.7 2333.3M413.4 2334.7L416 2338.3M413.4 2334.7L410.8 2338.3M413.4 2334.7L409.1 2333.3M522 2370.9L522 2366.4M522 2370.9L526.3 2369.5M522 2370.9L524.6 2374.5M522 2370.9L519.4 2374.5M522 2370.9L517.7 2369.5" stroke="#000" stroke-width="1.75" stroke-linecap="round" fill="none"/>
<g font-size="17.6" fill="#1e1e1e" stroke="#1e1e1e" stroke-width="0.3" text-anchor="end">
<text x="137.3" y="1978.2">TNF-a</text>
<text x="137.3" y="2014.4">IL-6</text>
<text x="137.3" y="2050.6">IL-8</text>
<text x="137.3" y="2086.8">IL-1B</text>
<text x="137.3" y="2123">IFN-y</text>
<text x="137.3" y="2159.2">IL-2</text>
<text x="137.3" y="2195.4">IL-12p70</text>
<text x="137.3" y="2231.6">IL-13</text>
<text x="137.3" y="2267.8">IL-4</text>
<text x="137.3" y="2304">IL-10</text>
<text x="137.3" y="2340.2">Neutrophils</text>
<text x="137.3" y="2376.4">Monocytes</text>
</g>
<text transform="translate(166.3 1947.6) rotate(-90)" font-size="17.6" fill="#1e1e1e" stroke="#1e1e1e" stroke-width="0.3">TNF-a</text>
<text transform="translate(202.5 1983.8) rotate(-90)" font-size="17.6" fill="#1e1e1e" stroke="#1e1e1e" stroke-width="0.3">IL-6</text>
<text transform="translate(238.7 2020) rotate(-90)" font-size="17.6" fill="#1e1e1e" stroke="#1e1e1e" stroke-width="0.3">IL-8</text>
<text transform="translate(274.9 2056.2) rotate(-90)" font-size="17.6" fill="#1e1e1e" stroke="#1e1e1e" stroke-width="0.3">IL-1B</text>
<text transform="translate(311.1 2092.4) rotate(-90)" font-size="17.6" fill="#1e1e1e" stroke="#1e1e1e" stroke-width="0.3">IFN-y</text>
<text transform="translate(347.3 2128.6) rotate(-90)" font-size="17.6" fill="#1e1e1e" stroke="#1e1e1e" stroke-width="0.3">IL-2</text>
<text transform="translate(383.5 2164.8) rotate(-90)" font-size="17.6" fill="#1e1e1e" stroke="#1e1e1e" stroke-width="0.3">IL-12p70</text>
<text transform="translate(419.7 2201) rotate(-90)" font-size="17.6" fill="#1e1e1e" stroke="#1e1e1e" stroke-width="0.3">IL-13</text>
<text transform="translate(455.9 2237.2) rotate(-90)" font-size="17.6" fill="#1e1e1e" stroke="#1e1e1e" stroke-width="0.3">IL-4</text>
<text transform="translate(492.1 2273.4) rotate(-90)" font-size="17.6" fill="#1e1e1e" stroke="#1e1e1e" stroke-width="0.3">IL-10</text>
<text transform="translate(528.3 2309.6) rotate(-90)" font-size="17.6" fill="#1e1e1e" stroke="#1e1e1e" stroke-width="0.3">Neutrophils</text>
<text transform="translate(564.5 2345.8) rotate(-90)" font-size="17.6" fill="#1e1e1e" stroke="#1e1e1e" stroke-width="0.3">Monocytes</text>
<rect x="141.9" y="2395.8" width="434.4" height="15.9" fill="url(#cbar)"/>
<g font-size="7.5" fill="#222" text-anchor="middle">
<text x="141.9" y="2424.5">-1</text>
<text x="185.3" y="2424.5">-0.8</text>
<text x="228.8" y="2424.5">-0.6</text>
<text x="272.2" y="2424.5">-0.4</text>
<text x="315.7" y="2424.5">-0.2</text>
<text x="359.1" y="2424.5">0</text>
<text x="402.5" y="2424.5">0.2</text>
<text x="446" y="2424.5">0.4</text>
<text x="489.4" y="2424.5">0.6</text>
<text x="532.9" y="2424.5">0.8</text>
<text x="576.3" y="2424.5">1</text>
</g>
<path d="M141.9 2411.7v2.5M185.3 2411.7v2.5M228.8 2411.7v2.5M272.2 2411.7v2.5M315.7 2411.7v2.5M359.1 2411.7v2.5M402.5 2411.7v2.5M446 2411.7v2.5M489.4 2411.7v2.5M532.9 2411.7v2.5M576.3 2411.7v2.5" stroke="#555" stroke-width="0.6"/>
<text x="338.9" y="2488.8" font-size="45.5" fill="#000" text-anchor="middle" textLength="80.3" lengthAdjust="spacingAndGlyphs" stroke="#000" stroke-width="0.5">HIV-</text>
<text x="702.2" y="1864.5" font-size="44" fill="#000" font-weight="bold" letter-spacing="-1">g.</text>
<path d="M788.2 1953.8h36.2v36.2h-36.2zM788.2 1990h36.2v36.2h-36.2zM824.4 1990h36.2v36.2h-36.2zM788.2 2026.2h36.2v36.2h-36.2zM824.4 2026.2h36.2v36.2h-36.2zM860.6 2026.2h36.2v36.2h-36.2zM788.2 2062.4h36.2v36.2h-36.2zM824.4 2062.4h36.2v36.2h-36.2zM860.6 2062.4h36.2v36.2h-36.2zM896.8 2062.4h36.2v36.2h-36.2zM788.2 2098.6h36.2v36.2h-36.2zM824.4 2098.6h36.2v36.2h-36.2zM860.6 2098.6h36.2v36.2h-36.2zM896.8 2098.6h36.2v36.2h-36.2zM933 2098.6h36.2v36.2h-36.2zM788.2 2134.8h36.2v36.2h-36.2zM824.4 2134.8h36.2v36.2h-36.2zM860.6 2134.8h36.2v36.2h-36.2zM896.8 2134.8h36.2v36.2h-36.2zM933 2134.8h36.2v36.2h-36.2zM969.2 2134.8h36.2v36.2h-36.2zM788.2 2171h36.2v36.2h-36.2zM824.4 2171h36.2v36.2h-36.2zM860.6 2171h36.2v36.2h-36.2zM896.8 2171h36.2v36.2h-36.2zM933 2171h36.2v36.2h-36.2zM969.2 2171h36.2v36.2h-36.2zM1005.4 2171h36.2v36.2h-36.2zM788.2 2207.2h36.2v36.2h-36.2zM824.4 2207.2h36.2v36.2h-36.2zM860.6 2207.2h36.2v36.2h-36.2zM896.8 2207.2h36.2v36.2h-36.2zM933 2207.2h36.2v36.2h-36.2zM969.2 2207.2h36.2v36.2h-36.2zM1005.4 2207.2h36.2v36.2h-36.2zM1041.6 2207.2h36.2v36.2h-36.2zM788.2 2243.4h36.2v36.2h-36.2zM824.4 2243.4h36.2v36.2h-36.2zM860.6 2243.4h36.2v36.2h-36.2zM896.8 2243.4h36.2v36.2h-36.2zM933 2243.4h36.2v36.2h-36.2zM969.2 2243.4h36.2v36.2h-36.2zM1005.4 2243.4h36.2v36.2h-36.2zM1041.6 2243.4h36.2v36.2h-36.2zM1077.8 2243.4h36.2v36.2h-36.2zM788.2 2279.6h36.2v36.2h-36.2zM824.4 2279.6h36.2v36.2h-36.2zM860.6 2279.6h36.2v36.2h-36.2zM896.8 2279.6h36.2v36.2h-36.2zM933 2279.6h36.2v36.2h-36.2zM969.2 2279.6h36.2v36.2h-36.2zM1005.4 2279.6h36.2v36.2h-36.2zM1041.6 2279.6h36.2v36.2h-36.2zM1077.8 2279.6h36.2v36.2h-36.2zM1114 2279.6h36.2v36.2h-36.2zM788.2 2315.8h36.2v36.2h-36.2zM824.4 2315.8h36.2v36.2h-36.2zM860.6 2315.8h36.2v36.2h-36.2zM896.8 2315.8h36.2v36.2h-36.2zM933 2315.8h36.2v36.2h-36.2zM969.2 2315.8h36.2v36.2h-36.2zM1005.4 2315.8h36.2v36.2h-36.2zM1041.6 2315.8h36.2v36.2h-36.2zM1077.8 2315.8h36.2v36.2h-36.2zM1114 2315.8h36.2v36.2h-36.2zM1150.2 2315.8h36.2v36.2h-36.2zM788.2 2352h36.2v36.2h-36.2zM824.4 2352h36.2v36.2h-36.2zM860.6 2352h36.2v36.2h-36.2zM896.8 2352h36.2v36.2h-36.2zM933 2352h36.2v36.2h-36.2zM969.2 2352h36.2v36.2h-36.2zM1005.4 2352h36.2v36.2h-36.2zM1041.6 2352h36.2v36.2h-36.2zM1077.8 2352h36.2v36.2h-36.2zM1114 2352h36.2v36.2h-36.2zM1150.2 2352h36.2v36.2h-36.2zM1186.4 2352h36.2v36.2h-36.2z" stroke="#555" stroke-width="1" fill="none"/>
<circle cx="806.3" cy="1971.9" r="16.2" fill="#ff1c18"/>
<circle cx="806.3" cy="2008.1" r="13.3" fill="#f43240"/>
<circle cx="842.5" cy="2008.1" r="16.2" fill="#ff1c18"/>
<circle cx="806.3" cy="2044.3" r="14" fill="#f42b39"/>
<circle cx="842.5" cy="2044.3" r="14" fill="#f42b39"/>
<circle cx="878.7" cy="2044.3" r="16.2" fill="#ff1c18"/>
<circle cx="806.3" cy="2080.5" r="12.7" fill="#f44452"/>
<circle cx="842.5" cy="2080.5" r="14.9" fill="#f42b39"/>
<circle cx="878.7" cy="2080.5" r="13.3" fill="#f43240"/>
<circle cx="914.9" cy="2080.5" r="16.2" fill="#ff1c18"/>
<circle cx="806.3" cy="2116.7" r="11" fill="#f47280"/>
<circle cx="842.5" cy="2116.7" r="12.3" fill="#f44e5c"/>
<circle cx="878.7" cy="2116.7" r="8.1" fill="#f4b2c0"/>
<circle cx="914.9" cy="2116.7" r="11.5" fill="#f46674"/>
<circle cx="951.1" cy="2116.7" r="16.2" fill="#ff1c18"/>
<circle cx="806.3" cy="2152.9" r="12.7" fill="#f44452"/>
<circle cx="842.5" cy="2152.9" r="12.7" fill="#f44452"/>
<circle cx="878.7" cy="2152.9" r="12.3" fill="#f44e5c"/>
<circle cx="914.9" cy="2152.9" r="13.3" fill="#f43240"/>
<circle cx="951.1" cy="2152.9" r="13.3" fill="#f43240"/>
<circle cx="987.3" cy="2152.9" r="16.2" fill="#ff1c18"/>
<circle cx="806.3" cy="2189.1" r="11.7" fill="#f4606e"/>
<circle cx="842.5" cy="2189.1" r="11.7" fill="#f4606e"/>
<circle cx="878.7" cy="2189.1" r="9.3" fill="#f49aa8"/>
<circle cx="914.9" cy="2189.1" r="14" fill="#f42b39"/>
<circle cx="951.1" cy="2189.1" r="14.2" fill="#f42b39"/>
<circle cx="987.3" cy="2189.1" r="14" fill="#f42b39"/>
<circle cx="1023.5" cy="2189.1" r="16.2" fill="#ff1c18"/>
<circle cx="806.3" cy="2225.3" r="14" fill="#f42b39"/>
<circle cx="842.5" cy="2225.3" r="14.2" fill="#f42b39"/>
<circle cx="878.7" cy="2225.3" r="14.9" fill="#f42b39"/>
<circle cx="914.9" cy="2225.3" r="13.7" fill="#f42b39"/>
<circle cx="951.1" cy="2225.3" r="10.1" fill="#f48896"/>
<circle cx="987.3" cy="2225.3" r="11.7" fill="#f4606e"/>
<circle cx="1023.5" cy="2225.3" r="10.4" fill="#f48290"/>
<circle cx="1059.7" cy="2225.3" r="16.2" fill="#ff1c18"/>
<circle cx="806.3" cy="2261.5" r="11.9" fill="#f45a68"/>
<circle cx="842.5" cy="2261.5" r="14.2" fill="#f42b39"/>
<circle cx="878.7" cy="2261.5" r="10.6" fill="#f47b89"/>
<circle cx="914.9" cy="2261.5" r="14" fill="#f42b39"/>
<circle cx="951.1" cy="2261.5" r="13.7" fill="#f42b39"/>
<circle cx="987.3" cy="2261.5" r="13" fill="#f43b49"/>
<circle cx="1023.5" cy="2261.5" r="14" fill="#f42b39"/>
<circle cx="1059.7" cy="2261.5" r="10.6" fill="#f47b89"/>
<circle cx="1095.9" cy="2261.5" r="16.2" fill="#ff1c18"/>
<circle cx="806.3" cy="2297.7" r="13" fill="#f43b49"/>
<circle cx="842.5" cy="2297.7" r="13.7" fill="#f42b39"/>
<circle cx="878.7" cy="2297.7" r="13" fill="#f43b49"/>
<circle cx="914.9" cy="2297.7" r="13.7" fill="#f42b39"/>
<circle cx="951.1" cy="2297.7" r="14" fill="#f42b39"/>
<circle cx="987.3" cy="2297.7" r="15.3" fill="#f42b39"/>
<circle cx="1023.5" cy="2297.7" r="14" fill="#f42b39"/>
<circle cx="1059.7" cy="2297.7" r="12.3" fill="#f44e5c"/>
<circle cx="1095.9" cy="2297.7" r="14" fill="#f42b39"/>
<circle cx="1132.1" cy="2297.7" r="16.2" fill="#ff1c18"/>
<circle cx="806.3" cy="2333.9" r="6.5" fill="#f8ced7"/>
<circle cx="842.5" cy="2333.9" r="8.1" fill="#f4b2c0"/>
<circle cx="878.7" cy="2333.9" r="2.8" fill="#f6f6ff"/>
<circle cx="914.9" cy="2333.9" r="8.1" fill="#f4b2c0"/>
<circle cx="951.1" cy="2333.9" r="4.9" fill="#fbe3e8"/>
<circle cx="987.3" cy="2333.9" r="4.9" fill="#e3e3ff"/>
<circle cx="1023.5" cy="2333.9" r="4" fill="#fcedf0"/>
<circle cx="1059.7" cy="2333.9" r="6.7" fill="#cbcbff"/>
<circle cx="1095.9" cy="2333.9" r="5.8" fill="#f9d7de"/>
<circle cx="1132.1" cy="2333.9" r="4.9" fill="#e3e3ff"/>
<circle cx="1168.3" cy="2333.9" r="16.2" fill="#ff1c18"/>
<circle cx="806.3" cy="2370.1" r="6.5" fill="#f8ced7"/>
<circle cx="842.5" cy="2370.1" r="7.1" fill="#f7c5d0"/>
<circle cx="878.7" cy="2370.1" r="4.6" fill="#fbe7eb"/>
<circle cx="914.9" cy="2370.1" r="1.6" fill="#fffcfc"/>
<circle cx="951.1" cy="2370.1" r="5.8" fill="#f9d7de"/>
<circle cx="987.3" cy="2370.1" r="6.5" fill="#f8ced7"/>
<circle cx="1023.5" cy="2370.1" r="4.6" fill="#e7e7ff"/>
<circle cx="1059.7" cy="2370.1" r="4.3" fill="#fceaee"/>
<circle cx="1095.9" cy="2370.1" r="6.3" fill="#f8d1da"/>
<circle cx="1132.1" cy="2370.1" r="6.5" fill="#ceceff"/>
<circle cx="1168.3" cy="2370.1" r="11" fill="#f47280"/>
<circle cx="1204.5" cy="2370.1" r="16.2" fill="#ff1c18"/>
<path d="M806.3 2008.9L806.3 2004.4M806.3 2008.9L810.6 2007.5M806.3 2008.9L808.9 2012.5M806.3 2008.9L803.7 2012.5M806.3 2008.9L802 2007.5M806.3 2045.1L806.3 2040.6M806.3 2045.1L810.6 2043.7M806.3 2045.1L808.9 2048.7M806.3 2045.1L803.7 2048.7M806.3 2045.1L802 2043.7M842.5 2045.1L842.5 2040.6M842.5 2045.1L846.8 2043.7M842.5 2045.1L845.1 2048.7M842.5 2045.1L839.9 2048.7M842.5 2045.1L838.2 2043.7M806.3 2081.3L806.3 2076.8M806.3 2081.3L810.6 2079.9M806.3 2081.3L808.9 2084.9M806.3 2081.3L803.7 2084.9M806.3 2081.3L802 2079.9M842.5 2081.3L842.5 2076.8M842.5 2081.3L846.8 2079.9M842.5 2081.3L845.1 2084.9M842.5 2081.3L839.9 2084.9M842.5 2081.3L838.2 2079.9M878.7 2081.3L878.7 2076.8M878.7 2081.3L883 2079.9M878.7 2081.3L881.3 2084.9M878.7 2081.3L876.1 2084.9M878.7 2081.3L874.4 2079.9M806.3 2117.5L806.3 2113M806.3 2117.5L810.6 2116.1M806.3 2117.5L808.9 2121.1M806.3 2117.5L803.7 2121.1M806.3 2117.5L802 2116.1M842.5 2117.5L842.5 2113M842.5 2117.5L846.8 2116.1M842.5 2117.5L845.1 2121.1M842.5 2117.5L839.9 2121.1M842.5 2117.5L838.2 2116.1M914.9 2117.5L914.9 2113M914.9 2117.5L919.2 2116.1M914.9 2117.5L917.5 2121.1M914.9 2117.5L912.3 2121.1M914.9 2117.5L910.6 2116.1M806.3 2153.7L806.3 2149.2M806.3 2153.7L810.6 2152.3M806.3 2153.7L808.9 2157.3M806.3 2153.7L803.7 2157.3M806.3 2153.7L802 2152.3M842.5 2153.7L842.5 2149.2M842.5 2153.7L846.8 2152.3M842.5 2153.7L845.1 2157.3M842.5 2153.7L839.9 2157.3M842.5 2153.7L838.2 2152.3M878.7 2153.7L878.7 2149.2M878.7 2153.7L883 2152.3M878.7 2153.7L881.3 2157.3M878.7 2153.7L876.1 2157.3M878.7 2153.7L874.4 2152.3M914.9 2153.7L914.9 2149.2M914.9 2153.7L919.2 2152.3M914.9 2153.7L917.5 2157.3M914.9 2153.7L912.3 2157.3M914.9 2153.7L910.6 2152.3M951.1 2153.7L951.1 2149.2M951.1 2153.7L955.4 2152.3M951.1 2153.7L953.7 2157.3M951.1 2153.7L948.5 2157.3M951.1 2153.7L946.8 2152.3M806.3 2189.9L806.3 2185.4M806.3 2189.9L810.6 2188.5M806.3 2189.9L808.9 2193.5M806.3 2189.9L803.7 2193.5M806.3 2189.9L802 2188.5M842.5 2189.9L842.5 2185.4M842.5 2189.9L846.8 2188.5M842.5 2189.9L845.1 2193.5M842.5 2189.9L839.9 2193.5M842.5 2189.9L838.2 2188.5M914.9 2189.9L914.9 2185.4M914.9 2189.9L919.2 2188.5M914.9 2189.9L917.5 2193.5M914.9 2189.9L912.3 2193.5M914.9 2189.9L910.6 2188.5M951.1 2189.9L951.1 2185.4M951.1 2189.9L955.4 2188.5M951.1 2189.9L953.7 2193.5M951.1 2189.9L948.5 2193.5M951.1 2189.9L946.8 2188.5M987.3 2189.9L987.3 2185.4M987.3 2189.9L991.6 2188.5M987.3 2189.9L989.9 2193.5M987.3 2189.9L984.7 2193.5M987.3 2189.9L983 2188.5M806.3 2226.1L806.3 2221.6M806.3 2226.1L810.6 2224.7M806.3 2226.1L808.9 2229.7M806.3 2226.1L803.7 2229.7M806.3 2226.1L802 2224.7M842.5 2226.1L842.5 2221.6M842.5 2226.1L846.8 2224.7M842.5 2226.1L845.1 2229.7M842.5 2226.1L839.9 2229.7M842.5 2226.1L838.2 2224.7M878.7 2226.1L878.7 2221.6M878.7 2226.1L883 2224.7M878.7 2226.1L881.3 2229.7M878.7 2226.1L876.1 2229.7M878.7 2226.1L874.4 2224.7M914.9 2226.1L914.9 2221.6M914.9 2226.1L919.2 2224.7M914.9 2226.1L917.5 2229.7M914.9 2226.1L912.3 2229.7M914.9 2226.1L910.6 2224.7M987.3 2226.1L987.3 2221.6M987.3 2226.1L991.6 2224.7M987.3 2226.1L989.9 2229.7M987.3 2226.1L984.7 2229.7M987.3 2226.1L983 2224.7M806.3 2262.3L806.3 2257.8M806.3 2262.3L810.6 2260.9M806.3 2262.3L808.9 2265.9M806.3 2262.3L803.7 2265.9M806.3 2262.3L802 2260.9M842.5 2262.3L842.5 2257.8M842.5 2262.3L846.8 2260.9M842.5 2262.3L845.1 2265.9M842.5 2262.3L839.9 2265.9M842.5 2262.3L838.2 2260.9M914.9 2262.3L914.9 2257.8M914.9 2262.3L919.2 2260.9M914.9 2262.3L917.5 2265.9M914.9 2262.3L912.3 2265.9M914.9 2262.3L910.6 2260.9M951.1 2262.3L951.1 2257.8M951.1 2262.3L955.4 2260.9M951.1 2262.3L953.7 2265.9M951.1 2262.3L948.5 2265.9M951.1 2262.3L946.8 2260.9M987.3 2262.3L987.3 2257.8M987.3 2262.3L991.6 2260.9M987.3 2262.3L989.9 2265.9M987.3 2262.3L984.7 2265.9M987.3 2262.3L983 2260.9M1023.5 2262.3L1023.5 2257.8M1023.5 2262.3L1027.8 2260.9M1023.5 2262.3L1026.1 2265.9M1023.5 2262.3L1020.9 2265.9M1023.5 2262.3L1019.2 2260.9M806.3 2298.5L806.3 2294M806.3 2298.5L810.6 2297.1M806.3 2298.5L808.9 2302.1M806.3 2298.5L803.7 2302.1M806.3 2298.5L802 2297.1M842.5 2298.5L842.5 2294M842.5 2298.5L846.8 2297.1M842.5 2298.5L845.1 2302.1M842.5 2298.5L839.9 2302.1M842.5 2298.5L838.2 2297.1M878.7 2298.5L878.7 2294M878.7 2298.5L883 2297.1M878.7 2298.5L881.3 2302.1M878.7 2298.5L876.1 2302.1M878.7 2298.5L874.4 2297.1M914.9 2298.5L914.9 2294M914.9 2298.5L919.2 2297.1M914.9 2298.5L917.5 2302.1M914.9 2298.5L912.3 2302.1M914.9 2298.5L910.6 2297.1M951.1 2298.5L951.1 2294M951.1 2298.5L955.4 2297.1M951.1 2298.5L953.7 2302.1M951.1 2298.5L948.5 2302.1M951.1 2298.5L946.8 2297.1M987.3 2298.5L987.3 2294M987.3 2298.5L991.6 2297.1M987.3 2298.5L989.9 2302.1M987.3 2298.5L984.7 2302.1M987.3 2298.5L983 2297.1M1023.5 2298.5L1023.5 2294M1023.5 2298.5L1027.8 2297.1M1023.5 2298.5L1026.1 2302.1M1023.5 2298.5L1020.9 2302.1M1023.5 2298.5L1019.2 2297.1M1059.7 2298.5L1059.7 2294M1059.7 2298.5L1064 2297.1M1059.7 2298.5L1062.3 2302.1M1059.7 2298.5L1057.1 2302.1M1059.7 2298.5L1055.4 2297.1M1095.9 2298.5L1095.9 2294M1095.9 2298.5L1100.2 2297.1M1095.9 2298.5L1098.5 2302.1M1095.9 2298.5L1093.3 2302.1M1095.9 2298.5L1091.6 2297.1" stroke="#000" stroke-width="1.75" stroke-linecap="round" fill="none"/>
<g font-size="17.6" fill="#1e1e1e" stroke="#1e1e1e" stroke-width="0.3" text-anchor="end">
<text x="783.6" y="1978.2">TNF-a</text>
<text x="783.6" y="2014.4">IL-6</text>
<text x="783.6" y="2050.6">IL-8</text>
<text x="783.6" y="2086.8">IL-1B</text>
<text x="783.6" y="2123">IFN-y</text>
<text x="783.6" y="2159.2">IL-2</text>
<text x="783.6" y="2195.4">IL-12p70</text>
<text x="783.6" y="2231.6">IL-13</text>
<text x="783.6" y="2267.8">IL-4</text>
<text x="783.6" y="2304">IL-10</text>
<text x="783.6" y="2340.2">Neutrophils</text>
<text x="783.6" y="2376.4">Monocytes</text>
</g>
<text transform="translate(812.6 1947.6) rotate(-90)" font-size="17.6" fill="#1e1e1e" stroke="#1e1e1e" stroke-width="0.3">TNF-a</text>
<text transform="translate(848.8 1983.8) rotate(-90)" font-size="17.6" fill="#1e1e1e" stroke="#1e1e1e" stroke-width="0.3">IL-6</text>
<text transform="translate(885 2020) rotate(-90)" font-size="17.6" fill="#1e1e1e" stroke="#1e1e1e" stroke-width="0.3">IL-8</text>
<text transform="translate(921.2 2056.2) rotate(-90)" font-size="17.6" fill="#1e1e1e" stroke="#1e1e1e" stroke-width="0.3">IL-1B</text>
<text transform="translate(957.4 2092.4) rotate(-90)" font-size="17.6" fill="#1e1e1e" stroke="#1e1e1e" stroke-width="0.3">IFN-y</text>
<text transform="translate(993.6 2128.6) rotate(-90)" font-size="17.6" fill="#1e1e1e" stroke="#1e1e1e" stroke-width="0.3">IL-2</text>
<text transform="translate(1029.8 2164.8) rotate(-90)" font-size="17.6" fill="#1e1e1e" stroke="#1e1e1e" stroke-width="0.3">IL-12p70</text>
<text transform="translate(1066 2201) rotate(-90)" font-size="17.6" fill="#1e1e1e" stroke="#1e1e1e" stroke-width="0.3">IL-13</text>
<text transform="translate(1102.2 2237.2) rotate(-90)" font-size="17.6" fill="#1e1e1e" stroke="#1e1e1e" stroke-width="0.3">IL-4</text>
<text transform="translate(1138.4 2273.4) rotate(-90)" font-size="17.6" fill="#1e1e1e" stroke="#1e1e1e" stroke-width="0.3">IL-10</text>
<text transform="translate(1174.6 2309.6) rotate(-90)" font-size="17.6" fill="#1e1e1e" stroke="#1e1e1e" stroke-width="0.3">Neutrophils</text>
<text transform="translate(1210.8 2345.8) rotate(-90)" font-size="17.6" fill="#1e1e1e" stroke="#1e1e1e" stroke-width="0.3">Monocytes</text>
<rect x="788.2" y="2395.8" width="434.4" height="15.9" fill="url(#cbar)"/>
<g font-size="7.5" fill="#222" text-anchor="middle">
<text x="788.2" y="2424.5">-1</text>
<text x="831.6" y="2424.5">-0.8</text>
<text x="875.1" y="2424.5">-0.6</text>
<text x="918.5" y="2424.5">-0.4</text>
<text x="962" y="2424.5">-0.2</text>
<text x="1005.4" y="2424.5">0</text>
<text x="1048.8" y="2424.5">0.2</text>
<text x="1092.3" y="2424.5">0.4</text>
<text x="1135.7" y="2424.5">0.6</text>
<text x="1179.2" y="2424.5">0.8</text>
<text x="1222.6" y="2424.5">1</text>
</g>
<path d="M788.2 2411.7v2.5M831.6 2411.7v2.5M875.1 2411.7v2.5M918.5 2411.7v2.5M962 2411.7v2.5M1005.4 2411.7v2.5M1048.8 2411.7v2.5M1092.3 2411.7v2.5M1135.7 2411.7v2.5M1179.2 2411.7v2.5M1222.6 2411.7v2.5" stroke="#555" stroke-width="0.6"/>
<text x="1020.8" y="2488.8" font-size="45.5" fill="#000" text-anchor="middle" textLength="309.2" lengthAdjust="spacingAndGlyphs" stroke="#000" stroke-width="0.5">PLHIV-ART&lt;3m</text>
<text x="1365" y="1864.5" font-size="44" fill="#000" font-weight="bold" letter-spacing="-1">h.</text>
<path d="M1450.2 1953.8h36.2v36.2h-36.2zM1450.2 1990h36.2v36.2h-36.2zM1486.4 1990h36.2v36.2h-36.2zM1450.2 2026.2h36.2v36.2h-36.2zM1486.4 2026.2h36.2v36.2h-36.2zM1522.6 2026.2h36.2v36.2h-36.2zM1450.2 2062.4h36.2v36.2h-36.2zM1486.4 2062.4h36.2v36.2h-36.2zM1522.6 2062.4h36.2v36.2h-36.2zM1558.8 2062.4h36.2v36.2h-36.2zM1450.2 2098.6h36.2v36.2h-36.2zM1486.4 2098.6h36.2v36.2h-36.2zM1522.6 2098.6h36.2v36.2h-36.2zM1558.8 2098.6h36.2v36.2h-36.2zM1595 2098.6h36.2v36.2h-36.2zM1450.2 2134.8h36.2v36.2h-36.2zM1486.4 2134.8h36.2v36.2h-36.2zM1522.6 2134.8h36.2v36.2h-36.2zM1558.8 2134.8h36.2v36.2h-36.2zM1595 2134.8h36.2v36.2h-36.2zM1631.2 2134.8h36.2v36.2h-36.2zM1450.2 2171h36.2v36.2h-36.2zM1486.4 2171h36.2v36.2h-36.2zM1522.6 2171h36.2v36.2h-36.2zM1558.8 2171h36.2v36.2h-36.2zM1595 2171h36.2v36.2h-36.2zM1631.2 2171h36.2v36.2h-36.2zM1667.4 2171h36.2v36.2h-36.2zM1450.2 2207.2h36.2v36.2h-36.2zM1486.4 2207.2h36.2v36.2h-36.2zM1522.6 2207.2h36.2v36.2h-36.2zM1558.8 2207.2h36.2v36.2h-36.2zM1595 2207.2h36.2v36.2h-36.2zM1631.2 2207.2h36.2v36.2h-36.2zM1667.4 2207.2h36.2v36.2h-36.2zM1703.6 2207.2h36.2v36.2h-36.2zM1450.2 2243.4h36.2v36.2h-36.2zM1486.4 2243.4h36.2v36.2h-36.2zM1522.6 2243.4h36.2v36.2h-36.2zM1558.8 2243.4h36.2v36.2h-36.2zM1595 2243.4h36.2v36.2h-36.2zM1631.2 2243.4h36.2v36.2h-36.2zM1667.4 2243.4h36.2v36.2h-36.2zM1703.6 2243.4h36.2v36.2h-36.2zM1739.8 2243.4h36.2v36.2h-36.2zM1450.2 2279.6h36.2v36.2h-36.2zM1486.4 2279.6h36.2v36.2h-36.2zM1522.6 2279.6h36.2v36.2h-36.2zM1558.8 2279.6h36.2v36.2h-36.2zM1595 2279.6h36.2v36.2h-36.2zM1631.2 2279.6h36.2v36.2h-36.2zM1667.4 2279.6h36.2v36.2h-36.2zM1703.6 2279.6h36.2v36.2h-36.2zM1739.8 2279.6h36.2v36.2h-36.2zM1776 2279.6h36.2v36.2h-36.2zM1450.2 2315.8h36.2v36.2h-36.2zM1486.4 2315.8h36.2v36.2h-36.2zM1522.6 2315.8h36.2v36.2h-36.2zM1558.8 2315.8h36.2v36.2h-36.2zM1595 2315.8h36.2v36.2h-36.2zM1631.2 2315.8h36.2v36.2h-36.2zM1667.4 2315.8h36.2v36.2h-36.2zM1703.6 2315.8h36.2v36.2h-36.2zM1739.8 2315.8h36.2v36.2h-36.2zM1776 2315.8h36.2v36.2h-36.2zM1812.2 2315.8h36.2v36.2h-36.2zM1450.2 2352h36.2v36.2h-36.2zM1486.4 2352h36.2v36.2h-36.2zM1522.6 2352h36.2v36.2h-36.2zM1558.8 2352h36.2v36.2h-36.2zM1595 2352h36.2v36.2h-36.2zM1631.2 2352h36.2v36.2h-36.2zM1667.4 2352h36.2v36.2h-36.2zM1703.6 2352h36.2v36.2h-36.2zM1739.8 2352h36.2v36.2h-36.2zM1776 2352h36.2v36.2h-36.2zM1812.2 2352h36.2v36.2h-36.2zM1848.4 2352h36.2v36.2h-36.2z" stroke="#555" stroke-width="1" fill="none"/>
<circle cx="1468.3" cy="1971.9" r="16.2" fill="#ff1c18"/>
<circle cx="1468.3" cy="2008.1" r="11.5" fill="#f46674"/>
<circle cx="1504.5" cy="2008.1" r="16.2" fill="#ff1c18"/>
<circle cx="1468.3" cy="2044.3" r="11.5" fill="#f46674"/>
<circle cx="1504.5" cy="2044.3" r="14" fill="#f42b39"/>
<circle cx="1540.7" cy="2044.3" r="16.2" fill="#ff1c18"/>
<circle cx="1468.3" cy="2080.5" r="14" fill="#f42b39"/>
<circle cx="1504.5" cy="2080.5" r="14.2" fill="#f42b39"/>
<circle cx="1540.7" cy="2080.5" r="13" fill="#f43b49"/>
<circle cx="1576.9" cy="2080.5" r="16.2" fill="#ff1c18"/>
<circle cx="1468.3" cy="2116.7" r="12.3" fill="#f44e5c"/>
<circle cx="1504.5" cy="2116.7" r="14.2" fill="#f42b39"/>
<circle cx="1540.7" cy="2116.7" r="10.1" fill="#f48896"/>
<circle cx="1576.9" cy="2116.7" r="13.7" fill="#f42b39"/>
<circle cx="1613.1" cy="2116.7" r="16.2" fill="#ff1c18"/>
<circle cx="1468.3" cy="2152.9" r="11" fill="#f47280"/>
<circle cx="1504.5" cy="2152.9" r="8.9" fill="#f4a3b1"/>
<circle cx="1540.7" cy="2152.9" r="2.8" fill="#fef6f8"/>
<circle cx="1576.9" cy="2152.9" r="11.5" fill="#f46674"/>
<circle cx="1613.1" cy="2152.9" r="13.3" fill="#f43240"/>
<circle cx="1649.3" cy="2152.9" r="16.2" fill="#ff1c18"/>
<circle cx="1468.3" cy="2189.1" r="12.7" fill="#f44452"/>
<circle cx="1504.5" cy="2189.1" r="12.3" fill="#f44e5c"/>
<circle cx="1540.7" cy="2189.1" r="10.1" fill="#f48896"/>
<circle cx="1576.9" cy="2189.1" r="13.7" fill="#f42b39"/>
<circle cx="1613.1" cy="2189.1" r="14" fill="#f42b39"/>
<circle cx="1649.3" cy="2189.1" r="14.2" fill="#f42b39"/>
<circle cx="1685.5" cy="2189.1" r="16.2" fill="#ff1c18"/>
<circle cx="1468.3" cy="2225.3" r="15.8" fill="#f42b39"/>
<circle cx="1504.5" cy="2225.3" r="9.3" fill="#f49aa8"/>
<circle cx="1540.7" cy="2225.3" r="9.7" fill="#f4919f"/>
<circle cx="1576.9" cy="2225.3" r="13.3" fill="#f43240"/>
<circle cx="1613.1" cy="2225.3" r="10.4" fill="#f48290"/>
<circle cx="1649.3" cy="2225.3" r="9.7" fill="#f4919f"/>
<circle cx="1685.5" cy="2225.3" r="11" fill="#f47280"/>
<circle cx="1721.7" cy="2225.3" r="16.2" fill="#ff1c18"/>
<circle cx="1468.3" cy="2261.5" r="13.7" fill="#f42b39"/>
<circle cx="1504.5" cy="2261.5" r="14.2" fill="#f42b39"/>
<circle cx="1540.7" cy="2261.5" r="11.9" fill="#f45a68"/>
<circle cx="1576.9" cy="2261.5" r="14" fill="#f42b39"/>
<circle cx="1613.1" cy="2261.5" r="14.5" fill="#f42b39"/>
<circle cx="1649.3" cy="2261.5" r="13" fill="#f43b49"/>
<circle cx="1685.5" cy="2261.5" r="14.5" fill="#f42b39"/>
<circle cx="1721.7" cy="2261.5" r="11.5" fill="#f46674"/>
<circle cx="1757.9" cy="2261.5" r="16.2" fill="#ff1c18"/>
<circle cx="1468.3" cy="2297.7" r="11.5" fill="#f46674"/>
<circle cx="1504.5" cy="2297.7" r="9" fill="#f4a0ae"/>
<circle cx="1540.7" cy="2297.7" r="1.6" fill="#fffcfc"/>
<circle cx="1576.9" cy="2297.7" r="11.5" fill="#f46674"/>
<circle cx="1613.1" cy="2297.7" r="13.3" fill="#f43240"/>
<circle cx="1649.3" cy="2297.7" r="15.8" fill="#f42b39"/>
<circle cx="1685.5" cy="2297.7" r="13.7" fill="#f42b39"/>
<circle cx="1721.7" cy="2297.7" r="10.4" fill="#f48290"/>
<circle cx="1757.9" cy="2297.7" r="12.7" fill="#f44452"/>
<circle cx="1794.1" cy="2297.7" r="16.2" fill="#ff1c18"/>
<circle cx="1468.3" cy="2333.9" r="3.2" fill="#fdf3f5"/>
<circle cx="1504.5" cy="2333.9" r="10.1" fill="#f48896"/>
<circle cx="1540.7" cy="2333.9" r="4.6" fill="#e7e7ff"/>
<circle cx="1576.9" cy="2333.9" r="10.1" fill="#f48896"/>
<circle cx="1613.1" cy="2333.9" r="5.8" fill="#f9d7de"/>
<circle cx="1649.3" cy="2333.9" r="2.8" fill="#fef6f8"/>
<circle cx="1685.5" cy="2333.9" r="5.8" fill="#f9d7de"/>
<circle cx="1721.7" cy="2333.9" r="2.8" fill="#fef6f8"/>
<circle cx="1757.9" cy="2333.9" r="5.4" fill="#fadde4"/>
<circle cx="1794.1" cy="2333.9" r="1.6" fill="#fffcfc"/>
<circle cx="1830.3" cy="2333.9" r="16.2" fill="#ff1c18"/>
<circle cx="1468.3" cy="2370.1" r="5.4" fill="#ddddff"/>
<circle cx="1504.5" cy="2370.1" r="11.5" fill="#f46674"/>
<circle cx="1540.7" cy="2370.1" r="10.1" fill="#f48896"/>
<circle cx="1576.9" cy="2370.1" r="9.7" fill="#f4919f"/>
<circle cx="1613.1" cy="2370.1" r="4.6" fill="#fbe7eb"/>
<circle cx="1649.3" cy="2370.1" r="6.7" fill="#cbcbff"/>
<circle cx="1685.5" cy="2370.1" r="5.4" fill="#fadde4"/>
<circle cx="1721.7" cy="2370.1" r="7.1" fill="#c5c5ff"/>
<circle cx="1757.9" cy="2370.1" r="7.6" fill="#f5bcc8"/>
<circle cx="1794.1" cy="2370.1" r="7.1" fill="#c5c5ff"/>
<circle cx="1830.3" cy="2370.1" r="11.9" fill="#f45a68"/>
<circle cx="1866.5" cy="2370.1" r="16.2" fill="#ff1c18"/>
<path d="M1468.3 2008.9L1468.3 2004.4M1468.3 2008.9L1472.6 2007.5M1468.3 2008.9L1470.9 2012.5M1468.3 2008.9L1465.7 2012.5M1468.3 2008.9L1464 2007.5M1468.3 2045.1L1468.3 2040.6M1468.3 2045.1L1472.6 2043.7M1468.3 2045.1L1470.9 2048.7M1468.3 2045.1L1465.7 2048.7M1468.3 2045.1L1464 2043.7M1504.5 2045.1L1504.5 2040.6M1504.5 2045.1L1508.8 2043.7M1504.5 2045.1L1507.1 2048.7M1504.5 2045.1L1501.9 2048.7M1504.5 2045.1L1500.2 2043.7M1468.3 2081.3L1468.3 2076.8M1468.3 2081.3L1472.6 2079.9M1468.3 2081.3L1470.9 2084.9M1468.3 2081.3L1465.7 2084.9M1468.3 2081.3L1464 2079.9M1504.5 2081.3L1504.5 2076.8M1504.5 2081.3L1508.8 2079.9M1504.5 2081.3L1507.1 2084.9M1504.5 2081.3L1501.9 2084.9M1504.5 2081.3L1500.2 2079.9M1540.7 2081.3L1540.7 2076.8M1540.7 2081.3L1545 2079.9M1540.7 2081.3L1543.3 2084.9M1540.7 2081.3L1538.1 2084.9M1540.7 2081.3L1536.4 2079.9M1468.3 2117.5L1468.3 2113M1468.3 2117.5L1472.6 2116.1M1468.3 2117.5L1470.9 2121.1M1468.3 2117.5L1465.7 2121.1M1468.3 2117.5L1464 2116.1M1504.5 2117.5L1504.5 2113M1504.5 2117.5L1508.8 2116.1M1504.5 2117.5L1507.1 2121.1M1504.5 2117.5L1501.9 2121.1M1504.5 2117.5L1500.2 2116.1M1576.9 2117.5L1576.9 2113M1576.9 2117.5L1581.2 2116.1M1576.9 2117.5L1579.5 2121.1M1576.9 2117.5L1574.3 2121.1M1576.9 2117.5L1572.6 2116.1M1468.3 2153.7L1468.3 2149.2M1468.3 2153.7L1472.6 2152.3M1468.3 2153.7L1470.9 2157.3M1468.3 2153.7L1465.7 2157.3M1468.3 2153.7L1464 2152.3M1576.9 2153.7L1576.9 2149.2M1576.9 2153.7L1581.2 2152.3M1576.9 2153.7L1579.5 2157.3M1576.9 2153.7L1574.3 2157.3M1576.9 2153.7L1572.6 2152.3M1613.1 2153.7L1613.1 2149.2M1613.1 2153.7L1617.4 2152.3M1613.1 2153.7L1615.7 2157.3M1613.1 2153.7L1610.5 2157.3M1613.1 2153.7L1608.8 2152.3M1468.3 2189.9L1468.3 2185.4M1468.3 2189.9L1472.6 2188.5M1468.3 2189.9L1470.9 2193.5M1468.3 2189.9L1465.7 2193.5M1468.3 2189.9L1464 2188.5M1504.5 2189.9L1504.5 2185.4M1504.5 2189.9L1508.8 2188.5M1504.5 2189.9L1507.1 2193.5M1504.5 2189.9L1501.9 2193.5M1504.5 2189.9L1500.2 2188.5M1576.9 2189.9L1576.9 2185.4M1576.9 2189.9L1581.2 2188.5M1576.9 2189.9L1579.5 2193.5M1576.9 2189.9L1574.3 2193.5M1576.9 2189.9L1572.6 2188.5M1613.1 2189.9L1613.1 2185.4M1613.1 2189.9L1617.4 2188.5M1613.1 2189.9L1615.7 2193.5M1613.1 2189.9L1610.5 2193.5M1613.1 2189.9L1608.8 2188.5M1649.3 2189.9L1649.3 2185.4M1649.3 2189.9L1653.6 2188.5M1649.3 2189.9L1651.9 2193.5M1649.3 2189.9L1646.7 2193.5M1649.3 2189.9L1645 2188.5M1468.3 2226.1L1468.3 2221.6M1468.3 2226.1L1472.6 2224.7M1468.3 2226.1L1470.9 2229.7M1468.3 2226.1L1465.7 2229.7M1468.3 2226.1L1464 2224.7M1576.9 2226.1L1576.9 2221.6M1576.9 2226.1L1581.2 2224.7M1576.9 2226.1L1579.5 2229.7M1576.9 2226.1L1574.3 2229.7M1576.9 2226.1L1572.6 2224.7M1613.1 2226.1L1613.1 2221.6M1613.1 2226.1L1617.4 2224.7M1613.1 2226.1L1615.7 2229.7M1613.1 2226.1L1610.5 2229.7M1613.1 2226.1L1608.8 2224.7M1685.5 2226.1L1685.5 2221.6M1685.5 2226.1L1689.8 2224.7M1685.5 2226.1L1688.1 2229.7M1685.5 2226.1L1682.9 2229.7M1685.5 2226.1L1681.2 2224.7M1468.3 2262.3L1468.3 2257.8M1468.3 2262.3L1472.6 2260.9M1468.3 2262.3L1470.9 2265.9M1468.3 2262.3L1465.7 2265.9M1468.3 2262.3L1464 2260.9M1504.5 2262.3L1504.5 2257.8M1504.5 2262.3L1508.8 2260.9M1504.5 2262.3L1507.1 2265.9M1504.5 2262.3L1501.9 2265.9M1504.5 2262.3L1500.2 2260.9M1540.7 2262.3L1540.7 2257.8M1540.7 2262.3L1545 2260.9M1540.7 2262.3L1543.3 2265.9M1540.7 2262.3L1538.1 2265.9M1540.7 2262.3L1536.4 2260.9M1576.9 2262.3L1576.9 2257.8M1576.9 2262.3L1581.2 2260.9M1576.9 2262.3L1579.5 2265.9M1576.9 2262.3L1574.3 2265.9M1576.9 2262.3L1572.6 2260.9M1613.1 2262.3L1613.1 2257.8M1613.1 2262.3L1617.4 2260.9M1613.1 2262.3L1615.7 2265.9M1613.1 2262.3L1610.5 2265.9M1613.1 2262.3L1608.8 2260.9M1649.3 2262.3L1649.3 2257.8M1649.3 2262.3L1653.6 2260.9M1649.3 2262.3L1651.9 2265.9M1649.3 2262.3L1646.7 2265.9M1649.3 2262.3L1645 2260.9M1685.5 2262.3L1685.5 2257.8M1685.5 2262.3L1689.8 2260.9M1685.5 2262.3L1688.1 2265.9M1685.5 2262.3L1682.9 2265.9M1685.5 2262.3L1681.2 2260.9M1721.7 2262.3L1721.7 2257.8M1721.7 2262.3L1726 2260.9M1721.7 2262.3L1724.3 2265.9M1721.7 2262.3L1719.1 2265.9M1721.7 2262.3L1717.4 2260.9M1468.3 2298.5L1468.3 2294M1468.3 2298.5L1472.6 2297.1M1468.3 2298.5L1470.9 2302.1M1468.3 2298.5L1465.7 2302.1M1468.3 2298.5L1464 2297.1M1576.9 2298.5L1576.9 2294M1576.9 2298.5L1581.2 2297.1M1576.9 2298.5L1579.5 2302.1M1576.9 2298.5L1574.3 2302.1M1576.9 2298.5L1572.6 2297.1M1613.1 2298.5L1613.1 2294M1613.1 2298.5L1617.4 2297.1M1613.1 2298.5L1615.7 2302.1M1613.1 2298.5L1610.5 2302.1M1613.1 2298.5L1608.8 2297.1M1649.3 2298.5L1649.3 2294M1649.3 2298.5L1653.6 2297.1M1649.3 2298.5L1651.9 2302.1M1649.3 2298.5L1646.7 2302.1M1649.3 2298.5L1645 2297.1M1685.5 2298.5L1685.5 2294M1685.5 2298.5L1689.8 2297.1M1685.5 2298.5L1688.1 2302.1M1685.5 2298.5L1682.9 2302.1M1685.5 2298.5L1681.2 2297.1M1721.7 2298.5L1721.7 2294M1721.7 2298.5L1726 2297.1M1721.7 2298.5L1724.3 2302.1M1721.7 2298.5L1719.1 2302.1M1721.7 2298.5L1717.4 2297.1M1757.9 2298.5L1757.9 2294M1757.9 2298.5L1762.2 2297.1M1757.9 2298.5L1760.5 2302.1M1757.9 2298.5L1755.3 2302.1M1757.9 2298.5L1753.6 2297.1M1504.5 2370.9L1504.5 2366.4M1504.5 2370.9L1508.8 2369.5M1504.5 2370.9L1507.1 2374.5M1504.5 2370.9L1501.9 2374.5M1504.5 2370.9L1500.2 2369.5M1830.3 2370.9L1830.3 2366.4M1830.3 2370.9L1834.6 2369.5M1830.3 2370.9L1832.9 2374.5M1830.3 2370.9L1827.7 2374.5M1830.3 2370.9L1826 2369.5" stroke="#000" stroke-width="1.75" stroke-linecap="round" fill="none"/>
<g font-size="17.6" fill="#1e1e1e" stroke="#1e1e1e" stroke-width="0.3" text-anchor="end">
<text x="1445.6" y="1978.2">TNF-a</text>
<text x="1445.6" y="2014.4">IL-6</text>
<text x="1445.6" y="2050.6">IL-8</text>
<text x="1445.6" y="2086.8">IL-1B</text>
<text x="1445.6" y="2123">IFN-y</text>
<text x="1445.6" y="2159.2">IL-2</text>
<text x="1445.6" y="2195.4">IL-12p70</text>
<text x="1445.6" y="2231.6">IL-13</text>
<text x="1445.6" y="2267.8">IL-4</text>
<text x="1445.6" y="2304">IL-10</text>
<text x="1445.6" y="2340.2">Neutrophils</text>
<text x="1445.6" y="2376.4">Monocytes</text>
</g>
<text transform="translate(1474.6 1947.6) rotate(-90)" font-size="17.6" fill="#1e1e1e" stroke="#1e1e1e" stroke-width="0.3">TNF-a</text>
<text transform="translate(1510.8 1983.8) rotate(-90)" font-size="17.6" fill="#1e1e1e" stroke="#1e1e1e" stroke-width="0.3">IL-6</text>
<text transform="translate(1547 2020) rotate(-90)" font-size="17.6" fill="#1e1e1e" stroke="#1e1e1e" stroke-width="0.3">IL-8</text>
<text transform="translate(1583.2 2056.2) rotate(-90)" font-size="17.6" fill="#1e1e1e" stroke="#1e1e1e" stroke-width="0.3">IL-1B</text>
<text transform="translate(1619.4 2092.4) rotate(-90)" font-size="17.6" fill="#1e1e1e" stroke="#1e1e1e" stroke-width="0.3">IFN-y</text>
<text transform="translate(1655.6 2128.6) rotate(-90)" font-size="17.6" fill="#1e1e1e" stroke="#1e1e1e" stroke-width="0.3">IL-2</text>
<text transform="translate(1691.8 2164.8) rotate(-90)" font-size="17.6" fill="#1e1e1e" stroke="#1e1e1e" stroke-width="0.3">IL-12p70</text>
<text transform="translate(1728 2201) rotate(-90)" font-size="17.6" fill="#1e1e1e" stroke="#1e1e1e" stroke-width="0.3">IL-13</text>
<text transform="translate(1764.2 2237.2) rotate(-90)" font-size="17.6" fill="#1e1e1e" stroke="#1e1e1e" stroke-width="0.3">IL-4</text>
<text transform="translate(1800.4 2273.4) rotate(-90)" font-size="17.6" fill="#1e1e1e" stroke="#1e1e1e" stroke-width="0.3">IL-10</text>
<text transform="translate(1836.6 2309.6) rotate(-90)" font-size="17.6" fill="#1e1e1e" stroke="#1e1e1e" stroke-width="0.3">Neutrophils</text>
<text transform="translate(1872.8 2345.8) rotate(-90)" font-size="17.6" fill="#1e1e1e" stroke="#1e1e1e" stroke-width="0.3">Monocytes</text>
<rect x="1450.2" y="2395.8" width="434.4" height="15.9" fill="url(#cbar)"/>
<g font-size="7.5" fill="#222" text-anchor="middle">
<text x="1450.2" y="2424.5">-1</text>
<text x="1493.6" y="2424.5">-0.8</text>
<text x="1537.1" y="2424.5">-0.6</text>
<text x="1580.5" y="2424.5">-0.4</text>
<text x="1624" y="2424.5">-0.2</text>
<text x="1667.4" y="2424.5">0</text>
<text x="1710.8" y="2424.5">0.2</text>
<text x="1754.3" y="2424.5">0.4</text>
<text x="1797.7" y="2424.5">0.6</text>
<text x="1841.2" y="2424.5">0.8</text>
<text x="1884.6" y="2424.5">1</text>
</g>
<path d="M1450.2 2411.7v2.5M1493.6 2411.7v2.5M1537.1 2411.7v2.5M1580.5 2411.7v2.5M1624 2411.7v2.5M1667.4 2411.7v2.5M1710.8 2411.7v2.5M1754.3 2411.7v2.5M1797.7 2411.7v2.5M1841.2 2411.7v2.5M1884.6 2411.7v2.5" stroke="#555" stroke-width="0.6"/>
<text x="1683.5" y="2488.8" font-size="45.5" fill="#000" text-anchor="middle" textLength="309" lengthAdjust="spacingAndGlyphs" stroke="#000" stroke-width="0.5">PLHIV-ART&gt;1yr</text></svg></body></html>
